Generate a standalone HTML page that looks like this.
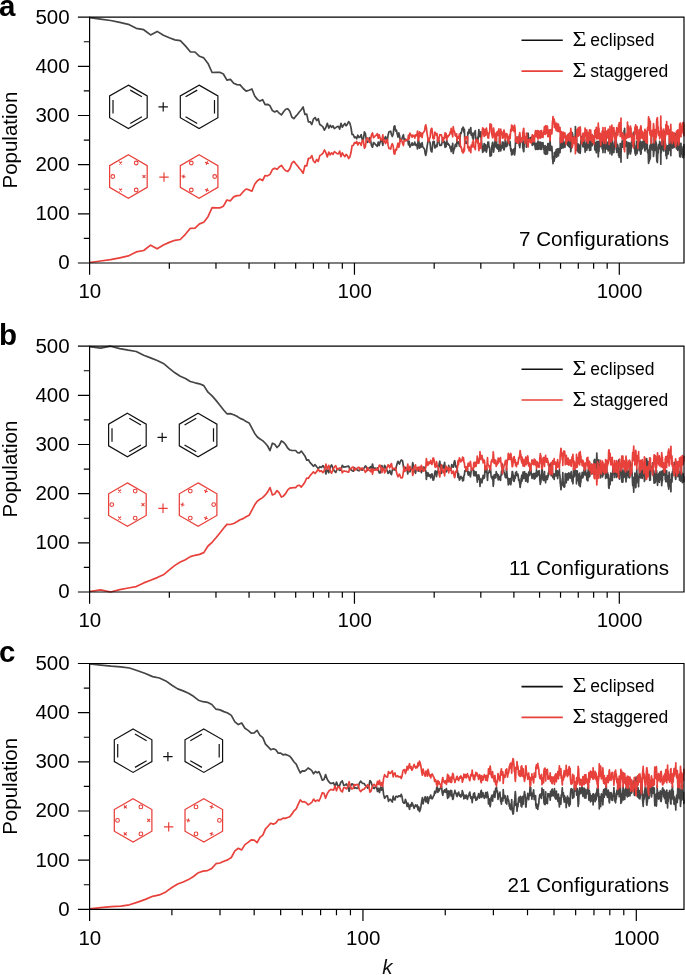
<!DOCTYPE html>
<html lang="en"><head><meta charset="utf-8"><title>Population vs k</title>
<style>html,body{margin:0;padding:0;background:#fff}body{width:685px;height:975px;overflow:hidden}</style></head>
<body>
<svg width="685" height="975" viewBox="0 0 685 975" style="display:block">
<rect width="685" height="975" fill="#fff"/>
<defs>
<clipPath id="cp0"><rect x="89.6" y="16.2" width="595.4" height="247.8"/></clipPath>
<clipPath id="cp1"><rect x="89.6" y="345.1" width="595.4" height="247.8"/></clipPath>
<clipPath id="cp2"><rect x="89.6" y="662.5" width="595.4" height="247.8"/></clipPath>
</defs>
<g font-family="'Liberation Sans', Arial, Helvetica, sans-serif" fill="#000">
<path d="M77.90 263.01H89.60M83.80 238.42H89.60M77.90 213.84H89.60M83.80 189.25H89.60M77.90 164.67H89.60M83.80 140.08H89.60M77.90 115.50H89.60M83.80 90.91H89.60M77.90 66.33H89.60M83.80 41.75H89.60M77.90 17.16H89.60M89.60 263.01V274.71M169.33 263.01V268.81M215.97 263.01V268.81M249.06 263.01V268.81M274.72 263.01V268.81M295.69 263.01V268.81M313.42 263.01V268.81M328.78 263.01V268.81M342.33 263.01V268.81M354.45 263.01V274.71M434.18 263.01V268.81M480.82 263.01V268.81M513.91 263.01V268.81M539.57 263.01V268.81M560.54 263.01V268.81M578.27 263.01V268.81M593.63 263.01V268.81M607.18 263.01V268.81M619.30 263.01V274.71" stroke="#000" stroke-width="1.20" fill="none"/>
<g clip-path="url(#cp0)" fill="none" stroke-linejoin="round" stroke-width="1.7">
<path d="M89.6 17.7L100.6 19.2L110.6 20.5L119.8 22.4L128.3 24.3L136.2 28.3L143.7 29.7L150.6 34.9L157.2 31.4L163.4 35.2L169.3 37.8L174.9 39.9L180.3 40.7L185.4 45.9L190.3 51.8L195.0 52.0L199.5 56.3L203.8 57.9L208.0 63.4L212.1 72.5L216.0 72.4L219.7 72.3L223.4 74.0L226.9 80.2L230.4 79.4L233.7 83.3L236.9 84.6L240.1 84.9L243.2 88.5L246.1 91.1L249.1 90.2L251.9 89.0L254.7 96.0L257.4 99.4L260.0 101.1L262.6 99.7L265.1 104.6L267.6 104.3L270.0 105.8L272.4 110.6L274.7 112.0L277.0 110.8L279.2 113.2L281.4 114.9L283.6 111.7L285.7 109.3L287.8 108.7L289.8 111.3L291.8 117.0L293.8 118.7L295.7 116.4L297.6 114.2L299.5 111.7L301.3 109.7L303.1 107.0L304.9 114.5L306.7 114.1L308.4 121.9L310.1 121.8L311.8 124.6L313.4 119.2L315.1 117.5L316.7 120.6L318.3 118.7L319.8 124.6L321.4 125.5L322.9 126.9L324.4 130.2L325.9 127.5L327.3 123.3L328.8 128.1L330.2 125.3L331.6 127.3L333.0 125.8L334.4 128.6L335.8 127.6L337.1 126.6L338.4 126.4L339.7 129.0L341.0 123.4L342.3 127.2L343.6 125.1L344.9 123.5L346.1 125.8L347.3 124.4L348.6 121.7L349.8 123.0L350.9 127.1L352.1 134.5L353.3 134.7L354.5 137.6L355.6 137.0L356.7 138.8L357.8 135.2L359.0 137.5L360.1 137.2L361.2 134.7L362.2 139.6L363.3 140.0L364.4 131.9L365.4 133.6L366.5 141.2L367.5 142.4L368.5 140.7L369.5 137.7L370.5 140.2L371.5 145.5L372.5 147.2L373.5 142.5L374.5 143.4L375.4 144.5L376.4 145.2L377.3 146.4L378.3 142.0L379.2 145.5L380.1 142.1L381.0 140.1L381.9 140.3L382.8 145.4L383.7 138.1L384.6 140.3L385.5 136.5L386.4 138.5L387.3 140.8L388.1 135.0L389.0 131.8L389.8 131.7L390.7 131.1L391.5 134.7L392.3 136.5L393.2 134.2L394.0 126.7L394.8 125.9L395.6 130.9L396.4 130.1L397.2 133.8L398.0 137.1L398.8 132.9L399.5 135.5L400.3 140.8L401.1 140.2L401.9 139.1L402.6 136.7L403.4 134.7L404.1 139.6L404.9 139.1L405.6 139.4L406.3 140.5L407.1 140.1L407.8 140.2L408.5 145.0L409.2 141.3L409.9 147.1L410.6 145.6L411.4 144.8L412.1 142.9L412.7 145.2L413.4 144.2L414.1 144.6L414.8 142.1L415.5 145.3L416.2 145.1L416.8 144.4L417.5 149.0L418.2 139.3L418.8 141.2L419.5 148.2L420.1 143.7L420.8 147.3L421.4 146.6L422.1 142.6L422.7 146.8L423.3 147.6L424.0 148.5L424.6 149.4L425.2 153.7L425.8 155.4L426.4 152.4L427.1 146.3L427.7 143.0L428.3 138.6L428.9 139.2L429.5 141.7L430.1 142.6L430.7 149.2L431.3 151.6L431.9 151.9L432.4 146.9L433.0 141.7L433.6 141.3L434.2 141.5L434.8 148.0L435.3 147.6L435.9 145.9L436.5 144.9L437.0 146.7L437.6 139.8L438.1 138.7L438.7 139.9L439.2 143.0L439.8 145.5L440.3 145.2L440.9 145.5L441.4 145.2L442.0 142.7L442.5 139.5L443.0 138.5L443.6 142.3L444.1 141.3L444.6 144.2L445.1 147.3L445.7 142.5L446.2 146.6L446.7 140.2L447.2 142.7L447.7 144.2L448.2 143.4L448.7 145.1L449.2 144.9L449.8 146.1L450.3 148.6L450.8 148.7L451.2 151.7L451.7 146.4L452.2 148.2L452.7 143.4L453.2 153.5L453.7 150.7L454.2 148.9L454.7 148.3L455.1 145.0L455.6 144.2L456.1 145.4L456.6 146.4L457.1 139.3L457.5 142.5L458.0 142.6L458.5 143.7L458.9 141.9L459.4 146.1L459.8 143.9L460.3 135.3L460.8 132.6L461.2 133.2L461.7 131.0L462.1 128.5L462.6 129.6L463.0 127.1L463.5 127.7L463.9 132.1L464.4 129.3L464.8 140.9L465.2 143.2L465.7 141.3L466.1 143.3L466.5 142.5L467.0 143.3L467.4 143.5L467.8 132.6L468.3 131.8L468.7 133.7L469.1 129.4L469.5 133.0L470.0 131.0L470.4 132.7L470.8 127.5L471.2 135.1L471.6 133.2L472.1 133.1L472.5 137.9L472.9 134.9L473.3 139.8L473.7 134.6L474.1 132.9L474.5 132.2L474.9 132.6L475.3 130.6L475.7 138.8L476.1 139.2L476.5 141.1L476.9 139.0L477.3 139.2L477.7 137.0L478.1 139.8L478.5 134.0L478.9 129.5L479.3 133.8L479.7 135.6L480.0 136.7L480.4 134.9L480.8 131.8L481.2 139.0L481.6 142.1L482.0 145.6L482.3 149.0L482.7 152.3L483.1 148.8L483.5 151.5L483.8 145.8L484.2 143.7L484.6 148.0L485.0 150.5L485.3 150.6L485.7 144.7L486.1 147.4L486.4 152.2L486.8 149.8L487.2 146.7L487.5 147.8L487.9 142.1L488.2 142.4L488.6 142.1L489.0 146.7L489.3 146.9L489.7 148.3L490.0 156.2L490.4 152.3L490.7 155.9L491.1 152.6L491.4 155.4L491.8 146.3L492.1 144.9L492.5 142.7L492.8 142.3L493.2 146.2L493.5 152.1L493.9 150.0L494.2 145.4L494.5 145.2L494.9 142.5L495.2 140.0L495.5 146.8L495.9 145.7L496.2 139.1L496.6 141.5L496.9 148.1L497.2 147.7L497.6 148.9L497.9 144.9L498.2 147.1L498.5 145.2L498.9 151.4L499.2 147.2L499.5 139.9L499.9 136.3L500.2 142.0L500.5 141.5L500.8 151.0L501.1 146.7L501.5 145.8L501.8 148.3L502.1 146.4L502.4 146.0L502.7 142.1L503.1 142.3L503.4 143.2L503.7 148.7L504.0 150.0L504.3 148.8L504.6 147.3L504.9 146.3L505.2 140.1L505.6 144.4L505.9 145.5L506.2 144.6L506.5 146.6L506.8 144.6L507.1 145.9L507.4 140.8L507.7 141.9L508.0 138.9L508.3 140.4L508.6 136.9L508.9 143.7L509.2 143.0L509.5 145.3L509.8 144.7L510.1 141.5L510.4 146.1L510.7 149.9L511.0 151.2L511.3 148.9L511.6 155.0L511.9 152.8L512.2 153.7L512.5 154.4L512.7 153.1L513.0 149.8L513.3 150.5L513.6 150.9L513.9 149.3L514.2 148.6L514.5 155.0L514.8 153.5L515.1 150.9L515.3 146.0L515.6 139.4L515.9 138.3L516.2 140.2L516.5 143.1L516.7 142.6L517.0 139.7L517.3 137.3L517.6 142.0L517.9 142.1L518.1 140.1L518.4 136.9L518.7 138.1L519.0 142.7L519.2 145.4L519.5 145.9L519.8 147.6L520.1 144.4L520.3 141.4L520.6 140.4L520.9 137.9L521.1 140.7L521.4 140.2L521.7 141.5L522.0 141.8L522.2 138.8L522.5 140.5L522.8 147.9L523.0 148.0L523.3 149.6L523.6 151.7L523.8 151.6L524.1 145.4L524.3 140.8L524.6 142.9L524.9 139.4L525.1 136.7L525.4 142.2L525.7 142.5L525.9 142.8L526.2 142.3L526.4 147.2L526.7 146.5L526.9 142.1L527.2 138.2L527.5 133.8L527.7 137.0L528.0 133.2L528.2 133.5L528.5 140.3L528.7 138.1L529.0 140.7L529.2 139.7L529.5 140.9L529.7 138.4L530.0 138.3L530.2 140.2L530.5 137.9L530.7 137.7L531.0 140.4L531.2 137.1L531.5 139.1L531.7 140.3L532.0 142.0L532.2 145.1L532.5 145.3L532.7 138.8L532.9 141.8L533.2 140.7L533.4 143.8L533.7 144.4L533.9 139.3L534.2 138.3L534.4 141.1L534.6 142.2L534.9 144.9L535.1 147.1L535.4 148.8L535.6 149.5L535.8 147.8L536.1 145.1L536.3 143.4L536.5 143.4L536.8 147.5L537.0 147.1L537.2 149.5L537.5 144.4L537.7 143.0L538.0 141.0L538.2 142.8L538.4 149.3L538.6 145.6L538.9 142.9L539.1 148.8L539.3 147.4L539.6 143.3L539.8 148.4L540.0 141.9L540.3 144.9L540.5 149.3L540.7 143.7L540.9 143.3L541.2 146.2L541.4 142.7L541.6 149.5L541.8 142.8L542.1 146.4L542.3 145.5L542.5 146.9L542.7 144.8L543.0 142.7L543.2 146.2L543.4 145.1L543.6 147.6L543.9 149.5L544.1 150.0L544.3 152.7L544.5 153.6L544.7 149.4L545.0 149.4L545.2 145.7L545.4 146.2L545.6 149.8L545.8 154.4L546.1 154.2L546.3 151.6L546.5 150.3L546.7 151.9L546.9 146.7L547.1 151.3L547.4 154.0L547.6 151.7L547.8 143.7L548.0 143.6L548.2 148.0L548.4 146.1L548.6 145.8L548.8 143.6L549.1 146.5L549.3 150.3L549.5 149.9L549.7 149.0L549.9 143.7L550.1 139.5L550.3 144.5L550.5 147.4L550.7 148.7L551.0 150.7L551.2 149.0L551.4 148.2L551.6 148.7L551.8 146.4L552.0 148.4L552.2 152.1L552.4 157.4L552.6 159.2L552.8 160.3L553.0 163.7L553.2 159.2L553.4 156.9L553.6 156.9L553.8 157.4L554.0 160.9L554.2 161.1L554.4 152.7L554.6 159.2L554.8 157.6L555.0 154.1L555.2 152.8L555.4 154.1L555.6 151.6L555.8 156.2L556.0 154.0L556.2 149.7L556.4 154.0L556.6 157.2L556.8 156.7L557.0 153.9L557.2 149.8L557.4 148.8L557.6 151.0L557.8 155.3L558.0 153.5L558.2 152.3L558.4 156.0L558.6 154.3L558.8 152.3L559.0 148.5L559.2 152.9L559.4 149.3L559.6 151.9L559.8 152.7L560.0 152.7L560.2 147.4L560.4 137.4L560.5 140.1L560.7 140.7L560.9 140.0L561.1 145.0L561.3 143.3L561.5 148.5L561.7 142.0L561.9 138.3L562.1 138.6L562.3 143.0L562.4 138.1L562.6 139.4L562.8 140.6L563.0 140.4L563.2 147.9L563.4 146.4L563.6 143.2L563.8 142.0L563.9 142.4L564.1 146.3L564.3 144.0L564.5 143.4L564.7 145.0L564.9 147.3L565.1 145.5L565.2 142.9L565.4 143.3L565.6 141.7L565.8 139.0L566.0 136.1L566.2 137.5L566.3 140.2L566.5 142.9L566.7 143.7L566.9 141.5L567.1 138.6L567.2 141.7L567.4 142.2L567.6 145.5L567.8 140.5L568.0 142.7L568.1 141.1L568.3 144.5L568.5 145.2L568.7 146.4L568.9 140.3L569.0 139.7L569.2 141.0L569.4 144.6L569.6 147.1L569.8 144.5L569.9 138.9L570.1 144.6L570.3 146.9L570.5 146.1L570.6 147.4L570.8 151.8L571.0 148.6L571.2 144.1L571.3 148.6L571.5 146.4L571.7 141.6L571.9 137.9L572.0 140.1L572.2 132.7L572.4 133.0L572.5 137.7L572.7 134.4L572.9 140.2L573.1 137.1L573.2 142.7L573.4 140.2L573.6 142.0L573.7 138.9L573.9 137.8L574.1 138.1L574.3 139.5L574.4 136.8L574.6 143.6L574.8 142.3L574.9 140.6L575.1 139.9L575.3 136.9L575.4 126.5L575.6 130.4L575.8 130.7L576.0 133.1L576.1 130.5L576.3 141.0L576.5 135.7L576.6 139.4L576.8 147.8L577.0 150.7L577.1 149.3L577.3 146.6L577.4 146.8L577.6 144.0L577.8 144.2L577.9 144.9L578.1 152.0L578.3 148.7L578.4 144.0L578.6 145.1L578.8 150.4L578.9 152.6L579.1 145.1L579.3 148.0L579.4 149.2L579.6 150.4L579.7 146.4L579.9 148.1L580.1 149.0L580.2 153.4L580.4 151.0L580.6 145.6L580.7 145.1L580.9 141.0L581.0 140.5L581.2 140.3L581.4 140.4L581.5 140.3L581.7 137.2L581.8 136.4L582.0 140.2L582.2 141.1L582.3 141.8L582.5 140.2L582.6 141.1L582.8 140.9L582.9 146.7L583.1 144.7L583.3 140.0L583.4 144.9L583.6 139.4L583.7 139.2L583.9 140.2L584.0 146.9L584.2 141.1L584.4 144.7L584.5 145.6L584.7 143.9L584.8 147.1L585.0 149.6L585.1 152.2L585.3 150.3L585.4 147.2L585.6 144.9L585.7 144.4L585.9 145.9L586.1 144.5L586.2 146.6L586.4 139.1L586.5 140.1L586.7 148.4L586.8 150.3L587.0 142.9L587.1 147.2L587.3 147.7L587.4 144.6L587.6 148.0L587.7 142.8L587.9 136.9L588.0 141.5L588.2 137.3L588.3 141.4L588.5 144.5L588.6 143.8L588.8 143.3L588.9 145.5L589.1 141.9L589.2 146.5L589.4 148.1L589.5 150.4L589.7 145.6L589.8 142.2L590.0 139.9L590.1 144.6L590.3 143.9L590.4 141.9L590.6 148.2L590.7 150.1L590.9 145.9L591.0 143.2L591.2 142.2L591.3 140.5L591.5 140.2L591.6 139.6L591.7 140.5L591.9 144.2L592.0 144.9L592.2 145.7L592.3 138.0L592.5 137.9L592.6 139.2L592.8 141.9L592.9 143.3L593.1 143.7L593.2 141.8L593.3 141.2L593.5 138.8L593.6 141.8L593.8 139.7L593.9 136.1L594.1 141.6L594.2 140.4L594.4 140.2L594.5 141.9L594.6 144.4L594.8 149.8L594.9 144.6L595.1 147.7L595.2 149.8L595.3 145.2L595.5 150.7L595.6 146.2L595.8 143.8L595.9 142.8L596.1 144.1L596.2 147.9L596.3 152.8L596.5 145.6L596.6 146.3L596.8 147.2L596.9 141.3L597.0 143.9L597.2 143.7L597.3 144.3L597.5 144.2L597.6 147.0L597.7 148.5L597.9 143.4L598.0 141.7L598.1 152.2L598.3 157.0L598.4 153.5L598.6 152.4L598.7 151.6L598.8 146.1L599.0 151.5L599.1 145.8L599.2 144.8L599.4 142.8L599.5 142.1L599.7 139.9L599.8 142.3L599.9 145.1L600.1 142.3L600.2 141.4L600.3 146.7L600.5 142.3L600.6 138.5L600.7 134.7L600.9 137.1L601.0 138.0L601.1 141.2L601.3 145.3L601.4 143.4L601.5 143.2L601.7 145.5L601.8 139.2L602.0 145.7L602.1 147.8L602.2 149.0L602.4 144.0L602.5 145.4L602.6 145.9L602.8 148.4L602.9 149.9L603.0 152.6L603.1 147.6L603.3 144.2L603.4 141.2L603.5 144.7L603.7 136.8L603.8 142.1L603.9 148.4L604.1 148.3L604.2 146.8L604.3 142.8L604.5 146.6L604.6 144.7L604.7 139.2L604.9 143.5L605.0 147.2L605.1 152.7L605.2 150.3L605.4 145.3L605.5 142.3L605.6 140.0L605.8 136.6L605.9 138.4L606.0 137.7L606.2 142.9L606.3 147.5L606.4 146.7L606.5 148.7L606.7 146.5L606.8 141.8L606.9 142.0L607.1 146.5L607.2 149.2L607.3 144.5L607.4 147.6L607.6 147.3L607.7 147.9L607.8 147.8L607.9 143.8L608.1 145.8L608.2 151.0L608.3 145.4L608.5 144.5L608.6 142.3L608.7 143.4L608.8 142.3L609.0 139.3L609.1 135.8L609.2 139.3L609.3 142.2L609.5 142.4L609.6 142.9L609.7 142.0L609.8 145.3L610.0 153.8L610.1 151.5L610.2 147.0L610.3 144.8L610.5 140.2L610.6 139.0L610.7 141.9L610.8 139.2L611.0 140.9L611.1 138.1L611.2 138.9L611.3 139.7L611.4 141.0L611.6 141.6L611.7 147.6L611.8 147.2L611.9 155.0L612.1 152.2L612.2 147.7L612.3 140.8L612.4 140.1L612.5 144.3L612.7 150.1L612.8 143.1L612.9 149.1L613.0 144.9L613.2 152.2L613.3 150.9L613.4 148.3L613.5 146.7L613.6 146.5L613.8 149.5L613.9 152.6L614.0 147.2L614.1 146.3L614.2 146.4L614.4 146.1L614.5 149.5L614.6 145.1L614.7 141.8L614.8 145.6L615.0 145.6L615.1 141.9L615.2 144.5L615.3 138.1L615.4 135.4L615.6 138.1L615.7 136.8L615.8 133.2L615.9 141.0L616.0 140.3L616.2 141.9L616.3 143.9L616.4 141.9L616.5 143.8L616.6 148.1L616.7 152.5L616.9 151.9L617.0 149.9L617.1 149.7L617.2 150.6L617.3 150.0L617.4 146.4L617.6 144.7L617.7 147.9L617.8 149.8L617.9 145.5L618.0 147.8L618.1 149.0L618.3 149.0L618.4 152.0L618.5 148.0L618.6 155.3L618.7 149.0L618.8 150.8L619.0 154.1L619.1 152.6L619.2 157.5L619.3 154.5L619.4 150.4L619.5 151.9L619.6 153.0L619.8 148.9L619.9 151.2L620.0 150.4L620.1 148.9L620.2 143.7L620.3 146.5L620.4 147.7L620.6 144.1L620.7 153.1L620.8 153.6L620.9 158.7L621.0 162.2L621.1 152.6L621.2 150.3L621.4 144.4L621.5 145.9L621.6 143.3L621.7 145.3L621.8 147.5L621.9 146.8L622.0 146.5L622.1 140.9L622.3 142.9L622.4 141.7L622.5 142.6L622.6 142.8L622.7 147.2L622.8 142.8L622.9 144.8L623.0 144.3L623.1 145.1L623.3 142.0L623.4 141.3L623.5 141.9L623.6 141.6L623.7 140.7L623.8 138.7L623.9 137.7L624.0 134.9L624.1 130.6L624.3 131.5L624.4 137.7L624.5 133.2L624.6 128.3L624.7 131.4L624.8 134.6L624.9 143.3L625.0 140.4L625.1 144.3L625.2 137.1L625.3 146.4L625.5 145.3L625.6 142.8L625.7 144.2L625.8 146.1L625.9 144.0L626.0 144.7L626.1 145.2L626.2 144.8L626.3 145.7L626.4 145.8L626.5 141.7L626.7 143.5L626.8 142.4L626.9 145.2L627.0 142.1L627.1 147.1L627.2 143.9L627.3 153.3L627.4 154.7L627.5 158.2L627.6 152.8L627.7 150.9L627.8 154.2L627.9 153.9L628.0 147.9L628.2 147.6L628.3 145.4L628.4 149.8L628.5 154.2L628.6 150.5L628.7 142.7L628.8 145.5L628.9 143.5L629.0 146.9L629.1 142.9L629.2 145.4L629.3 146.7L629.4 151.6L629.5 151.4L629.6 149.4L629.7 144.2L629.8 147.4L629.9 143.9L630.1 143.7L630.2 144.4L630.3 147.2L630.4 151.2L630.5 154.0L630.6 147.2L630.7 150.6L630.8 150.8L630.9 145.2L631.0 152.0L631.1 147.9L631.2 148.1L631.3 145.7L631.4 142.2L631.5 143.3L631.6 144.3L631.7 141.2L631.8 139.6L631.9 142.3L632.0 142.8L632.1 146.2L632.2 140.7L632.3 144.5L632.4 143.3L632.5 136.9L632.6 135.6L632.7 137.9L632.8 141.5L632.9 144.0L633.1 141.6L633.2 140.4L633.3 141.0L633.4 132.4L633.5 136.9L633.6 139.3L633.7 141.2L633.8 140.4L633.9 139.5L634.0 140.9L634.1 138.6L634.2 137.9L634.3 139.9L634.4 148.5L634.5 144.6L634.6 147.7L634.7 149.4L634.8 148.4L634.9 151.4L635.0 153.2L635.1 151.9L635.2 152.0L635.3 150.3L635.4 152.3L635.5 152.4L635.6 155.2L635.7 154.3L635.8 151.3L635.9 150.5L636.0 154.2L636.1 153.0L636.2 151.3L636.3 146.0L636.4 145.8L636.5 146.6L636.6 149.0L636.7 141.3L636.8 144.5L636.9 148.3L637.0 148.1L637.1 153.6L637.2 147.9L637.3 146.7L637.4 144.4L637.5 147.2L637.6 148.4L637.7 144.9L637.8 141.7L637.8 133.3L637.9 131.8L638.0 139.6L638.1 140.5L638.2 142.2L638.3 139.4L638.4 140.9L638.5 140.0L638.6 142.7L638.7 142.0L638.8 138.3L638.9 140.8L639.0 147.6L639.1 150.6L639.2 144.3L639.3 143.6L639.4 145.0L639.5 148.0L639.6 143.6L639.7 142.5L639.8 143.5L639.9 145.8L640.0 145.8L640.1 147.1L640.2 145.3L640.3 141.1L640.4 148.2L640.5 152.6L640.6 151.6L640.7 150.5L640.7 153.8L640.8 154.2L640.9 153.6L641.0 153.2L641.1 153.4L641.2 151.9L641.3 147.4L641.4 144.7L641.5 143.1L641.6 142.6L641.7 144.6L641.8 146.0L641.9 143.8L642.0 144.2L642.1 141.9L642.2 142.3L642.3 142.2L642.4 141.8L642.5 147.7L642.5 147.5L642.6 148.8L642.7 145.5L642.8 147.9L642.9 146.5L643.0 147.5L643.1 145.7L643.2 143.1L643.3 143.6L643.4 143.5L643.5 142.5L643.6 140.2L643.7 141.9L643.8 141.9L643.9 143.4L643.9 145.7L644.0 144.7L644.1 143.2L644.2 145.7L644.3 140.2L644.4 143.7L644.5 142.1L644.6 141.5L644.7 147.0L644.8 146.4L644.9 150.9L645.0 150.9L645.1 148.8L645.2 142.9L645.2 141.3L645.3 146.7L645.4 147.2L645.5 142.9L645.6 142.4L645.7 137.8L645.8 141.5L645.9 143.9L646.0 149.1L646.1 148.9L646.2 144.8L646.2 147.3L646.3 144.8L646.4 144.4L646.5 142.9L646.6 144.9L646.7 146.1L646.8 141.3L646.9 146.0L647.0 144.6L647.1 140.8L647.2 140.3L647.2 137.0L647.3 147.8L647.4 148.4L647.5 151.8L647.6 152.4L647.7 152.5L647.8 150.9L647.9 152.8L648.0 149.7L648.1 153.9L648.1 149.8L648.2 150.1L648.3 154.8L648.4 158.9L648.5 161.9L648.6 163.4L648.7 160.9L648.8 154.9L648.9 150.8L648.9 155.0L649.0 161.0L649.1 159.7L649.2 161.6L649.3 160.1L649.4 161.2L649.5 151.5L649.6 155.9L649.7 153.6L649.7 147.1L649.8 148.3L649.9 150.9L650.0 145.3L650.1 151.7L650.2 156.2L650.3 158.9L650.4 156.3L650.4 152.5L650.5 152.5L650.6 144.9L650.7 145.9L650.8 146.3L650.9 147.1L651.0 143.6L651.1 143.3L651.1 144.4L651.2 140.0L651.3 137.4L651.4 136.7L651.5 141.8L651.6 145.5L651.7 146.3L651.8 147.7L651.8 148.2L651.9 148.0L652.0 146.0L652.1 149.2L652.2 148.2L652.3 148.8L652.4 149.6L652.4 149.9L652.5 147.2L652.6 146.8L652.7 149.3L652.8 148.7L652.9 147.7L653.0 146.4L653.0 147.2L653.1 144.4L653.2 144.1L653.3 148.9L653.4 152.9L653.5 156.5L653.6 154.3L653.6 155.0L653.7 154.6L653.8 154.2L653.9 150.1L654.0 143.0L654.1 145.1L654.2 140.0L654.2 139.4L654.3 137.3L654.4 140.0L654.5 144.7L654.6 144.1L654.7 141.4L654.8 147.0L654.8 147.5L654.9 146.8L655.0 144.8L655.1 147.8L655.2 150.4L655.3 147.3L655.3 141.9L655.4 142.2L655.5 140.3L655.6 141.1L655.7 140.7L655.8 143.2L655.8 145.3L655.9 147.1L656.0 146.7L656.1 144.2L656.2 143.8L656.3 142.9L656.3 145.4L656.4 144.3L656.5 154.1L656.6 157.7L656.7 157.5L656.8 161.3L656.8 157.5L656.9 156.0L657.0 156.9L657.1 155.7L657.2 159.6L657.3 160.8L657.3 159.4L657.4 162.6L657.5 158.0L657.6 158.9L657.7 154.4L657.8 153.8L657.8 152.0L657.9 153.7L658.0 152.9L658.1 153.3L658.2 151.5L658.2 146.9L658.3 148.4L658.4 148.2L658.5 146.7L658.6 144.7L658.7 144.9L658.7 145.6L658.8 147.2L658.9 146.1L659.0 144.8L659.1 147.4L659.1 148.1L659.2 146.0L659.3 146.3L659.4 148.3L659.5 145.9L659.6 143.6L659.6 143.1L659.7 141.4L659.8 143.4L659.9 142.8L660.0 142.6L660.0 143.7L660.1 149.3L660.2 148.9L660.3 147.4L660.4 146.0L660.4 147.4L660.5 147.7L660.6 153.2L660.7 157.1L660.8 164.2L660.8 162.3L660.9 155.2L661.0 149.0L661.1 152.1L661.2 149.3L661.2 145.4L661.3 147.0L661.4 152.3L661.5 147.5L661.6 148.6L661.6 149.0L661.7 143.6L661.8 142.4L661.9 139.8L662.0 135.6L662.0 137.0L662.1 140.8L662.2 140.0L662.3 141.8L662.4 140.8L662.4 139.5L662.5 142.6L662.6 143.1L662.7 144.2L662.8 144.6L662.8 144.6L662.9 143.4L663.0 142.8L663.1 146.8L663.1 144.9L663.2 149.9L663.3 143.0L663.4 145.6L663.5 145.6L663.5 141.4L663.6 143.1L663.7 147.5L663.8 151.1L663.8 150.2L663.9 148.5L664.0 145.8L664.1 145.0L664.2 146.9L664.2 145.3L664.3 141.9L664.4 144.6L664.5 134.9L664.5 137.9L664.6 135.6L664.7 131.5L664.8 131.5L664.9 132.9L664.9 133.4L665.0 131.3L665.1 140.7L665.2 140.6L665.2 142.8L665.3 145.9L665.4 145.8L665.5 145.2L665.6 144.4L665.6 146.5L665.7 144.2L665.8 150.0L665.9 152.9L665.9 155.6L666.0 154.5L666.1 154.6L666.2 152.4L666.2 154.2L666.3 150.4L666.4 147.7L666.5 150.0L666.5 154.0L666.6 156.1L666.7 158.6L666.8 154.0L666.9 151.4L666.9 154.4L667.0 147.9L667.1 149.1L667.2 154.8L667.2 151.2L667.3 146.9L667.4 147.0L667.5 149.5L667.5 145.9L667.6 147.3L667.7 148.1L667.8 146.4L667.8 145.9L667.9 147.6L668.0 150.8L668.1 148.1L668.1 154.1L668.2 152.4L668.3 151.4L668.4 148.8L668.4 149.7L668.5 148.6L668.6 146.4L668.7 148.9L668.7 148.0L668.8 146.3L668.9 149.0L669.0 150.5L669.0 146.2L669.1 143.5L669.2 146.4L669.3 144.1L669.3 143.1L669.4 140.1L669.5 137.1L669.6 144.9L669.6 145.1L669.7 141.6L669.8 137.2L669.9 139.4L669.9 143.6L670.0 142.9L670.1 144.8L670.2 144.9L670.2 147.9L670.3 146.1L670.4 144.1L670.4 142.9L670.5 146.6L670.6 150.7L670.7 154.2L670.7 152.1L670.8 155.7L670.9 152.3L671.0 146.8L671.0 147.7L671.1 148.0L671.2 145.0L671.3 142.5L671.3 144.3L671.4 144.6L671.5 144.6L671.5 145.6L671.6 143.7L671.7 142.5L671.8 139.1L671.8 144.1L671.9 140.5L672.0 139.1L672.1 140.2L672.1 138.7L672.2 136.8L672.3 136.6L672.4 138.6L672.4 137.3L672.5 140.2L672.6 143.8L672.6 145.8L672.7 148.1L672.8 146.9L672.9 143.8L672.9 143.2L673.0 138.9L673.1 139.7L673.1 141.3L673.2 142.5L673.3 145.2L673.4 145.4L673.4 141.5L673.5 145.9L673.6 143.9L673.6 143.6L673.7 141.0L673.8 142.2L673.9 141.1L673.9 142.8L674.0 141.9L674.1 147.3L674.1 145.1L674.2 142.7L674.3 147.2L674.4 144.2L674.4 146.8L674.5 143.3L674.6 143.4L674.6 141.6L674.7 140.2L674.8 143.7L674.9 139.2L674.9 136.3L675.0 139.6L675.1 138.1L675.1 137.5L675.2 140.0L675.3 143.1L675.4 139.5L675.4 140.6L675.5 138.9L675.6 133.6L675.6 133.7L675.7 137.2L675.8 135.6L675.9 140.3L675.9 143.1L676.0 135.0L676.1 138.0L676.1 137.3L676.2 140.9L676.3 140.7L676.3 140.9L676.4 148.1L676.5 148.9L676.6 146.5L676.6 143.6L676.7 142.9L676.8 145.2L676.8 144.0L676.9 144.8L677.0 146.5L677.0 145.8L677.1 139.2L677.2 142.4L677.2 139.3L677.3 138.7L677.4 143.3L677.5 146.0L677.5 146.3L677.6 146.7L677.7 146.1L677.7 148.2L677.8 150.4L677.9 146.5L677.9 146.7L678.0 148.4L678.1 148.1L678.1 142.5L678.2 143.5L678.3 147.5L678.4 143.7L678.4 138.3L678.5 135.2L678.6 138.7L678.6 144.2L678.7 140.2L678.8 141.7L678.8 140.8L678.9 141.3L679.0 137.3L679.0 138.2L679.1 139.4L679.2 140.1L679.2 144.1L679.3 143.4L679.4 142.9L679.5 148.8L679.5 151.1L679.6 153.2L679.7 156.4L679.7 154.2L679.8 149.7L679.9 148.6L679.9 152.2L680.0 155.3L680.1 152.5L680.1 151.6L680.2 150.4L680.3 153.2L680.3 156.9L680.4 149.4L680.5 150.6L680.5 150.5L680.6 153.0L680.7 147.3L680.7 148.3L680.8 148.8L680.9 148.4L680.9 148.3L681.0 143.4L681.1 148.6L681.1 146.8L681.2 148.5L681.3 149.6L681.3 151.6L681.4 149.8L681.5 153.1L681.5 153.9L681.6 151.2L681.7 151.8L681.7 152.1L681.8 150.8L681.9 150.1L681.9 150.8L682.0 150.3L682.1 152.3L682.1 149.7L682.2 151.9L682.3 155.8L682.3 153.1L682.4 155.6L682.5 157.1L682.5 156.2L682.6 153.4L682.7 154.0L682.7 153.9L682.8 154.3L682.9 150.8L682.9 152.0L683.0 151.1L683.1 146.6L683.1 147.3L683.2 148.4L683.3 151.1L683.3 152.7L683.4 155.6L683.5 157.2L683.5 157.8L683.6 155.7L683.7 153.2L683.7 153.6L683.8 152.2L683.9 155.5L683.9 149.8L684.0 143.9" stroke="#454545"/>
<path d="M89.6 262.5L100.6 261.0L110.6 259.7L119.8 257.8L128.3 255.9L136.2 251.9L143.7 250.5L150.6 245.2L157.2 248.8L163.4 245.0L169.3 242.4L174.9 240.3L180.3 239.5L185.4 234.3L190.3 228.3L195.0 228.1L199.5 223.9L203.8 222.3L208.0 216.7L212.1 207.7L216.0 207.8L219.7 207.9L223.4 206.2L226.9 200.0L230.4 200.8L233.7 196.9L236.9 195.6L240.1 195.3L243.2 191.7L246.1 189.0L249.1 189.9L251.9 191.2L254.7 184.2L257.4 180.7L260.0 179.0L262.6 180.5L265.1 175.5L267.6 175.9L270.0 174.4L272.4 169.6L274.7 168.2L277.0 169.3L279.2 167.0L281.4 165.3L283.6 168.5L285.7 170.8L287.8 171.4L289.8 168.9L291.8 163.2L293.8 161.4L295.7 163.7L297.6 166.0L299.5 168.5L301.3 170.5L303.1 173.2L304.9 165.7L306.7 166.0L308.4 158.3L310.1 158.4L311.8 155.6L313.4 161.0L315.1 162.7L316.7 159.5L318.3 161.4L319.8 155.6L321.4 154.6L322.9 153.3L324.4 150.0L325.9 152.7L327.3 156.9L328.8 152.1L330.2 154.9L331.6 152.8L333.0 154.3L334.4 151.6L335.8 152.6L337.1 153.6L338.4 153.8L339.7 151.1L341.0 156.7L342.3 152.9L343.6 155.0L344.9 156.7L346.1 154.4L347.3 155.7L348.6 158.5L349.8 157.1L350.9 153.1L352.1 145.7L353.3 145.5L354.5 142.6L355.6 143.2L356.7 141.4L357.8 145.0L359.0 142.6L360.1 143.0L361.2 145.4L362.2 140.6L363.3 140.2L364.4 148.2L365.4 146.5L366.5 139.0L367.5 137.8L368.5 139.5L369.5 142.5L370.5 140.0L371.5 134.7L372.5 133.0L373.5 137.7L374.5 136.8L375.4 135.7L376.4 135.0L377.3 133.7L378.3 138.2L379.2 134.7L380.1 138.1L381.0 140.0L381.9 139.8L382.8 134.8L383.7 142.1L384.6 139.9L385.5 143.6L386.4 141.7L387.3 139.3L388.1 145.2L389.0 148.4L389.8 148.5L390.7 149.1L391.5 145.4L392.3 143.7L393.2 146.0L394.0 153.5L394.8 154.2L395.6 149.3L396.4 150.1L397.2 146.4L398.0 143.1L398.8 147.3L399.5 144.7L400.3 139.4L401.1 140.0L401.9 141.1L402.6 143.4L403.4 145.5L404.1 140.6L404.9 141.0L405.6 140.8L406.3 139.7L407.1 140.1L407.8 140.0L408.5 135.2L409.2 138.9L409.9 133.1L410.6 134.5L411.4 135.4L412.1 137.3L412.7 135.0L413.4 136.0L414.1 135.6L414.8 138.1L415.5 134.9L416.2 135.1L416.8 135.8L417.5 131.2L418.2 140.8L418.8 139.0L419.5 131.9L420.1 136.5L420.8 132.9L421.4 133.6L422.1 137.6L422.7 133.4L423.3 132.5L424.0 131.7L424.6 130.8L425.2 126.4L425.8 124.8L426.4 127.8L427.1 133.8L427.7 137.2L428.3 141.6L428.9 141.0L429.5 138.5L430.1 137.6L430.7 131.0L431.3 128.6L431.9 128.3L432.4 133.3L433.0 138.4L433.6 138.9L434.2 138.6L434.8 132.2L435.3 132.6L435.9 134.2L436.5 135.2L437.0 133.5L437.6 140.4L438.1 141.5L438.7 140.3L439.2 137.2L439.8 134.7L440.3 134.9L440.9 134.7L441.4 134.9L442.0 137.5L442.5 140.7L443.0 141.7L443.6 137.9L444.1 138.9L444.6 136.0L445.1 132.9L445.7 137.7L446.2 133.6L446.7 140.0L447.2 137.4L447.7 136.0L448.2 136.7L448.7 135.1L449.2 135.3L449.8 134.1L450.3 131.6L450.8 131.5L451.2 128.4L451.7 133.8L452.2 131.9L452.7 136.8L453.2 126.7L453.7 129.5L454.2 131.2L454.7 131.9L455.1 135.2L455.6 136.0L456.1 134.8L456.6 133.8L457.1 140.9L457.5 137.7L458.0 137.6L458.5 136.5L458.9 138.3L459.4 134.1L459.8 136.3L460.3 144.8L460.8 147.5L461.2 147.0L461.7 149.1L462.1 151.7L462.6 150.6L463.0 153.0L463.5 152.5L463.9 148.0L464.4 150.9L464.8 139.3L465.2 137.0L465.7 138.9L466.1 136.9L466.5 137.7L467.0 136.9L467.4 136.6L467.8 147.6L468.3 148.4L468.7 146.5L469.1 150.8L469.5 147.2L470.0 149.2L470.4 147.5L470.8 152.6L471.2 145.0L471.6 147.0L472.1 147.1L472.5 142.2L472.9 145.3L473.3 140.3L473.7 145.6L474.1 147.3L474.5 147.9L474.9 147.6L475.3 149.6L475.7 141.3L476.1 141.0L476.5 139.1L476.9 141.2L477.3 141.0L477.7 143.1L478.1 140.3L478.5 146.1L478.9 150.6L479.3 146.3L479.7 144.6L480.0 143.4L480.4 145.3L480.8 148.4L481.2 141.2L481.6 138.1L482.0 134.6L482.3 131.2L482.7 127.9L483.1 131.4L483.5 128.7L483.8 134.3L484.2 136.5L484.6 132.2L485.0 129.7L485.3 129.5L485.7 135.5L486.1 132.7L486.4 128.0L486.8 130.3L487.2 133.4L487.5 132.4L487.9 138.0L488.2 137.8L488.6 138.0L489.0 133.4L489.3 133.2L489.7 131.8L490.0 123.9L490.4 127.8L490.7 124.3L491.1 127.6L491.4 124.7L491.8 133.8L492.1 135.3L492.5 137.4L492.8 137.9L493.2 134.0L493.5 128.0L493.9 130.1L494.2 134.8L494.5 135.0L494.9 137.7L495.2 140.2L495.5 133.4L495.9 134.5L496.2 141.1L496.6 138.6L496.9 132.1L497.2 132.4L497.6 131.3L497.9 135.3L498.2 133.0L498.5 134.9L498.9 128.8L499.2 133.0L499.5 140.3L499.9 143.9L500.2 138.2L500.5 138.6L500.8 129.2L501.1 133.4L501.5 134.4L501.8 131.9L502.1 133.8L502.4 134.2L502.7 138.1L503.1 137.9L503.4 136.9L503.7 131.5L504.0 130.1L504.3 131.4L504.6 132.8L504.9 133.9L505.2 140.0L505.6 135.8L505.9 134.6L506.2 135.6L506.5 133.6L506.8 135.6L507.1 134.2L507.4 139.4L507.7 138.3L508.0 141.3L508.3 139.8L508.6 143.2L508.9 136.5L509.2 137.2L509.5 134.8L509.8 135.5L510.1 138.6L510.4 134.1L510.7 130.3L511.0 129.0L511.3 131.2L511.6 125.2L511.9 127.4L512.2 126.5L512.5 125.8L512.7 127.1L513.0 130.3L513.3 129.7L513.6 129.3L513.9 130.8L514.2 131.6L514.5 125.2L514.8 126.7L515.1 129.3L515.3 134.2L515.6 140.7L515.9 141.9L516.2 139.9L516.5 137.1L516.7 137.6L517.0 140.4L517.3 142.8L517.6 138.2L517.9 138.1L518.1 140.0L518.4 143.3L518.7 142.1L519.0 137.5L519.2 134.8L519.5 134.3L519.8 132.6L520.1 135.7L520.3 138.7L520.6 139.8L520.9 142.3L521.1 139.5L521.4 140.0L521.7 138.7L522.0 138.4L522.2 141.3L522.5 139.6L522.8 132.3L523.0 132.2L523.3 130.6L523.6 128.4L523.8 128.5L524.1 134.8L524.3 139.4L524.6 137.3L524.9 140.7L525.1 143.5L525.4 137.9L525.7 137.6L525.9 137.4L526.2 137.9L526.4 133.0L526.7 133.6L526.9 138.1L527.2 142.0L527.5 146.3L527.7 143.2L528.0 147.0L528.2 146.7L528.5 139.9L528.7 142.1L529.0 139.5L529.2 140.5L529.5 139.2L529.7 141.8L530.0 141.8L530.2 140.0L530.5 142.2L530.7 142.5L531.0 139.8L531.2 143.1L531.5 141.1L531.7 139.9L532.0 138.2L532.2 135.0L532.5 134.8L532.7 141.4L532.9 138.4L533.2 139.5L533.4 136.4L533.7 135.8L533.9 140.9L534.2 141.8L534.4 139.1L534.6 138.0L534.9 135.3L535.1 133.0L535.4 131.4L535.6 130.6L535.8 132.4L536.1 135.1L536.3 136.7L536.5 136.8L536.8 132.7L537.0 133.0L537.2 130.7L537.5 135.8L537.7 137.1L538.0 139.1L538.2 137.4L538.4 130.9L538.6 134.5L538.9 137.2L539.1 131.4L539.3 132.8L539.6 136.9L539.8 131.7L540.0 138.3L540.3 135.3L540.5 130.9L540.7 136.4L540.9 136.8L541.2 134.0L541.4 137.4L541.6 130.7L541.8 137.3L542.1 133.8L542.3 134.6L542.5 133.2L542.7 135.4L543.0 137.4L543.2 133.9L543.4 135.0L543.6 132.5L543.9 130.7L544.1 130.2L544.3 127.5L544.5 126.6L544.7 130.8L545.0 130.7L545.2 134.4L545.4 133.9L545.6 130.4L545.8 125.7L546.1 126.0L546.3 128.6L546.5 129.9L546.7 128.3L546.9 133.5L547.1 128.9L547.4 126.2L547.6 128.5L547.8 136.4L548.0 136.6L548.2 132.2L548.4 134.0L548.6 134.3L548.8 136.6L549.1 133.7L549.3 129.9L549.5 130.3L549.7 131.1L549.9 136.4L550.1 140.7L550.3 135.7L550.5 132.8L550.7 131.4L551.0 129.5L551.2 131.1L551.4 131.9L551.6 131.5L551.8 133.8L552.0 131.8L552.2 128.1L552.4 122.8L552.6 120.9L552.8 119.8L553.0 116.5L553.2 121.0L553.4 123.3L553.6 123.2L553.8 122.8L554.0 119.3L554.2 119.1L554.4 127.5L554.6 121.0L554.8 122.5L555.0 126.0L555.2 127.4L555.4 126.0L555.6 128.6L555.8 124.0L556.0 126.2L556.2 130.5L556.4 126.2L556.6 123.0L556.8 123.5L557.0 126.3L557.2 130.3L557.4 131.4L557.6 129.2L557.8 124.9L558.0 126.6L558.2 127.9L558.4 124.2L558.6 125.9L558.8 127.8L559.0 131.7L559.2 127.3L559.4 130.9L559.6 128.3L559.8 127.4L560.0 127.5L560.2 132.7L560.4 142.8L560.5 140.1L560.7 139.5L560.9 140.2L561.1 135.1L561.3 136.8L561.5 131.7L561.7 138.2L561.9 141.9L562.1 141.5L562.3 137.2L562.4 142.1L562.6 140.8L562.8 139.6L563.0 139.8L563.2 132.2L563.4 133.8L563.6 137.0L563.8 138.1L563.9 137.8L564.1 133.8L564.3 136.2L564.5 136.8L564.7 135.2L564.9 132.9L565.1 134.7L565.2 137.3L565.4 136.9L565.6 138.5L565.8 141.2L566.0 144.1L566.2 142.7L566.3 139.9L566.5 137.3L566.7 136.4L566.9 138.7L567.1 141.5L567.2 138.5L567.4 138.0L567.6 134.7L567.8 139.6L568.0 137.5L568.1 139.1L568.3 135.7L568.5 134.9L568.7 133.8L568.9 139.9L569.0 140.4L569.2 139.1L569.4 135.6L569.6 133.1L569.8 135.6L569.9 141.2L570.1 135.5L570.3 133.3L570.5 134.1L570.6 132.7L570.8 128.4L571.0 131.6L571.2 136.0L571.3 131.6L571.5 133.8L571.7 138.6L571.9 142.3L572.0 140.1L572.2 147.4L572.4 147.1L572.5 142.5L572.7 145.8L572.9 140.0L573.1 143.0L573.2 137.5L573.4 140.0L573.6 138.2L573.7 141.3L573.9 142.4L574.1 142.0L574.3 140.7L574.4 143.4L574.6 136.6L574.8 137.9L574.9 139.6L575.1 140.2L575.3 143.3L575.4 153.7L575.6 149.8L575.8 149.5L576.0 147.0L576.1 149.7L576.3 139.1L576.5 144.5L576.6 140.8L576.8 132.4L577.0 129.5L577.1 130.8L577.3 133.5L577.4 133.4L577.6 136.1L577.8 136.0L577.9 135.3L578.1 128.2L578.3 131.5L578.4 136.2L578.6 135.1L578.8 129.8L578.9 127.6L579.1 135.1L579.3 132.2L579.4 131.0L579.6 129.8L579.7 133.8L579.9 132.1L580.1 131.2L580.2 126.8L580.4 129.1L580.6 134.5L580.7 135.1L580.9 139.2L581.0 139.6L581.2 139.9L581.4 139.8L581.5 139.8L581.7 143.0L581.8 143.8L582.0 140.0L582.2 139.1L582.3 138.4L582.5 139.9L582.6 139.1L582.8 139.3L582.9 133.4L583.1 135.5L583.3 140.1L583.4 135.3L583.6 140.8L583.7 141.0L583.9 140.0L584.0 133.2L584.2 139.1L584.4 135.5L584.5 134.5L584.7 136.2L584.8 133.0L585.0 130.5L585.1 128.0L585.3 129.9L585.4 133.0L585.6 135.2L585.7 135.8L585.9 134.3L586.1 135.7L586.2 133.5L586.4 141.1L586.5 140.0L586.7 131.8L586.8 129.9L587.0 137.2L587.1 133.0L587.3 132.5L587.4 135.6L587.6 132.2L587.7 137.3L587.9 143.3L588.0 138.7L588.2 142.9L588.3 138.8L588.5 135.7L588.6 136.4L588.8 136.8L588.9 134.7L589.1 138.3L589.2 133.7L589.4 132.0L589.5 129.8L589.7 134.6L589.8 138.0L590.0 140.2L590.1 135.5L590.3 136.2L590.4 138.3L590.6 132.0L590.7 130.1L590.9 134.3L591.0 137.0L591.2 138.0L591.3 139.7L591.5 140.0L591.6 140.5L591.7 139.7L591.9 136.0L592.0 135.3L592.2 134.5L592.3 142.2L592.5 142.3L592.6 140.9L592.8 138.3L592.9 136.9L593.1 136.4L593.2 138.4L593.3 139.0L593.5 141.4L593.6 138.4L593.8 140.4L593.9 144.1L594.1 138.6L594.2 139.7L594.4 139.9L594.5 138.3L594.6 135.8L594.8 130.3L594.9 135.5L595.1 132.5L595.2 130.4L595.3 134.9L595.5 129.5L595.6 133.9L595.8 136.4L595.9 137.4L596.1 136.1L596.2 132.3L596.3 127.3L596.5 134.6L596.6 133.9L596.8 133.0L596.9 138.9L597.0 136.3L597.2 136.5L597.3 135.9L597.5 136.0L597.6 133.1L597.7 131.7L597.9 136.7L598.0 138.4L598.1 128.0L598.3 123.2L598.4 126.7L598.6 127.7L598.7 128.5L598.8 134.1L599.0 128.6L599.1 134.4L599.2 135.4L599.4 137.4L599.5 138.1L599.7 140.3L599.8 137.9L599.9 135.1L600.1 137.9L600.2 138.7L600.3 133.4L600.5 137.9L600.6 141.7L600.7 145.4L600.9 143.1L601.0 142.2L601.1 138.9L601.3 134.9L601.4 136.8L601.5 136.9L601.7 134.7L601.8 140.9L602.0 134.5L602.1 132.3L602.2 131.2L602.4 136.2L602.5 134.7L602.6 134.3L602.8 131.8L602.9 130.3L603.0 127.6L603.1 132.6L603.3 136.0L603.4 138.9L603.5 135.5L603.7 143.3L603.8 138.0L603.9 131.8L604.1 131.8L604.2 133.4L604.3 137.3L604.5 133.6L604.6 135.5L604.7 140.9L604.9 136.6L605.0 133.0L605.1 127.5L605.2 129.9L605.4 134.8L605.5 137.9L605.6 140.2L605.8 143.6L605.9 141.8L606.0 142.4L606.2 137.3L606.3 132.7L606.4 133.5L606.5 131.4L606.7 133.6L606.8 138.4L606.9 138.2L607.1 133.6L607.2 131.0L607.3 135.7L607.4 132.5L607.6 132.9L607.7 132.3L607.8 132.4L607.9 136.4L608.1 134.4L608.2 129.2L608.3 134.8L608.5 135.7L608.6 137.9L608.7 136.8L608.8 137.9L609.0 140.9L609.1 144.4L609.2 140.9L609.3 137.9L609.5 137.8L609.6 137.3L609.7 138.2L609.8 134.8L610.0 126.4L610.1 128.7L610.2 133.2L610.3 135.4L610.5 140.0L610.6 141.2L610.7 138.3L610.8 141.0L611.0 139.3L611.1 142.1L611.2 141.3L611.3 140.4L611.4 139.1L611.6 138.6L611.7 132.6L611.8 132.9L611.9 125.2L612.1 128.0L612.2 132.4L612.3 139.3L612.4 140.1L612.5 135.9L612.7 130.1L612.8 137.0L612.9 131.0L613.0 135.3L613.2 128.0L613.3 129.3L613.4 131.9L613.5 133.5L613.6 133.7L613.8 130.7L613.9 127.6L614.0 133.0L614.1 133.9L614.2 133.8L614.4 134.1L614.5 130.7L614.6 135.1L614.7 138.4L614.8 134.5L615.0 134.5L615.1 138.3L615.2 135.7L615.3 142.1L615.4 144.7L615.6 142.1L615.7 143.4L615.8 147.0L615.9 139.2L616.0 139.9L616.2 138.2L616.3 136.3L616.4 138.3L616.5 136.4L616.6 132.1L616.7 127.7L616.9 128.3L617.0 130.2L617.1 130.5L617.2 129.6L617.3 130.2L617.4 133.8L617.6 135.5L617.7 132.3L617.8 130.4L617.9 134.6L618.0 132.3L618.1 131.1L618.3 131.2L618.4 128.1L618.5 132.2L618.6 124.9L618.7 131.2L618.8 129.3L619.0 126.1L619.1 127.6L619.2 122.7L619.3 125.7L619.4 129.8L619.5 128.3L619.6 127.2L619.8 131.2L619.9 128.9L620.0 129.8L620.1 131.3L620.2 136.4L620.3 133.7L620.4 132.5L620.6 136.1L620.7 127.0L620.8 126.5L620.9 121.4L621.0 118.0L621.1 127.6L621.2 129.9L621.4 135.8L621.5 134.2L621.6 136.8L621.7 134.9L621.8 132.7L621.9 133.4L622.0 133.7L622.1 139.2L622.3 137.3L622.4 138.5L622.5 137.6L622.6 137.4L622.7 133.0L622.8 137.4L622.9 135.3L623.0 135.8L623.1 135.1L623.3 138.2L623.4 138.9L623.5 138.3L623.6 138.6L623.7 139.5L623.8 141.5L623.9 142.4L624.0 145.3L624.1 149.6L624.3 148.7L624.4 142.5L624.5 147.0L624.6 151.8L624.7 148.8L624.8 145.5L624.9 136.9L625.0 139.7L625.1 135.9L625.2 143.0L625.3 133.8L625.5 134.9L625.6 137.4L625.7 135.9L625.8 134.0L625.9 136.2L626.0 135.5L626.1 135.0L626.2 135.3L626.3 134.5L626.4 134.4L626.5 138.5L626.7 136.7L626.8 137.8L626.9 135.0L627.0 138.0L627.1 133.1L627.2 136.3L627.3 126.9L627.4 125.5L627.5 122.0L627.6 127.3L627.7 129.3L627.8 126.0L627.9 126.2L628.0 132.2L628.2 132.6L628.3 134.8L628.4 130.3L628.5 126.0L628.6 129.7L628.7 137.5L628.8 134.6L628.9 136.7L629.0 133.2L629.1 137.3L629.2 134.8L629.3 133.4L629.4 128.6L629.5 128.7L629.6 130.8L629.7 136.0L629.8 132.7L629.9 136.2L630.1 136.4L630.2 135.7L630.3 133.0L630.4 129.0L630.5 126.2L630.6 133.0L630.7 129.6L630.8 129.3L630.9 134.9L631.0 128.2L631.1 132.3L631.2 132.1L631.3 134.5L631.4 138.0L631.5 136.9L631.6 135.8L631.7 139.0L631.8 140.6L631.9 137.9L632.0 137.4L632.1 133.9L632.2 139.4L632.3 135.7L632.4 136.9L632.5 143.2L632.6 144.5L632.7 142.2L632.8 138.7L632.9 136.1L633.1 138.6L633.2 139.7L633.3 139.2L633.4 147.8L633.5 143.2L633.6 140.9L633.7 139.0L633.8 139.8L633.9 140.7L634.0 139.3L634.1 141.5L634.2 142.3L634.3 140.3L634.4 131.7L634.5 135.5L634.6 132.5L634.7 130.7L634.8 131.8L634.9 128.8L635.0 127.0L635.1 128.3L635.2 128.2L635.3 129.8L635.4 127.9L635.5 127.8L635.6 124.9L635.7 125.9L635.8 128.9L635.9 129.7L636.0 125.9L636.1 127.1L636.2 128.8L636.3 134.2L636.4 134.4L636.5 133.5L636.6 131.2L636.7 138.9L636.8 135.6L636.9 131.9L637.0 132.1L637.1 126.5L637.2 132.3L637.3 133.5L637.4 135.8L637.5 133.0L637.6 131.7L637.7 135.3L637.8 138.5L637.8 146.8L637.9 148.4L638.0 140.6L638.1 139.7L638.2 137.9L638.3 140.8L638.4 139.3L638.5 140.2L638.6 137.4L638.7 138.2L638.8 141.9L638.9 139.4L639.0 132.6L639.1 129.5L639.2 135.9L639.3 136.6L639.4 135.2L639.5 132.1L639.6 136.6L639.7 137.7L639.8 136.7L639.9 134.4L640.0 134.3L640.1 133.0L640.2 134.9L640.3 139.1L640.4 131.9L640.5 127.6L640.6 128.6L640.7 129.7L640.7 126.4L640.8 125.9L640.9 126.5L641.0 127.0L641.1 126.7L641.2 128.3L641.3 132.8L641.4 135.5L641.5 137.1L641.6 137.5L641.7 135.6L641.8 134.2L641.9 136.4L642.0 136.0L642.1 138.3L642.2 137.9L642.3 137.9L642.4 138.4L642.5 132.5L642.5 132.7L642.6 131.4L642.7 134.7L642.8 132.2L642.9 133.6L643.0 132.6L643.1 134.5L643.2 137.1L643.3 136.6L643.4 136.7L643.5 137.7L643.6 140.0L643.7 138.3L643.8 138.3L643.9 136.8L643.9 134.5L644.0 135.5L644.1 136.9L644.2 134.5L644.3 139.9L644.4 136.5L644.5 138.1L644.6 138.7L644.7 133.2L644.8 133.8L644.9 129.3L645.0 129.3L645.1 131.3L645.2 137.2L645.2 138.8L645.3 133.5L645.4 132.9L645.5 137.2L645.6 137.8L645.7 142.3L645.8 138.7L645.9 136.3L646.0 131.0L646.1 131.3L646.2 135.4L646.2 132.9L646.3 135.3L646.4 135.8L646.5 137.3L646.6 135.3L646.7 134.0L646.8 138.9L646.9 134.2L647.0 135.6L647.1 139.4L647.2 139.9L647.2 143.2L647.3 132.4L647.4 131.7L647.5 128.4L647.6 127.8L647.7 127.7L647.8 129.3L647.9 127.4L648.0 130.5L648.1 126.3L648.1 130.3L648.2 130.0L648.3 125.4L648.4 121.3L648.5 118.3L648.6 116.8L648.7 119.2L648.8 125.3L648.9 129.4L648.9 125.2L649.0 119.2L649.1 120.4L649.2 118.6L649.3 120.0L649.4 119.0L649.5 128.7L649.6 124.3L649.7 126.6L649.7 133.1L649.8 131.9L649.9 129.3L650.0 134.8L650.1 128.5L650.2 124.0L650.3 121.3L650.4 123.9L650.4 127.7L650.5 127.7L650.6 135.3L650.7 134.3L650.8 133.8L650.9 133.0L651.0 136.6L651.1 136.9L651.1 135.8L651.2 140.2L651.3 142.8L651.4 143.5L651.5 138.4L651.6 134.6L651.7 133.8L651.8 132.4L651.8 132.0L651.9 132.1L652.0 134.2L652.1 130.9L652.2 131.9L652.3 131.4L652.4 130.6L652.4 130.3L652.5 132.9L652.6 133.4L652.7 130.8L652.8 131.5L652.9 132.5L653.0 133.8L653.0 133.0L653.1 135.8L653.2 136.0L653.3 131.3L653.4 127.3L653.5 123.7L653.6 125.9L653.6 125.1L653.7 125.6L653.8 126.0L653.9 130.1L654.0 137.2L654.1 135.1L654.2 140.2L654.2 140.7L654.3 142.9L654.4 140.1L654.5 135.5L654.6 136.1L654.7 138.8L654.8 133.2L654.8 132.7L654.9 133.4L655.0 135.4L655.1 132.3L655.2 129.7L655.3 132.9L655.3 138.3L655.4 138.0L655.5 139.9L655.6 139.1L655.7 139.5L655.8 137.0L655.8 134.9L655.9 133.0L656.0 133.4L656.1 136.0L656.2 136.3L656.3 137.2L656.3 134.7L656.4 135.9L656.5 126.1L656.6 122.5L656.7 122.7L656.8 118.9L656.8 122.7L656.9 124.2L657.0 123.3L657.1 124.5L657.2 120.5L657.3 119.4L657.3 120.8L657.4 117.6L657.5 122.1L657.6 121.3L657.7 125.8L657.8 126.4L657.8 128.2L657.9 126.5L658.0 127.3L658.1 126.9L658.2 128.6L658.2 133.2L658.3 131.7L658.4 132.0L658.5 133.4L658.6 135.5L658.7 135.3L658.7 134.6L658.8 133.0L658.9 134.0L659.0 135.3L659.1 132.8L659.1 132.1L659.2 134.2L659.3 133.9L659.4 131.9L659.5 134.3L659.6 136.5L659.6 137.1L659.7 138.8L659.8 136.8L659.9 137.3L660.0 137.6L660.0 136.4L660.1 130.9L660.2 131.3L660.3 132.7L660.4 134.2L660.4 132.8L660.5 132.5L660.6 127.0L660.7 123.1L660.8 116.0L660.8 117.9L660.9 124.9L661.0 131.2L661.1 128.1L661.2 130.9L661.2 134.7L661.3 133.2L661.4 127.9L661.5 132.6L661.6 131.6L661.6 131.2L661.7 136.6L661.8 137.8L661.9 140.4L662.0 144.6L662.0 143.2L662.1 139.3L662.2 140.2L662.3 138.4L662.4 139.4L662.4 140.7L662.5 137.6L662.6 137.1L662.7 136.0L662.8 135.6L662.8 135.6L662.9 136.8L663.0 137.4L663.1 133.4L663.1 135.3L663.2 130.3L663.3 137.1L663.4 134.6L663.5 134.5L663.5 138.7L663.6 137.1L663.7 132.6L663.8 129.1L663.8 130.0L663.9 131.7L664.0 134.3L664.1 135.2L664.2 133.3L664.2 134.9L664.3 138.2L664.4 135.6L664.5 145.3L664.5 142.2L664.6 144.5L664.7 148.7L664.8 148.7L664.9 147.2L664.9 146.7L665.0 148.8L665.1 139.5L665.2 139.5L665.2 137.3L665.3 134.3L665.4 134.3L665.5 135.0L665.6 135.8L665.6 133.7L665.7 135.9L665.8 130.2L665.9 127.3L665.9 124.6L666.0 125.7L666.1 125.5L666.2 127.8L666.2 126.0L666.3 129.8L666.4 132.5L666.5 130.2L666.5 126.2L666.6 124.1L666.7 121.6L666.8 126.2L666.9 128.8L666.9 125.8L667.0 132.3L667.1 131.0L667.2 125.4L667.2 128.9L667.3 133.3L667.4 133.2L667.5 130.6L667.5 134.3L667.6 132.9L667.7 132.1L667.8 133.8L667.8 134.2L667.9 132.6L668.0 129.3L668.1 132.0L668.1 126.1L668.2 127.7L668.3 128.7L668.4 131.4L668.4 130.4L668.5 131.6L668.6 133.8L668.7 131.2L668.7 132.2L668.8 133.9L668.9 131.1L669.0 129.7L669.0 134.0L669.1 136.7L669.2 133.8L669.3 136.1L669.3 137.1L669.4 140.1L669.5 143.0L669.6 135.3L669.6 135.0L669.7 138.6L669.8 143.0L669.9 140.8L669.9 136.6L670.0 137.3L670.1 135.4L670.2 135.2L670.2 132.3L670.3 134.1L670.4 136.1L670.4 137.3L670.5 133.6L670.6 129.4L670.7 126.0L670.7 128.0L670.8 124.4L670.9 127.9L671.0 133.4L671.0 132.4L671.1 132.2L671.2 135.2L671.3 137.7L671.3 135.9L671.4 135.6L671.5 135.5L671.5 134.6L671.6 136.5L671.7 137.7L671.8 141.1L671.8 136.1L671.9 139.7L672.0 141.1L672.1 140.0L672.1 141.4L672.2 143.4L672.3 143.6L672.4 141.5L672.4 142.9L672.5 140.0L672.6 136.3L672.6 134.3L672.7 132.1L672.8 133.2L672.9 136.4L672.9 136.9L673.0 141.3L673.1 140.5L673.1 138.8L673.2 137.7L673.3 135.0L673.4 134.7L673.4 138.7L673.5 134.3L673.6 136.2L673.6 136.5L673.7 139.2L673.8 137.9L673.9 139.1L673.9 137.3L674.0 138.2L674.1 132.9L674.1 135.1L674.2 137.5L674.3 133.0L674.4 136.0L674.4 133.4L674.5 136.8L674.6 136.7L674.6 138.6L674.7 140.0L674.8 136.5L674.9 140.9L674.9 143.8L675.0 140.6L675.1 142.0L675.1 142.7L675.2 140.2L675.3 137.1L675.4 140.7L675.4 139.6L675.5 141.3L675.6 146.6L675.6 146.4L675.7 143.0L675.8 144.6L675.9 139.8L675.9 137.1L676.0 145.2L676.1 142.2L676.1 142.9L676.2 139.3L676.3 139.4L676.3 139.2L676.4 132.1L676.5 131.2L676.6 133.7L676.6 136.6L676.7 137.3L676.8 134.9L676.8 136.2L676.9 135.3L677.0 133.7L677.0 134.4L677.1 141.0L677.2 137.8L677.2 140.8L677.3 141.4L677.4 136.9L677.5 134.2L677.5 133.9L677.6 133.5L677.7 134.1L677.7 131.9L677.8 129.8L677.9 133.7L677.9 133.5L678.0 131.8L678.1 132.0L678.1 137.7L678.2 136.6L678.3 132.7L678.4 136.5L678.4 141.9L678.5 144.9L678.6 141.4L678.6 136.0L678.7 139.9L678.8 138.4L678.8 139.4L678.9 138.9L679.0 142.9L679.0 142.0L679.1 140.7L679.2 140.1L679.2 136.1L679.3 136.8L679.4 137.3L679.5 131.4L679.5 129.1L679.6 126.9L679.7 123.8L679.7 126.0L679.8 130.4L679.9 131.6L679.9 127.9L680.0 124.9L680.1 127.6L680.1 128.5L680.2 129.8L680.3 127.0L680.3 123.2L680.4 130.8L680.5 129.6L680.5 129.7L680.6 127.2L680.7 132.8L680.7 131.8L680.8 131.4L680.9 131.8L680.9 131.9L681.0 136.8L681.1 131.6L681.1 133.4L681.2 131.6L681.3 130.6L681.3 128.6L681.4 130.3L681.5 127.0L681.5 126.2L681.6 129.0L681.7 128.4L681.7 128.1L681.8 129.4L681.9 130.1L681.9 129.4L682.0 129.9L682.1 127.9L682.1 130.5L682.2 128.3L682.3 124.4L682.3 127.1L682.4 124.5L682.5 123.1L682.5 123.9L682.6 126.8L682.7 126.2L682.7 126.2L682.8 125.9L682.9 129.4L682.9 128.2L683.0 129.0L683.1 133.6L683.1 132.9L683.2 131.7L683.3 129.1L683.3 127.5L683.4 124.6L683.5 123.0L683.5 122.4L683.6 124.5L683.7 126.9L683.7 126.6L683.8 127.9L683.9 124.7L683.9 130.3L684.0 136.3" stroke="#e8403a"/>
</g>
<path d="M89.60 17.16H684.00V263.01H89.60Z" stroke="#000" stroke-width="1.20" fill="none"/>
<text x="69.6" y="269.4" font-size="20.5" text-anchor="end">0</text>
<text x="69.6" y="220.2" font-size="20.5" text-anchor="end">100</text>
<text x="69.6" y="171.1" font-size="20.5" text-anchor="end">200</text>
<text x="69.6" y="121.9" font-size="20.5" text-anchor="end">300</text>
<text x="69.6" y="72.7" font-size="20.5" text-anchor="end">400</text>
<text x="69.6" y="23.6" font-size="20.5" text-anchor="end">500</text>
<text x="89.8" y="298.0" font-size="20.5" text-anchor="middle">10</text>
<text x="354.7" y="298.0" font-size="20.5" text-anchor="middle">100</text>
<text x="619.5" y="298.0" font-size="20.5" text-anchor="middle">1000</text>
<text transform="translate(17.2 140.1) rotate(-90)" font-size="20.5" text-anchor="middle">Population</text>
<text x="-1.0" y="15.8" font-size="29.5" font-weight="bold" fill="#000">a</text>
<text x="669" y="245.7" font-size="20.6" text-anchor="end">7 Configurations</text>
<path d="M521.5 40.3H562.8" stroke="#111" stroke-width="1.6"/>
<path d="M521.5 71.1H562.8" stroke="#e8403a" stroke-width="1.6"/>
<text transform="translate(572.6 46.1) scale(1.18 1.03)" font-size="20.5" font-family="'Liberation Serif', 'DejaVu Serif', serif">Σ</text><text x="590.3" y="46.1" font-size="17.5">eclipsed</text>
<text transform="translate(572.6 77.1) scale(1.18 1.03)" font-size="20.5" font-family="'Liberation Serif', 'DejaVu Serif', serif">Σ</text><text x="590.3" y="77.1" font-size="17.5">staggered</text>
<polygon points="128.40,85.11 147.19,95.96 147.19,117.66 128.40,128.51 109.61,117.66 109.61,95.96" fill="none" stroke="#111" stroke-width="1.20" stroke-linejoin="miter"/><line x1="130.27" y1="90.12" x2="141.92" y2="96.84" stroke="#111" stroke-width="1.20"/><line x1="141.92" y1="116.78" x2="130.27" y2="123.50" stroke="#111" stroke-width="1.20"/><line x1="113.01" y1="113.54" x2="113.01" y2="100.08" stroke="#111" stroke-width="1.20"/>
<path d="M158.50 106.91H167.90M163.20 102.21V111.61" stroke="#111" stroke-width="1.20" fill="none"/>
<polygon points="199.10,85.11 217.89,95.96 217.89,117.66 199.10,128.51 180.31,117.66 180.31,95.96" fill="none" stroke="#111" stroke-width="1.20" stroke-linejoin="miter"/><line x1="214.49" y1="100.08" x2="214.49" y2="113.54" stroke="#111" stroke-width="1.20"/><line x1="197.23" y1="123.50" x2="185.58" y2="116.78" stroke="#111" stroke-width="1.20"/><line x1="185.58" y1="96.84" x2="197.23" y2="90.12" stroke="#111" stroke-width="1.20"/>
<polygon points="128.40,154.81 147.19,165.66 147.19,187.36 128.40,198.21 109.61,187.36 109.61,165.66" fill="none" stroke="#e8403a" stroke-width="1.25" stroke-linejoin="miter"/><circle cx="136.20" cy="163.00" r="1.85" fill="none" stroke="#e8403a" stroke-width="1.1"/><path d="M142.55 175.06L145.45 177.96M142.55 177.96L145.45 175.06" stroke="#e8403a" stroke-width="1.1" fill="none"/><circle cx="136.20" cy="190.02" r="1.85" fill="none" stroke="#e8403a" stroke-width="1.1"/><path d="M119.15 188.57L122.05 191.47M119.15 191.47L122.05 188.57" stroke="#e8403a" stroke-width="1.1" fill="none"/><circle cx="112.80" cy="176.51" r="1.85" fill="none" stroke="#e8403a" stroke-width="1.1"/><path d="M119.15 161.55L122.05 164.45M119.15 164.45L122.05 161.55" stroke="#e8403a" stroke-width="1.1" fill="none"/>
<path d="M159.30 177.11H168.70M164.00 172.41V181.81" stroke="#e8403a" stroke-width="1.20" fill="none"/>
<polygon points="199.10,154.81 217.89,165.66 217.89,187.36 199.10,198.21 180.31,187.36 180.31,165.66" fill="none" stroke="#e8403a" stroke-width="1.25" stroke-linejoin="miter"/><path d="M206.28 164.90L207.52 161.10M205.00 162.38L208.80 163.62" stroke="#e8403a" stroke-width="1.1" fill="none"/><circle cx="214.70" cy="176.51" r="1.85" fill="none" stroke="#e8403a" stroke-width="1.1"/><path d="M206.28 191.92L207.52 188.12M205.00 189.40L208.80 190.64" stroke="#e8403a" stroke-width="1.1" fill="none"/><circle cx="191.30" cy="190.02" r="1.85" fill="none" stroke="#e8403a" stroke-width="1.1"/><path d="M182.88 178.41L184.12 174.61M181.60 175.89L185.40 177.13" stroke="#e8403a" stroke-width="1.1" fill="none"/><circle cx="191.30" cy="163.00" r="1.85" fill="none" stroke="#e8403a" stroke-width="1.1"/>
</g>
<g font-family="'Liberation Sans', Arial, Helvetica, sans-serif" fill="#000">
<path d="M77.90 592.00H89.60M83.80 567.41H89.60M77.90 542.83H89.60M83.80 518.25H89.60M77.90 493.66H89.60M83.80 469.07H89.60M77.90 444.49H89.60M83.80 419.90H89.60M77.90 395.32H89.60M83.80 370.74H89.60M77.90 346.15H89.60M89.60 592.00V603.70M169.33 592.00V597.80M215.97 592.00V597.80M249.06 592.00V597.80M274.72 592.00V597.80M295.69 592.00V597.80M313.42 592.00V597.80M328.78 592.00V597.80M342.33 592.00V597.80M354.45 592.00V603.70M434.18 592.00V597.80M480.82 592.00V597.80M513.91 592.00V597.80M539.57 592.00V597.80M560.54 592.00V597.80M578.27 592.00V597.80M593.63 592.00V597.80M607.18 592.00V597.80M619.30 592.00V603.70" stroke="#000" stroke-width="1.20" fill="none"/>
<g clip-path="url(#cp1)" fill="none" stroke-linejoin="round" stroke-width="1.7">
<path d="M89.6 346.6L100.6 348.2L110.6 346.2L119.8 348.6L128.3 350.2L136.2 351.5L143.7 355.2L150.6 357.9L157.2 360.5L163.4 363.4L169.3 368.4L174.9 372.8L180.3 376.2L185.4 378.5L190.3 381.5L195.0 382.8L199.5 383.8L203.8 385.6L208.0 392.2L212.1 395.9L216.0 400.4L219.7 405.0L223.4 409.7L226.9 413.8L230.4 413.6L233.7 414.7L236.9 416.3L240.1 418.4L243.2 419.6L246.1 421.5L249.1 422.9L251.9 428.1L254.7 433.4L257.4 437.0L260.0 439.0L262.6 440.6L265.1 443.0L267.6 446.0L270.0 450.5L272.4 443.2L274.7 444.2L277.0 447.5L279.2 445.3L281.4 441.0L283.6 442.2L285.7 444.8L287.8 448.2L289.8 450.0L291.8 450.3L293.8 450.5L295.7 450.5L297.6 452.7L299.5 452.8L301.3 451.1L303.1 453.5L304.9 455.9L306.7 460.2L308.4 459.8L310.1 462.6L311.8 464.4L313.4 466.3L315.1 464.7L316.7 466.8L318.3 468.7L319.8 466.7L321.4 467.5L322.9 465.6L324.4 467.7L325.9 474.0L327.3 468.9L328.8 472.8L330.2 467.2L331.6 464.9L333.0 468.6L334.4 471.2L335.8 472.5L337.1 468.5L338.4 469.3L339.7 470.3L341.0 470.0L342.3 465.3L343.6 467.1L344.9 466.9L346.1 466.8L347.3 466.3L348.6 466.0L349.8 469.3L350.9 469.6L352.1 470.7L353.3 471.1L354.5 467.7L355.6 469.5L356.7 469.4L357.8 470.5L359.0 470.8L360.1 468.3L361.2 469.6L362.2 470.2L363.3 468.6L364.4 467.9L365.4 465.9L366.5 467.2L367.5 470.5L368.5 468.3L369.5 467.9L370.5 466.7L371.5 469.2L372.5 464.0L373.5 468.9L374.5 468.0L375.4 468.1L376.4 469.6L377.3 467.8L378.3 469.4L379.2 472.8L380.1 472.9L381.0 470.7L381.9 465.5L382.8 470.1L383.7 469.2L384.6 465.4L385.5 466.7L386.4 469.1L387.3 471.0L388.1 473.4L389.0 472.2L389.8 470.4L390.7 473.6L391.5 474.5L392.3 469.8L393.2 469.1L394.0 469.9L394.8 469.7L395.6 470.2L396.4 466.3L397.2 463.4L398.0 461.3L398.8 463.2L399.5 464.1L400.3 461.6L401.1 460.2L401.9 460.2L402.6 461.1L403.4 466.3L404.1 471.5L404.9 467.0L405.6 468.1L406.3 468.1L407.1 470.0L407.8 474.0L408.5 467.6L409.2 467.5L409.9 471.9L410.6 470.0L411.4 469.3L412.1 468.7L412.7 462.7L413.4 465.6L414.1 471.4L414.8 471.5L415.5 473.3L416.2 469.1L416.8 468.1L417.5 467.9L418.2 471.1L418.8 469.2L419.5 470.8L420.1 466.9L420.8 469.7L421.4 472.7L422.1 468.8L422.7 470.6L423.3 467.0L424.0 467.2L424.6 467.7L425.2 469.2L425.8 470.7L426.4 479.5L427.1 472.6L427.7 476.0L428.3 473.2L428.9 476.2L429.5 475.8L430.1 474.7L430.7 477.8L431.3 475.6L431.9 473.8L432.4 475.5L433.0 480.1L433.6 480.0L434.2 477.3L434.8 472.3L435.3 470.9L435.9 471.3L436.5 476.7L437.0 473.6L437.6 471.1L438.1 471.4L438.7 466.9L439.2 463.6L439.8 461.2L440.3 466.3L440.9 468.2L441.4 473.4L442.0 469.2L442.5 469.0L443.0 465.4L443.6 466.1L444.1 468.0L444.6 462.3L445.1 467.5L445.7 471.0L446.2 471.9L446.7 468.6L447.2 469.0L447.7 469.8L448.2 470.9L448.7 465.3L449.2 467.9L449.8 470.0L450.3 468.7L450.8 470.1L451.2 468.3L451.7 464.7L452.2 466.3L452.7 465.3L453.2 467.2L453.7 465.0L454.2 461.9L454.7 460.6L455.1 462.2L455.6 466.9L456.1 466.5L456.6 466.1L457.1 468.9L457.5 470.8L458.0 477.4L458.5 473.5L458.9 477.1L459.4 480.2L459.8 479.5L460.3 477.8L460.8 476.3L461.2 477.9L461.7 477.3L462.1 477.5L462.6 481.0L463.0 479.8L463.5 480.3L463.9 475.9L464.4 475.0L464.8 471.0L465.2 470.3L465.7 471.2L466.1 468.7L466.5 467.2L467.0 471.3L467.4 468.3L467.8 473.1L468.3 475.1L468.7 471.8L469.1 473.5L469.5 472.3L470.0 475.2L470.4 476.8L470.8 473.8L471.2 470.5L471.6 468.0L472.1 469.6L472.5 468.6L472.9 468.8L473.3 468.8L473.7 474.8L474.1 475.6L474.5 471.4L474.9 475.7L475.3 473.6L475.7 474.8L476.1 471.9L476.5 476.5L476.9 477.2L477.3 482.1L477.7 479.2L478.1 474.8L478.5 479.1L478.9 475.0L479.3 477.9L479.7 478.5L480.0 486.4L480.4 478.9L480.8 481.3L481.2 480.7L481.6 482.5L482.0 482.8L482.3 478.1L482.7 479.7L483.1 475.3L483.5 477.2L483.8 476.2L484.2 478.1L484.6 476.5L485.0 468.3L485.3 469.2L485.7 469.3L486.1 472.2L486.4 471.3L486.8 468.8L487.2 476.5L487.5 480.5L487.9 473.5L488.2 473.3L488.6 473.0L489.0 472.1L489.3 470.8L489.7 470.0L490.0 472.2L490.4 468.3L490.7 471.2L491.1 475.9L491.4 477.4L491.8 477.7L492.1 478.7L492.5 478.3L492.8 476.3L493.2 486.3L493.5 484.1L493.9 478.1L494.2 474.8L494.5 476.8L494.9 478.2L495.2 474.5L495.5 477.0L495.9 477.6L496.2 471.6L496.6 474.7L496.9 473.4L497.2 474.0L497.6 474.4L497.9 476.9L498.2 480.0L498.5 475.1L498.9 479.0L499.2 476.5L499.5 479.4L499.9 478.5L500.2 476.7L500.5 480.5L500.8 476.2L501.1 475.5L501.5 471.1L501.8 474.9L502.1 471.7L502.4 464.4L502.7 466.0L503.1 470.1L503.4 469.3L503.7 470.6L504.0 471.9L504.3 472.8L504.6 474.6L504.9 474.3L505.2 476.9L505.6 477.7L505.9 474.9L506.2 475.9L506.5 468.0L506.8 471.5L507.1 475.1L507.4 478.6L507.7 477.6L508.0 480.2L508.3 484.9L508.6 479.8L508.9 483.5L509.2 478.9L509.5 479.9L509.8 483.7L510.1 478.7L510.4 481.4L510.7 484.7L511.0 483.8L511.3 479.5L511.6 477.1L511.9 475.2L512.2 471.6L512.5 471.5L512.7 472.1L513.0 475.2L513.3 480.6L513.6 480.9L513.9 475.7L514.2 481.5L514.5 477.0L514.8 475.6L515.1 478.4L515.3 477.8L515.6 472.5L515.9 475.5L516.2 473.5L516.5 471.6L516.7 475.3L517.0 474.9L517.3 473.9L517.6 476.0L517.9 474.0L518.1 475.2L518.4 477.7L518.7 480.5L519.0 479.3L519.2 480.5L519.5 482.1L519.8 483.9L520.1 487.5L520.3 486.7L520.6 482.0L520.9 483.6L521.1 478.5L521.4 477.4L521.7 475.7L522.0 481.1L522.2 474.7L522.5 479.7L522.8 477.4L523.0 472.1L523.3 474.5L523.6 477.4L523.8 478.1L524.1 474.7L524.3 471.8L524.6 471.9L524.9 476.3L525.1 478.7L525.4 477.1L525.7 481.1L525.9 481.2L526.2 473.6L526.4 478.0L526.7 474.7L526.9 478.1L527.2 478.7L527.5 478.5L527.7 482.3L528.0 480.8L528.2 475.1L528.5 473.3L528.7 472.2L529.0 475.7L529.2 475.1L529.5 473.5L529.7 471.6L530.0 468.7L530.2 472.9L530.5 467.3L530.7 468.7L531.0 470.2L531.2 475.1L531.5 475.4L531.7 475.9L532.0 478.4L532.2 478.2L532.5 476.3L532.7 477.6L532.9 473.9L533.2 476.6L533.4 473.6L533.7 474.4L533.9 473.5L534.2 479.2L534.4 477.7L534.6 477.5L534.9 474.2L535.1 478.4L535.4 473.2L535.6 477.2L535.8 473.2L536.1 472.6L536.3 476.1L536.5 469.7L536.8 475.1L537.0 476.6L537.2 476.2L537.5 474.9L537.7 474.3L538.0 471.7L538.2 471.3L538.4 471.5L538.6 474.2L538.9 474.9L539.1 470.7L539.3 475.6L539.6 474.6L539.8 480.6L540.0 481.1L540.3 484.5L540.5 478.6L540.7 482.9L540.9 481.9L541.2 477.9L541.4 475.8L541.6 472.1L541.8 469.3L542.1 469.8L542.3 469.6L542.5 472.8L542.7 474.5L543.0 480.0L543.2 479.0L543.4 474.9L543.6 477.2L543.9 480.7L544.1 479.3L544.3 475.3L544.5 471.6L544.7 477.3L545.0 476.1L545.2 478.5L545.4 476.6L545.6 482.8L545.8 477.8L546.1 477.4L546.3 476.3L546.5 475.9L546.7 479.7L546.9 476.7L547.1 478.0L547.4 479.4L547.6 476.6L547.8 475.5L548.0 477.3L548.2 473.1L548.4 475.4L548.6 475.0L548.8 472.7L549.1 470.7L549.3 468.2L549.5 464.5L549.7 466.0L549.9 470.3L550.1 466.9L550.3 463.9L550.5 467.5L550.7 466.6L551.0 470.1L551.2 475.8L551.4 471.9L551.6 471.3L551.8 470.9L552.0 466.9L552.2 463.6L552.4 468.7L552.6 472.4L552.8 477.6L553.0 475.8L553.2 476.9L553.4 474.4L553.6 474.2L553.8 476.1L554.0 476.5L554.2 479.4L554.4 474.0L554.6 476.2L554.8 474.2L555.0 475.9L555.2 475.5L555.4 473.4L555.6 473.5L555.8 476.0L556.0 468.5L556.2 471.2L556.4 471.1L556.6 473.0L556.8 475.9L557.0 470.9L557.2 471.1L557.4 471.0L557.6 478.6L557.8 477.5L558.0 474.6L558.2 474.5L558.4 475.2L558.6 472.2L558.8 472.9L559.0 473.2L559.2 471.2L559.4 469.6L559.6 475.2L559.8 474.7L560.0 476.6L560.2 483.4L560.4 481.1L560.5 486.1L560.7 484.9L560.9 489.7L561.1 489.2L561.3 486.6L561.5 483.2L561.7 483.4L561.9 484.5L562.1 485.2L562.3 478.5L562.4 480.1L562.6 480.3L562.8 472.6L563.0 477.9L563.2 483.6L563.4 484.5L563.6 484.8L563.8 487.0L563.9 485.4L564.1 484.0L564.3 487.1L564.5 483.5L564.7 486.8L564.9 482.5L565.1 481.4L565.2 474.1L565.4 473.6L565.6 475.0L565.8 474.7L566.0 475.2L566.2 478.5L566.3 482.8L566.5 478.3L566.7 474.2L566.9 477.1L567.1 478.0L567.2 479.9L567.4 477.3L567.6 473.8L567.8 476.8L568.0 477.9L568.1 480.0L568.3 479.1L568.5 476.2L568.7 472.9L568.9 474.7L569.0 478.2L569.2 475.9L569.4 474.0L569.6 476.2L569.8 477.0L569.9 476.0L570.1 473.5L570.3 473.5L570.5 473.1L570.6 473.8L570.8 478.3L571.0 476.5L571.2 476.0L571.3 471.7L571.5 476.3L571.7 478.1L571.9 475.8L572.0 481.3L572.2 480.0L572.4 479.4L572.5 480.2L572.7 479.0L572.9 483.8L573.1 480.4L573.2 477.7L573.4 473.5L573.6 468.5L573.7 469.7L573.9 468.5L574.1 477.0L574.3 474.5L574.4 470.9L574.6 468.9L574.8 469.2L574.9 472.1L575.1 473.0L575.3 473.1L575.4 472.2L575.6 470.8L575.8 472.0L576.0 476.2L576.1 470.5L576.3 474.6L576.5 483.8L576.6 478.1L576.8 474.8L577.0 475.0L577.1 471.5L577.3 471.0L577.4 474.9L577.6 474.3L577.8 477.6L577.9 478.6L578.1 480.8L578.3 479.2L578.4 474.4L578.6 477.4L578.8 476.0L578.9 483.3L579.1 485.3L579.3 482.1L579.4 478.3L579.6 475.0L579.7 473.2L579.9 478.1L580.1 479.1L580.2 486.6L580.4 484.0L580.6 481.0L580.7 480.5L580.9 482.1L581.0 479.1L581.2 476.7L581.4 476.0L581.5 477.5L581.7 476.7L581.8 475.7L582.0 474.6L582.2 472.4L582.3 472.6L582.5 477.6L582.6 478.0L582.8 475.4L582.9 476.5L583.1 475.0L583.3 476.9L583.4 472.6L583.6 472.4L583.7 472.6L583.9 471.2L584.0 470.2L584.2 471.5L584.4 468.5L584.5 467.6L584.7 468.2L584.8 469.6L585.0 475.0L585.1 474.0L585.3 472.3L585.4 474.9L585.6 469.5L585.7 471.0L585.9 474.7L586.1 475.4L586.2 474.4L586.4 474.1L586.5 475.9L586.7 475.7L586.8 480.0L587.0 479.9L587.1 476.8L587.3 477.9L587.4 475.4L587.6 472.4L587.7 473.7L587.9 480.9L588.0 475.4L588.2 469.8L588.3 474.7L588.5 473.0L588.6 472.1L588.8 477.4L588.9 477.3L589.1 471.2L589.2 470.5L589.4 469.9L589.5 467.5L589.7 470.6L589.8 476.2L590.0 470.6L590.1 473.4L590.3 473.4L590.4 469.7L590.6 469.5L590.7 469.1L590.9 471.9L591.0 470.6L591.2 464.0L591.3 466.9L591.5 471.8L591.6 471.5L591.7 473.9L591.9 472.8L592.0 472.6L592.2 470.5L592.3 470.1L592.5 469.4L592.6 465.2L592.8 468.9L592.9 468.4L593.1 467.3L593.2 471.7L593.3 474.0L593.5 473.8L593.6 474.5L593.8 469.6L593.9 469.5L594.1 460.0L594.2 463.5L594.4 466.0L594.5 459.9L594.6 464.7L594.8 459.3L594.9 472.5L595.1 474.0L595.2 468.8L595.3 464.1L595.5 463.8L595.6 466.5L595.8 468.3L595.9 466.3L596.1 466.3L596.2 464.0L596.3 467.0L596.5 465.1L596.6 461.4L596.8 453.1L596.9 455.6L597.0 457.6L597.2 463.5L597.3 469.3L597.5 476.3L597.6 472.8L597.7 465.0L597.9 465.8L598.0 474.9L598.1 472.6L598.3 472.3L598.4 472.7L598.6 466.2L598.7 463.4L598.8 459.8L599.0 464.5L599.1 465.0L599.2 469.6L599.4 466.4L599.5 470.8L599.7 466.0L599.8 465.9L599.9 465.4L600.1 470.4L600.2 468.8L600.3 473.8L600.5 476.5L600.6 477.8L600.7 470.9L600.9 470.4L601.0 473.5L601.1 470.9L601.3 464.0L601.4 466.1L601.5 470.8L601.7 474.7L601.8 474.3L602.0 467.7L602.1 469.4L602.2 470.9L602.4 473.5L602.5 477.0L602.6 472.9L602.8 472.0L602.9 471.3L603.0 475.6L603.1 472.8L603.3 471.7L603.4 467.3L603.5 466.0L603.7 469.2L603.8 469.7L603.9 469.8L604.1 470.5L604.2 473.5L604.3 471.7L604.5 465.4L604.6 467.5L604.7 464.4L604.9 467.4L605.0 470.9L605.1 472.3L605.2 474.3L605.4 471.4L605.5 468.4L605.6 478.4L605.8 475.1L605.9 473.6L606.0 468.6L606.2 473.0L606.3 473.8L606.4 470.7L606.5 469.4L606.7 465.4L606.8 470.3L606.9 473.6L607.1 473.3L607.2 477.8L607.3 476.5L607.4 472.8L607.6 472.6L607.7 476.9L607.8 477.7L607.9 477.5L608.1 475.6L608.2 474.4L608.3 475.6L608.5 480.7L608.6 485.7L608.7 487.1L608.8 488.1L609.0 487.1L609.1 488.3L609.2 486.0L609.3 485.6L609.5 483.1L609.6 481.4L609.7 478.5L609.8 481.1L610.0 482.8L610.1 484.7L610.2 483.3L610.3 479.2L610.5 476.0L610.6 475.6L610.7 475.9L610.8 473.1L611.0 473.6L611.1 476.4L611.2 473.5L611.3 475.5L611.4 478.7L611.6 477.9L611.7 480.4L611.8 479.5L611.9 480.1L612.1 480.1L612.2 480.7L612.3 480.5L612.4 477.5L612.5 475.4L612.7 474.2L612.8 469.7L612.9 474.3L613.0 473.1L613.2 469.9L613.3 468.7L613.4 465.7L613.5 470.0L613.6 467.1L613.8 470.9L613.9 467.7L614.0 467.8L614.1 466.9L614.2 470.1L614.4 471.3L614.5 477.4L614.6 474.7L614.7 471.9L614.8 469.8L615.0 467.1L615.1 466.3L615.2 467.1L615.3 467.5L615.4 469.6L615.6 467.5L615.7 467.9L615.8 467.6L615.9 468.9L616.0 471.4L616.2 474.9L616.3 475.1L616.4 472.3L616.5 477.4L616.6 476.0L616.7 465.7L616.9 466.7L617.0 468.9L617.1 469.7L617.2 471.4L617.3 471.3L617.4 472.2L617.6 476.2L617.7 472.2L617.8 473.3L617.9 470.2L618.0 470.6L618.1 469.3L618.3 470.2L618.4 462.6L618.5 462.5L618.6 460.2L618.7 463.9L618.8 471.5L619.0 473.1L619.1 471.6L619.2 472.1L619.3 474.3L619.4 476.0L619.5 479.1L619.6 479.0L619.8 476.9L619.9 474.6L620.0 472.4L620.1 473.9L620.2 473.8L620.3 474.3L620.4 472.2L620.6 471.8L620.7 470.6L620.8 471.5L620.9 472.8L621.0 469.7L621.1 467.3L621.2 474.4L621.4 473.3L621.5 472.3L621.6 470.2L621.7 477.4L621.8 482.0L621.9 481.5L622.0 479.8L622.1 482.1L622.3 477.6L622.4 474.2L622.5 472.0L622.6 470.1L622.7 474.7L622.8 474.5L622.9 482.1L623.0 477.3L623.1 474.1L623.3 472.5L623.4 475.3L623.5 475.3L623.6 472.1L623.7 475.6L623.8 475.2L623.9 473.8L624.0 475.6L624.1 477.5L624.3 473.7L624.4 471.2L624.5 468.3L624.6 468.9L624.7 472.4L624.8 473.5L624.9 475.5L625.0 476.0L625.1 474.4L625.2 470.3L625.3 470.7L625.5 466.2L625.6 471.3L625.7 472.8L625.8 472.4L625.9 478.9L626.0 481.9L626.1 480.5L626.2 478.9L626.3 476.1L626.4 475.0L626.5 475.3L626.7 478.3L626.8 476.9L626.9 471.9L627.0 471.0L627.1 473.3L627.2 472.2L627.3 471.4L627.4 467.7L627.5 469.5L627.6 469.1L627.7 468.6L627.8 469.9L627.9 470.5L628.0 473.0L628.2 472.1L628.3 471.2L628.4 475.8L628.5 476.1L628.6 471.2L628.7 471.8L628.8 477.2L628.9 472.5L629.0 473.4L629.1 473.2L629.2 472.0L629.3 473.4L629.4 476.7L629.5 478.0L629.6 476.4L629.7 476.9L629.8 477.1L629.9 470.2L630.1 469.1L630.2 466.9L630.3 462.2L630.4 464.6L630.5 467.6L630.6 469.3L630.7 469.3L630.8 465.4L630.9 464.5L631.0 466.6L631.1 470.3L631.2 469.5L631.3 465.2L631.4 468.5L631.5 465.1L631.6 465.9L631.7 468.5L631.8 470.6L631.9 473.6L632.0 475.1L632.1 472.1L632.2 476.9L632.3 478.0L632.4 478.8L632.5 482.8L632.6 482.9L632.7 485.7L632.8 482.1L632.9 479.1L633.1 482.7L633.2 477.3L633.3 480.2L633.4 485.0L633.5 488.8L633.6 486.3L633.7 492.1L633.8 489.9L633.9 486.7L634.0 482.5L634.1 482.6L634.2 478.7L634.3 480.6L634.4 477.8L634.5 480.7L634.6 479.6L634.7 480.6L634.8 479.7L634.9 473.2L635.0 473.9L635.1 474.5L635.2 474.7L635.3 474.4L635.4 481.4L635.5 479.3L635.6 482.6L635.7 487.7L635.8 485.3L635.9 487.3L636.0 484.9L636.1 480.9L636.2 481.1L636.3 482.7L636.4 482.1L636.5 475.8L636.6 476.2L636.7 471.8L636.8 469.1L636.9 474.6L637.0 472.7L637.1 477.4L637.2 476.0L637.3 474.9L637.4 476.3L637.5 481.1L637.6 481.9L637.7 481.7L637.8 479.1L637.8 478.9L637.9 477.6L638.0 478.9L638.1 483.2L638.2 481.7L638.3 477.2L638.4 479.6L638.5 481.6L638.6 486.7L638.7 479.3L638.8 481.2L638.9 477.4L639.0 477.1L639.1 477.9L639.2 477.2L639.3 472.0L639.4 467.4L639.5 466.9L639.6 469.3L639.7 466.1L639.8 465.6L639.9 466.7L640.0 465.8L640.1 469.8L640.2 468.0L640.3 469.9L640.4 471.0L640.5 475.3L640.6 474.3L640.7 473.4L640.7 477.8L640.8 476.9L640.9 475.4L641.0 471.9L641.1 469.3L641.2 471.3L641.3 468.3L641.4 468.6L641.5 471.5L641.6 474.5L641.7 472.9L641.8 470.9L641.9 473.3L642.0 472.8L642.1 473.9L642.2 475.9L642.3 478.4L642.4 476.5L642.5 474.8L642.5 473.7L642.6 473.0L642.7 473.0L642.8 470.1L642.9 475.3L643.0 472.9L643.1 475.8L643.2 475.9L643.3 474.8L643.4 474.0L643.5 472.7L643.6 474.7L643.7 469.3L643.8 466.2L643.9 465.7L643.9 464.5L644.0 466.7L644.1 471.8L644.2 476.6L644.3 474.6L644.4 481.4L644.5 475.3L644.6 473.1L644.7 475.1L644.8 476.5L644.9 480.2L645.0 478.5L645.1 477.1L645.2 472.6L645.2 476.3L645.3 472.8L645.4 471.9L645.5 471.5L645.6 471.2L645.7 469.5L645.8 464.2L645.9 461.0L646.0 459.6L646.1 462.7L646.2 464.3L646.2 463.5L646.3 463.1L646.4 467.4L646.5 463.6L646.6 458.7L646.7 459.8L646.8 462.1L646.9 463.1L647.0 466.8L647.1 470.4L647.2 470.3L647.2 471.7L647.3 469.0L647.4 461.1L647.5 461.5L647.6 463.5L647.7 464.3L647.8 464.2L647.9 461.3L648.0 462.7L648.1 461.8L648.1 465.9L648.2 468.9L648.3 470.8L648.4 468.5L648.5 471.3L648.6 467.4L648.7 471.1L648.8 471.3L648.9 472.1L648.9 468.3L649.0 472.1L649.1 475.3L649.2 475.9L649.3 473.2L649.4 471.7L649.5 475.8L649.6 477.0L649.7 480.4L649.7 475.0L649.8 473.7L649.9 472.0L650.0 478.0L650.1 477.4L650.2 477.7L650.3 474.9L650.4 479.9L650.4 474.5L650.5 472.6L650.6 470.9L650.7 474.6L650.8 469.3L650.9 469.4L651.0 468.2L651.1 468.7L651.1 470.0L651.2 469.7L651.3 469.7L651.4 467.2L651.5 467.0L651.6 469.3L651.7 469.2L651.8 466.9L651.8 469.1L651.9 469.9L652.0 467.6L652.1 467.1L652.2 469.3L652.3 467.8L652.4 466.4L652.4 466.3L652.5 466.9L652.6 462.9L652.7 468.4L652.8 468.8L652.9 468.2L653.0 470.8L653.0 473.3L653.1 475.6L653.2 474.9L653.3 474.8L653.4 473.9L653.5 470.6L653.6 472.6L653.6 473.3L653.7 473.3L653.8 479.1L653.9 478.9L654.0 482.2L654.1 482.8L654.2 483.2L654.2 479.2L654.3 480.0L654.4 481.5L654.5 478.6L654.6 477.8L654.7 481.1L654.8 477.3L654.8 473.9L654.9 475.2L655.0 479.5L655.1 480.4L655.2 482.7L655.3 476.6L655.3 477.8L655.4 475.0L655.5 471.4L655.6 471.0L655.7 470.6L655.8 467.7L655.8 465.8L655.9 470.7L656.0 467.9L656.1 475.2L656.2 476.3L656.3 473.5L656.3 479.3L656.4 476.5L656.5 470.3L656.6 471.7L656.7 477.5L656.8 472.1L656.8 475.1L656.9 478.2L657.0 481.2L657.1 481.6L657.2 482.0L657.3 476.2L657.3 478.0L657.4 482.2L657.5 485.3L657.6 484.7L657.7 479.1L657.8 481.7L657.8 482.2L657.9 479.0L658.0 479.5L658.1 479.8L658.2 480.8L658.2 479.3L658.3 479.9L658.4 474.5L658.5 479.3L658.6 476.9L658.7 474.2L658.7 474.8L658.8 476.6L658.9 473.3L659.0 476.8L659.1 477.6L659.1 479.4L659.2 477.9L659.3 480.8L659.4 482.3L659.5 479.6L659.6 478.5L659.6 477.1L659.7 472.1L659.8 477.5L659.9 477.8L660.0 477.1L660.0 472.6L660.1 475.8L660.2 476.4L660.3 474.9L660.4 477.6L660.4 478.8L660.5 478.3L660.6 479.7L660.7 477.6L660.8 474.3L660.8 475.6L660.9 474.4L661.0 472.8L661.1 473.1L661.2 475.2L661.2 471.3L661.3 474.3L661.4 474.2L661.5 472.5L661.6 479.3L661.6 480.9L661.7 485.7L661.8 484.5L661.9 482.1L662.0 482.9L662.0 481.0L662.1 478.1L662.2 479.3L662.3 479.5L662.4 481.0L662.4 478.6L662.5 479.2L662.6 474.1L662.7 470.5L662.8 474.0L662.8 474.2L662.9 473.9L663.0 473.1L663.1 472.7L663.1 474.0L663.2 472.0L663.3 470.4L663.4 470.0L663.5 472.1L663.5 470.6L663.6 475.2L663.7 472.4L663.8 471.4L663.8 474.1L663.9 473.0L664.0 467.3L664.1 468.7L664.2 471.6L664.2 471.1L664.3 469.8L664.4 465.7L664.5 468.0L664.5 466.8L664.6 467.6L664.7 465.8L664.8 466.7L664.9 471.2L664.9 470.3L665.0 468.2L665.1 469.9L665.2 476.9L665.2 479.2L665.3 479.6L665.4 477.4L665.5 478.7L665.6 475.9L665.6 477.9L665.7 481.6L665.8 480.0L665.9 481.4L665.9 477.6L666.0 475.0L666.1 477.2L666.2 479.0L666.2 477.9L666.3 474.4L666.4 474.3L666.5 474.8L666.5 472.1L666.6 470.6L666.7 473.0L666.8 475.5L666.9 481.2L666.9 480.7L667.0 481.7L667.1 479.8L667.2 481.0L667.2 481.3L667.3 481.4L667.4 482.1L667.5 482.3L667.5 482.6L667.6 478.4L667.7 478.3L667.8 477.3L667.8 475.8L667.9 478.3L668.0 483.7L668.1 486.0L668.1 485.9L668.2 484.8L668.3 487.0L668.4 483.1L668.4 482.6L668.5 480.0L668.6 482.0L668.7 489.1L668.7 486.2L668.8 484.0L668.9 477.3L669.0 477.3L669.0 476.6L669.1 472.2L669.2 479.4L669.3 482.8L669.3 486.5L669.4 483.3L669.5 483.3L669.6 480.7L669.6 484.3L669.7 484.7L669.8 484.4L669.9 484.2L669.9 484.0L670.0 481.1L670.1 482.3L670.2 482.1L670.2 482.8L670.3 479.9L670.4 482.6L670.4 484.3L670.5 485.4L670.6 488.3L670.7 487.1L670.7 487.5L670.8 491.3L670.9 491.7L671.0 490.0L671.0 484.2L671.1 483.5L671.2 478.8L671.3 478.3L671.3 474.0L671.4 477.2L671.5 480.4L671.5 480.8L671.6 481.5L671.7 480.6L671.8 479.5L671.8 482.3L671.9 481.1L672.0 482.0L672.1 476.4L672.1 476.5L672.2 478.2L672.3 472.7L672.4 476.7L672.4 471.8L672.5 471.7L672.6 473.2L672.6 474.1L672.7 474.0L672.8 473.2L672.9 475.5L672.9 474.8L673.0 473.2L673.1 473.0L673.1 469.0L673.2 472.3L673.3 473.0L673.4 471.1L673.4 470.8L673.5 467.9L673.6 465.2L673.6 468.7L673.7 465.6L673.8 468.2L673.9 466.0L673.9 466.8L674.0 464.6L674.1 472.4L674.1 470.0L674.2 471.5L674.3 467.9L674.4 464.3L674.4 462.4L674.5 465.0L674.6 466.5L674.6 470.0L674.7 470.8L674.8 470.1L674.9 468.9L674.9 465.5L675.0 468.5L675.1 468.8L675.1 467.5L675.2 468.2L675.3 473.2L675.4 474.0L675.4 474.9L675.5 478.5L675.6 477.7L675.6 478.3L675.7 479.4L675.8 478.5L675.9 477.8L675.9 476.2L676.0 475.3L676.1 474.9L676.1 473.4L676.2 471.9L676.3 473.4L676.3 471.0L676.4 467.9L676.5 469.5L676.6 466.9L676.6 466.2L676.7 466.0L676.8 462.0L676.8 467.2L676.9 465.5L677.0 467.4L677.0 467.0L677.1 473.3L677.2 470.8L677.2 467.2L677.3 470.9L677.4 467.2L677.5 469.7L677.5 470.3L677.6 473.5L677.7 472.3L677.7 473.4L677.8 473.7L677.9 473.5L677.9 476.6L678.0 474.7L678.1 474.8L678.1 471.4L678.2 472.1L678.3 470.7L678.4 470.3L678.4 467.4L678.5 464.9L678.6 466.2L678.6 469.9L678.7 470.8L678.8 472.7L678.8 472.4L678.9 473.1L679.0 471.9L679.0 471.7L679.1 472.1L679.2 474.5L679.2 471.8L679.3 472.8L679.4 477.2L679.5 478.8L679.5 479.2L679.6 480.2L679.7 478.8L679.7 480.1L679.8 479.2L679.9 476.9L679.9 479.2L680.0 480.0L680.1 475.7L680.1 474.8L680.2 472.4L680.3 472.6L680.3 473.1L680.4 474.0L680.5 476.8L680.5 473.7L680.6 476.7L680.7 479.0L680.7 481.1L680.8 475.1L680.9 477.0L680.9 473.0L681.0 476.6L681.1 471.8L681.1 465.7L681.2 467.1L681.3 464.2L681.3 468.8L681.4 471.6L681.5 469.2L681.5 470.1L681.6 471.9L681.7 472.0L681.7 473.3L681.8 475.1L681.9 472.7L681.9 477.8L682.0 479.3L682.1 478.9L682.1 476.2L682.2 476.0L682.3 477.4L682.3 482.6L682.4 474.6L682.5 476.1L682.5 474.5L682.6 478.1L682.7 475.9L682.7 478.7L682.8 479.7L682.9 479.4L682.9 481.8L683.0 479.5L683.1 479.2L683.1 476.1L683.2 473.8L683.3 475.5L683.3 478.0L683.4 478.8L683.5 476.1L683.5 480.0L683.6 476.6L683.7 479.6L683.7 478.2L683.8 476.7L683.9 478.9L683.9 481.8L684.0 480.6" stroke="#454545"/>
<path d="M89.6 591.5L100.6 589.9L110.6 592.0L119.8 589.6L128.3 588.0L136.2 586.6L143.7 582.9L150.6 580.2L157.2 577.6L163.4 574.8L169.3 569.8L174.9 565.4L180.3 562.0L185.4 559.7L190.3 556.6L195.0 555.3L199.5 554.4L203.8 552.6L208.0 546.0L212.1 542.3L216.0 537.8L219.7 533.2L223.4 528.5L226.9 524.4L230.4 524.5L233.7 523.5L236.9 521.8L240.1 519.8L243.2 518.6L246.1 516.7L249.1 515.3L251.9 510.1L254.7 504.8L257.4 501.1L260.0 499.2L262.6 497.6L265.1 495.2L267.6 492.1L270.0 487.6L272.4 495.0L274.7 494.0L277.0 490.6L279.2 492.9L281.4 497.1L283.6 495.9L285.7 493.4L287.8 489.9L289.8 488.1L291.8 487.8L293.8 487.7L295.7 487.6L297.6 485.5L299.5 485.3L301.3 487.1L303.1 484.7L304.9 482.2L306.7 478.0L308.4 478.3L310.1 475.6L311.8 473.7L313.4 471.9L315.1 473.5L316.7 471.4L318.3 469.4L319.8 471.5L321.4 470.7L322.9 472.6L324.4 470.4L325.9 464.1L327.3 469.3L328.8 465.4L330.2 471.0L331.6 473.2L333.0 469.5L334.4 466.9L335.8 465.7L337.1 469.7L338.4 468.9L339.7 467.8L341.0 468.2L342.3 472.8L343.6 471.0L344.9 471.2L346.1 471.3L347.3 471.8L348.6 472.1L349.8 468.8L350.9 468.6L352.1 467.4L353.3 467.1L354.5 470.5L355.6 468.7L356.7 468.8L357.8 467.6L359.0 467.4L360.1 469.9L361.2 468.6L362.2 468.0L363.3 469.5L364.4 470.2L365.4 472.3L366.5 471.0L367.5 467.6L368.5 469.9L369.5 470.3L370.5 471.5L371.5 468.9L372.5 474.1L373.5 469.2L374.5 470.1L375.4 470.1L376.4 468.6L377.3 470.4L378.3 468.7L379.2 465.4L380.1 465.2L381.0 467.5L381.9 472.6L382.8 468.0L383.7 468.9L384.6 472.8L385.5 471.4L386.4 469.1L387.3 467.2L388.1 464.8L389.0 465.9L389.8 467.8L390.7 464.6L391.5 463.6L392.3 468.3L393.2 469.0L394.0 468.2L394.8 468.4L395.6 467.9L396.4 471.8L397.2 474.7L398.0 476.8L398.8 475.0L399.5 474.1L400.3 476.6L401.1 478.0L401.9 478.0L402.6 477.0L403.4 471.9L404.1 466.7L404.9 471.2L405.6 470.0L406.3 470.1L407.1 468.2L407.8 464.1L408.5 470.6L409.2 470.6L409.9 466.3L410.6 468.2L411.4 468.9L412.1 469.4L412.7 475.5L413.4 472.6L414.1 466.8L414.8 466.7L415.5 464.8L416.2 469.0L416.8 470.0L417.5 470.3L418.2 467.0L418.8 469.0L419.5 467.3L420.1 471.3L420.8 468.5L421.4 465.4L422.1 469.4L422.7 467.5L423.3 471.1L424.0 470.9L424.6 470.5L425.2 469.0L425.8 467.4L426.4 458.6L427.1 465.5L427.7 462.2L428.3 464.9L428.9 462.0L429.5 462.3L430.1 463.5L430.7 460.4L431.3 462.6L431.9 464.4L432.4 462.6L433.0 458.1L433.6 458.2L434.2 460.8L434.8 465.9L435.3 467.3L435.9 466.8L436.5 461.5L437.0 464.5L437.6 467.0L438.1 466.7L438.7 471.3L439.2 474.6L439.8 477.0L440.3 471.8L440.9 469.9L441.4 464.7L442.0 469.0L442.5 469.2L443.0 472.7L443.6 472.1L444.1 470.1L444.6 475.8L445.1 470.6L445.7 467.1L446.2 466.3L446.7 469.5L447.2 469.2L447.7 468.3L448.2 467.3L448.7 472.9L449.2 470.2L449.8 468.2L450.3 469.5L450.8 468.0L451.2 469.8L451.7 473.5L452.2 471.9L452.7 472.9L453.2 471.0L453.7 473.1L454.2 476.3L454.7 477.6L455.1 475.9L455.6 471.3L456.1 471.7L456.6 472.1L457.1 469.2L457.5 467.4L458.0 460.7L458.5 464.6L458.9 461.1L459.4 457.9L459.8 458.7L460.3 460.4L460.8 461.9L461.2 460.2L461.7 460.8L462.1 460.6L462.6 457.1L463.0 458.3L463.5 457.9L463.9 462.2L464.4 463.1L464.8 467.2L465.2 467.8L465.7 466.9L466.1 469.4L466.5 471.0L467.0 466.8L467.4 469.9L467.8 465.1L468.3 463.0L468.7 466.3L469.1 464.6L469.5 465.9L470.0 463.0L470.4 461.4L470.8 464.4L471.2 467.6L471.6 470.1L472.1 468.6L472.5 469.6L472.9 469.3L473.3 469.3L473.7 463.3L474.1 462.5L474.5 466.8L474.9 462.4L475.3 464.6L475.7 463.3L476.1 466.3L476.5 461.6L476.9 460.9L477.3 456.0L477.7 458.9L478.1 463.3L478.5 459.0L478.9 463.2L479.3 460.2L479.7 459.6L480.0 451.7L480.4 459.3L480.8 456.9L481.2 457.5L481.6 455.6L482.0 455.4L482.3 460.1L482.7 458.4L483.1 462.8L483.5 460.9L483.8 462.0L484.2 460.1L484.6 461.6L485.0 469.8L485.3 468.9L485.7 468.9L486.1 466.0L486.4 466.8L486.8 469.4L487.2 461.7L487.5 457.6L487.9 464.7L488.2 464.9L488.6 465.1L489.0 466.0L489.3 467.4L489.7 468.1L490.0 466.0L490.4 469.9L490.7 467.0L491.1 462.3L491.4 460.8L491.8 460.4L492.1 459.5L492.5 459.8L492.8 461.8L493.2 451.9L493.5 454.0L493.9 460.0L494.2 463.3L494.5 461.3L494.9 459.9L495.2 463.6L495.5 461.2L495.9 460.5L496.2 466.5L496.6 463.4L496.9 464.8L497.2 464.2L497.6 463.8L497.9 461.2L498.2 458.2L498.5 463.0L498.9 459.1L499.2 461.7L499.5 458.7L499.9 459.7L500.2 461.5L500.5 457.7L500.8 461.9L501.1 462.7L501.5 467.0L501.8 463.2L502.1 466.4L502.4 473.7L502.7 472.2L503.1 468.1L503.4 468.9L503.7 467.6L504.0 466.3L504.3 465.4L504.6 463.5L504.9 463.8L505.2 461.3L505.6 460.4L505.9 463.2L506.2 462.2L506.5 470.2L506.8 466.7L507.1 463.0L507.4 459.5L507.7 460.5L508.0 458.0L508.3 453.3L508.6 458.4L508.9 454.7L509.2 459.2L509.5 458.2L509.8 454.5L510.1 459.5L510.4 456.8L510.7 453.4L511.0 454.3L511.3 458.7L511.6 461.1L511.9 463.0L512.2 466.6L512.5 466.7L512.7 466.0L513.0 462.9L513.3 457.6L513.6 457.2L513.9 462.4L514.2 456.6L514.5 461.2L514.8 462.5L515.1 459.7L515.3 460.3L515.6 465.7L515.9 462.7L516.2 464.6L516.5 466.6L516.7 462.8L517.0 463.2L517.3 464.3L517.6 462.1L517.9 464.1L518.1 462.9L518.4 460.5L518.7 457.6L519.0 458.8L519.2 457.7L519.5 456.1L519.8 454.3L520.1 450.6L520.3 451.4L520.6 456.1L520.9 454.6L521.1 459.7L521.4 460.8L521.7 462.4L522.0 457.1L522.2 463.4L522.5 458.4L522.8 460.8L523.0 466.0L523.3 463.7L523.6 460.8L523.8 460.0L524.1 463.5L524.3 466.4L524.6 466.2L524.9 461.9L525.1 459.4L525.4 461.0L525.7 457.0L525.9 457.0L526.2 464.6L526.4 460.1L526.7 463.5L526.9 460.1L527.2 459.4L527.5 459.6L527.7 455.9L528.0 457.4L528.2 463.0L528.5 464.8L528.7 466.0L529.0 462.5L529.2 463.1L529.5 464.6L529.7 466.6L530.0 469.4L530.2 465.2L530.5 470.9L530.7 469.4L531.0 468.0L531.2 463.1L531.5 462.8L531.7 462.2L532.0 459.8L532.2 460.0L532.5 461.9L532.7 460.5L532.9 464.3L533.2 461.5L533.4 464.6L533.7 463.7L533.9 464.6L534.2 459.0L534.4 460.4L534.6 460.6L534.9 464.0L535.1 459.8L535.4 464.9L535.6 460.9L535.8 464.9L536.1 465.5L536.3 462.0L536.5 468.5L536.8 463.0L537.0 461.6L537.2 461.9L537.5 463.3L537.7 463.9L538.0 466.5L538.2 466.9L538.4 466.6L538.6 463.9L538.9 463.3L539.1 467.4L539.3 462.5L539.6 463.6L539.8 457.6L540.0 457.1L540.3 453.6L540.5 459.6L540.7 455.2L540.9 456.3L541.2 460.3L541.4 462.3L541.6 466.1L541.8 468.8L542.1 468.4L542.3 468.6L542.5 465.4L542.7 463.7L543.0 458.1L543.2 459.2L543.4 463.2L543.6 461.0L543.9 457.4L544.1 458.9L544.3 462.9L544.5 466.5L544.7 460.8L545.0 462.0L545.2 459.7L545.4 461.6L545.6 455.3L545.8 460.3L546.1 460.8L546.3 461.8L546.5 462.2L546.7 458.5L546.9 461.4L547.1 460.1L547.4 458.7L547.6 461.5L547.8 462.6L548.0 460.8L548.2 465.0L548.4 462.7L548.6 463.1L548.8 465.4L549.1 467.5L549.3 470.0L549.5 473.6L549.7 472.1L549.9 467.8L550.1 471.3L550.3 474.3L550.5 470.6L550.7 471.5L551.0 468.0L551.2 462.4L551.4 466.3L551.6 466.9L551.8 467.2L552.0 471.3L552.2 474.6L552.4 469.5L552.6 465.8L552.8 460.6L553.0 462.3L553.2 461.3L553.4 463.8L553.6 464.0L553.8 462.0L554.0 461.6L554.2 458.7L554.4 464.1L554.6 462.0L554.8 463.9L555.0 462.3L555.2 462.7L555.4 464.7L555.6 464.7L555.8 462.1L556.0 469.6L556.2 466.9L556.4 467.1L556.6 465.2L556.8 462.3L557.0 467.3L557.2 467.1L557.4 467.2L557.6 459.6L557.8 460.7L558.0 463.6L558.2 463.7L558.4 462.9L558.6 465.9L558.8 465.2L559.0 465.0L559.2 467.0L559.4 468.5L559.6 463.0L559.8 463.5L560.0 461.5L560.2 454.8L560.4 457.0L560.5 452.1L560.7 453.2L560.9 448.4L561.1 448.9L561.3 451.5L561.5 454.9L561.7 454.8L561.9 453.6L562.1 453.0L562.3 459.7L562.4 458.0L562.6 457.9L562.8 465.5L563.0 460.3L563.2 454.6L563.4 453.6L563.6 453.4L563.8 451.1L563.9 452.7L564.1 454.1L564.3 451.1L564.5 454.6L564.7 451.4L564.9 455.7L565.1 456.8L565.2 464.1L565.4 464.6L565.6 463.1L565.8 463.5L566.0 462.9L566.2 459.6L566.3 455.3L566.5 459.8L566.7 463.9L566.9 461.0L567.1 460.2L567.2 458.3L567.4 460.8L567.6 464.3L567.8 461.4L568.0 460.2L568.1 458.1L568.3 459.0L568.5 462.0L568.7 465.2L568.9 463.4L569.0 459.9L569.2 462.2L569.4 464.1L569.6 462.0L569.8 461.2L569.9 462.1L570.1 464.7L570.3 464.7L570.5 465.0L570.6 464.4L570.8 459.9L571.0 461.7L571.2 462.2L571.3 466.4L571.5 461.8L571.7 460.1L571.9 462.3L572.0 456.9L572.2 458.2L572.4 458.8L572.5 458.0L572.7 459.1L572.9 454.3L573.1 457.8L573.2 460.4L573.4 464.6L573.6 469.7L573.7 468.5L573.9 469.7L574.1 461.1L574.3 463.6L574.4 467.3L574.6 469.2L574.8 468.9L574.9 466.1L575.1 465.2L575.3 465.1L575.4 466.0L575.6 467.4L575.8 466.1L576.0 462.0L576.1 467.7L576.3 463.6L576.5 454.3L576.6 460.1L576.8 463.3L577.0 463.1L577.1 466.7L577.3 467.1L577.4 463.3L577.6 463.9L577.8 460.5L577.9 459.6L578.1 457.4L578.3 459.0L578.4 463.7L578.6 460.8L578.8 462.2L578.9 454.8L579.1 452.9L579.3 456.0L579.4 459.9L579.6 463.1L579.7 465.0L579.9 460.0L580.1 459.0L580.2 451.5L580.4 454.2L580.6 457.2L580.7 457.6L580.9 456.1L581.0 459.1L581.2 461.5L581.4 462.1L581.5 460.7L581.7 461.5L581.8 462.5L582.0 463.5L582.2 465.8L582.3 465.6L582.5 460.5L582.6 460.1L582.8 462.8L582.9 461.6L583.1 463.1L583.3 461.2L583.4 465.5L583.6 465.7L583.7 465.5L583.9 466.9L584.0 467.9L584.2 466.7L584.4 469.6L584.5 470.5L584.7 470.0L584.8 468.6L585.0 463.1L585.1 464.2L585.3 465.8L585.4 463.3L585.6 468.6L585.7 467.2L585.9 463.5L586.1 462.8L586.2 463.8L586.4 464.0L586.5 462.3L586.7 462.5L586.8 458.2L587.0 458.2L587.1 461.3L587.3 460.3L587.4 462.7L587.6 465.7L587.7 464.5L587.9 457.3L588.0 462.7L588.2 468.3L588.3 463.5L588.5 465.1L588.6 466.0L588.8 460.8L588.9 460.9L589.1 466.9L589.2 467.7L589.4 468.2L589.5 470.6L589.7 467.6L589.8 462.0L590.0 467.6L590.1 464.8L590.3 464.8L590.4 468.4L590.6 468.7L590.7 469.0L590.9 466.2L591.0 467.6L591.2 474.1L591.3 471.3L591.5 466.4L591.6 466.7L591.7 464.3L591.9 465.3L592.0 465.6L592.2 467.6L592.3 468.1L592.5 468.8L592.6 473.0L592.8 469.3L592.9 469.7L593.1 470.8L593.2 466.5L593.3 464.2L593.5 464.4L593.6 463.6L593.8 468.6L593.9 468.7L594.1 478.1L594.2 474.6L594.4 472.2L594.5 478.3L594.6 473.5L594.8 478.8L594.9 465.6L595.1 464.2L595.2 469.3L595.3 474.0L595.5 474.3L595.6 471.6L595.8 469.8L595.9 471.9L596.1 471.9L596.2 474.2L596.3 471.1L596.5 473.1L596.6 476.8L596.8 485.0L596.9 482.6L597.0 480.6L597.2 474.6L597.3 468.9L597.5 461.8L597.6 465.4L597.7 473.1L597.9 472.4L598.0 463.3L598.1 465.6L598.3 465.8L598.4 465.4L598.6 472.0L598.7 474.8L598.8 478.3L599.0 473.6L599.1 473.1L599.2 468.6L599.4 471.7L599.5 467.3L599.7 472.1L599.8 472.3L599.9 472.7L600.1 467.7L600.2 469.4L600.3 464.4L600.5 461.7L600.6 460.4L600.7 467.2L600.9 467.7L601.0 464.6L601.1 467.3L601.3 474.2L601.4 472.0L601.5 467.4L601.7 463.4L601.8 463.9L602.0 470.4L602.1 468.7L602.2 467.3L602.4 464.7L602.5 461.2L602.6 465.3L602.8 466.1L602.9 466.8L603.0 462.6L603.1 465.4L603.3 466.4L603.4 470.8L603.5 472.1L603.7 468.9L603.8 468.4L603.9 468.4L604.1 467.6L604.2 464.7L604.3 466.4L604.5 472.7L604.6 470.7L604.7 473.7L604.9 470.7L605.0 467.3L605.1 465.9L605.2 463.8L605.4 466.8L605.5 469.8L605.6 459.7L605.8 463.0L605.9 464.5L606.0 469.6L606.2 465.1L606.3 464.3L606.4 467.5L606.5 468.8L606.7 472.7L606.8 467.9L606.9 464.5L607.1 464.8L607.2 460.3L607.3 461.7L607.4 465.4L607.6 465.6L607.7 461.3L607.8 460.5L607.9 460.7L608.1 462.6L608.2 463.8L608.3 462.6L608.5 457.4L608.6 452.5L608.7 451.1L608.8 450.1L609.0 451.0L609.1 449.8L609.2 452.1L609.3 452.6L609.5 455.0L609.6 456.7L609.7 459.6L609.8 457.0L610.0 455.4L610.1 453.4L610.2 454.9L610.3 459.0L610.5 462.1L610.6 462.6L610.7 462.2L610.8 465.0L611.0 464.6L611.1 461.8L611.2 464.7L611.3 462.7L611.4 459.5L611.6 460.3L611.7 457.7L611.8 458.7L611.9 458.0L612.1 458.0L612.2 457.4L612.3 457.6L612.4 460.7L612.5 462.8L612.7 464.0L612.8 468.5L612.9 463.8L613.0 465.1L613.2 468.3L613.3 469.4L613.4 472.4L613.5 468.1L613.6 471.1L613.8 467.2L613.9 470.4L614.0 470.4L614.1 471.2L614.2 468.0L614.4 466.9L614.5 460.7L614.6 463.4L614.7 466.3L614.8 468.3L615.0 471.1L615.1 471.9L615.2 471.1L615.3 470.7L615.4 468.5L615.6 470.7L615.7 470.3L615.8 470.5L615.9 469.2L616.0 466.7L616.2 463.2L616.3 463.1L616.4 465.8L616.5 460.7L616.6 462.1L616.7 472.5L616.9 471.5L617.0 469.2L617.1 468.4L617.2 466.7L617.3 466.8L617.4 466.0L617.6 462.0L617.7 466.0L617.8 464.9L617.9 467.9L618.0 467.6L618.1 468.9L618.3 467.9L618.4 475.6L618.5 475.6L618.6 477.9L618.7 474.2L618.8 466.7L619.0 465.0L619.1 466.6L619.2 466.0L619.3 463.8L619.4 462.1L619.5 459.0L619.6 459.1L619.8 461.3L619.9 463.5L620.0 465.8L620.1 464.3L620.2 464.4L620.3 463.9L620.4 465.9L620.6 466.3L620.7 467.5L620.8 466.7L620.9 465.3L621.0 468.4L621.1 470.8L621.2 463.7L621.4 464.9L621.5 465.8L621.6 468.0L621.7 460.8L621.8 456.1L621.9 456.6L622.0 458.4L622.1 456.0L622.3 460.6L622.4 463.9L622.5 466.1L622.6 468.0L622.7 463.4L622.8 463.7L622.9 456.1L623.0 460.8L623.1 464.1L623.3 465.6L623.4 462.8L623.5 462.8L623.6 466.0L623.7 462.5L623.8 462.9L623.9 464.4L624.0 462.5L624.1 460.7L624.3 464.5L624.4 466.9L624.5 469.8L624.6 469.3L624.7 465.7L624.8 464.7L624.9 462.7L625.0 462.2L625.1 463.8L625.2 467.8L625.3 467.5L625.5 472.0L625.6 466.9L625.7 465.4L625.8 465.7L625.9 459.2L626.0 456.2L626.1 457.6L626.2 459.2L626.3 462.0L626.4 463.1L626.5 462.9L626.7 459.9L626.8 461.3L626.9 466.3L627.0 467.2L627.1 464.9L627.2 465.9L627.3 466.7L627.4 470.5L627.5 468.7L627.6 469.0L627.7 469.5L627.8 468.3L627.9 467.6L628.0 465.1L628.2 466.0L628.3 466.9L628.4 462.4L628.5 462.1L628.6 466.9L628.7 466.3L628.8 460.9L628.9 465.7L629.0 464.8L629.1 465.0L629.2 466.2L629.3 464.8L629.4 461.4L629.5 460.2L629.6 461.7L629.7 461.3L629.8 461.1L629.9 468.0L630.1 469.0L630.2 471.2L630.3 475.9L630.4 473.6L630.5 470.5L630.6 468.9L630.7 468.8L630.8 472.8L630.9 473.7L631.0 471.5L631.1 467.9L631.2 468.6L631.3 473.0L631.4 469.6L631.5 473.1L631.6 472.3L631.7 469.7L631.8 467.6L631.9 464.6L632.0 463.0L632.1 466.0L632.2 461.3L632.3 460.1L632.4 459.3L632.5 455.4L632.6 455.2L632.7 452.4L632.8 456.1L632.9 459.1L633.1 455.5L633.2 460.8L633.3 457.9L633.4 453.1L633.5 449.3L633.6 451.9L633.7 446.1L633.8 448.3L633.9 451.5L634.0 455.6L634.1 455.6L634.2 459.4L634.3 457.6L634.4 460.3L634.5 457.4L634.6 458.5L634.7 457.6L634.8 458.5L634.9 465.0L635.0 464.2L635.1 463.7L635.2 463.4L635.3 463.8L635.4 456.7L635.5 458.9L635.6 455.6L635.7 450.4L635.8 452.8L635.9 450.8L636.0 453.2L636.1 457.3L636.2 457.1L636.3 455.4L636.4 456.0L636.5 462.4L636.6 462.0L636.7 466.4L636.8 469.0L636.9 463.5L637.0 465.5L637.1 460.8L637.2 462.1L637.3 463.3L637.4 461.8L637.5 457.1L637.6 456.2L637.7 456.4L637.8 459.0L637.8 459.3L637.9 460.6L638.0 459.2L638.1 454.9L638.2 456.4L638.3 460.9L638.4 458.5L638.5 456.5L638.6 451.5L638.7 458.8L638.8 456.9L638.9 460.8L639.0 461.1L639.1 460.3L639.2 460.9L639.3 466.2L639.4 470.7L639.5 471.2L639.6 468.8L639.7 472.1L639.8 472.5L639.9 471.5L640.0 472.3L640.1 468.4L640.2 470.2L640.3 468.2L640.4 467.2L640.5 462.8L640.6 463.9L640.7 464.8L640.7 460.4L640.8 461.3L640.9 462.8L641.0 466.2L641.1 468.9L641.2 466.9L641.3 469.9L641.4 469.5L641.5 466.6L641.6 463.6L641.7 465.2L641.8 467.2L641.9 464.9L642.0 465.4L642.1 464.3L642.2 462.2L642.3 459.7L642.4 461.7L642.5 463.4L642.5 464.5L642.6 465.2L642.7 465.2L642.8 468.0L642.9 462.8L643.0 465.2L643.1 462.4L643.2 462.2L643.3 463.4L643.4 464.2L643.5 465.5L643.6 463.4L643.7 468.8L643.8 472.0L643.9 472.5L643.9 473.6L644.0 471.5L644.1 466.4L644.2 461.6L644.3 463.5L644.4 456.8L644.5 462.9L644.6 465.0L644.7 463.1L644.8 461.6L644.9 457.9L645.0 459.7L645.1 461.0L645.2 465.6L645.2 461.8L645.3 465.4L645.4 466.3L645.5 466.7L645.6 466.9L645.7 468.7L645.8 473.9L645.9 477.1L646.0 478.5L646.1 475.5L646.2 473.9L646.2 474.6L646.3 475.1L646.4 470.8L646.5 474.6L646.6 479.5L646.7 478.4L646.8 476.0L646.9 475.1L647.0 471.4L647.1 467.7L647.2 467.9L647.2 466.5L647.3 469.1L647.4 477.0L647.5 476.6L647.6 474.7L647.7 473.9L647.8 474.0L647.9 476.9L648.0 475.4L648.1 476.3L648.1 472.3L648.2 469.2L648.3 467.4L648.4 469.7L648.5 466.8L648.6 470.8L648.7 467.1L648.8 466.9L648.9 466.0L648.9 469.9L649.0 466.0L649.1 462.9L649.2 462.3L649.3 464.9L649.4 466.5L649.5 462.3L649.6 461.1L649.7 457.8L649.7 463.2L649.8 464.5L649.9 466.2L650.0 460.1L650.1 460.8L650.2 460.5L650.3 463.3L650.4 458.2L650.4 463.6L650.5 465.5L650.6 467.2L650.7 463.5L650.8 468.9L650.9 468.8L651.0 469.9L651.1 469.4L651.1 468.1L651.2 468.4L651.3 468.4L651.4 471.0L651.5 471.1L651.6 468.9L651.7 468.9L651.8 471.3L651.8 469.1L651.9 468.2L652.0 470.6L652.1 471.1L652.2 468.9L652.3 470.4L652.4 471.8L652.4 471.9L652.5 471.2L652.6 475.2L652.7 469.8L652.8 469.3L652.9 470.0L653.0 467.4L653.0 464.8L653.1 462.5L653.2 463.3L653.3 463.3L653.4 464.3L653.5 467.5L653.6 465.5L653.6 464.9L653.7 464.8L653.8 459.0L653.9 459.2L654.0 456.0L654.1 455.4L654.2 454.9L654.2 459.0L654.3 458.2L654.4 456.6L654.5 459.6L654.6 460.3L654.7 457.0L654.8 460.8L654.8 464.2L654.9 463.0L655.0 458.6L655.1 457.7L655.2 455.5L655.3 461.5L655.3 460.4L655.4 463.1L655.5 466.7L655.6 467.2L655.7 467.5L655.8 470.5L655.8 472.4L655.9 467.5L656.0 470.3L656.1 463.0L656.2 461.8L656.3 464.7L656.3 458.9L656.4 461.7L656.5 467.8L656.6 466.5L656.7 460.6L656.8 466.1L656.8 463.0L656.9 460.0L657.0 456.9L657.1 456.6L657.2 456.1L657.3 462.0L657.3 460.1L657.4 455.9L657.5 452.9L657.6 453.5L657.7 459.0L657.8 456.4L657.8 455.9L657.9 459.2L658.0 458.7L658.1 458.3L658.2 457.3L658.2 458.9L658.3 458.3L658.4 463.6L658.5 458.9L658.6 461.3L658.7 464.0L658.7 463.4L658.8 461.5L658.9 464.8L659.0 461.3L659.1 460.6L659.1 458.7L659.2 460.3L659.3 457.3L659.4 455.8L659.5 458.6L659.6 459.7L659.6 461.1L659.7 466.0L659.8 460.7L659.9 460.3L660.0 461.0L660.0 465.5L660.1 462.3L660.2 461.8L660.3 463.2L660.4 460.6L660.4 459.3L660.5 459.9L660.6 458.5L660.7 460.5L660.8 463.9L660.8 462.5L660.9 463.7L661.0 465.3L661.1 465.0L661.2 463.0L661.2 466.9L661.3 463.9L661.4 464.0L661.5 465.6L661.6 458.9L661.6 457.2L661.7 452.5L661.8 453.6L661.9 456.0L662.0 455.2L662.0 457.1L662.1 460.0L662.2 458.9L662.3 458.7L662.4 457.2L662.4 459.6L662.5 458.9L662.6 464.1L662.7 467.6L662.8 464.2L662.8 463.9L662.9 464.2L663.0 465.1L663.1 465.5L663.1 464.1L663.2 466.2L663.3 467.7L663.4 468.2L663.5 466.0L663.5 467.5L663.6 462.9L663.7 465.8L663.8 466.8L663.8 464.0L663.9 465.1L664.0 470.8L664.1 469.4L664.2 466.6L664.2 467.0L664.3 468.3L664.4 472.5L664.5 470.2L664.5 471.3L664.6 470.6L664.7 472.4L664.8 471.4L664.9 466.9L664.9 467.8L665.0 469.9L665.1 468.2L665.2 461.2L665.2 458.9L665.3 458.6L665.4 460.8L665.5 459.5L665.6 462.2L665.6 460.3L665.7 456.5L665.8 458.2L665.9 456.8L665.9 460.6L666.0 463.2L666.1 461.0L666.2 459.1L666.2 460.3L666.3 463.7L666.4 463.9L666.5 463.4L666.5 466.1L666.6 467.6L666.7 465.2L666.8 462.7L666.9 456.9L666.9 457.4L667.0 456.5L667.1 458.3L667.2 457.2L667.2 456.9L667.3 456.7L667.4 456.0L667.5 455.9L667.5 455.6L667.6 459.7L667.7 459.9L667.8 460.9L667.8 462.3L667.9 459.9L668.0 454.5L668.1 452.1L668.1 452.3L668.2 453.4L668.3 451.1L668.4 455.0L668.4 455.5L668.5 458.2L668.6 456.1L668.7 449.1L668.7 452.0L668.8 454.2L668.9 460.8L669.0 460.8L669.0 461.6L669.1 465.9L669.2 458.8L669.3 455.4L669.3 451.6L669.4 454.9L669.5 454.8L669.6 457.4L669.6 453.9L669.7 453.4L669.8 453.8L669.9 454.0L669.9 454.1L670.0 457.1L670.1 455.8L670.2 456.1L670.2 455.4L670.3 458.2L670.4 455.6L670.4 453.8L670.5 452.7L670.6 449.9L670.7 451.0L670.7 450.6L670.8 446.9L670.9 446.4L671.0 448.2L671.0 454.0L671.1 454.6L671.2 459.4L671.3 459.8L671.3 464.1L671.4 461.0L671.5 457.7L671.5 457.3L671.6 456.7L671.7 457.6L671.8 458.7L671.8 455.9L671.9 457.1L672.0 456.2L672.1 461.8L672.1 461.6L672.2 460.0L672.3 465.4L672.4 461.4L672.4 466.4L672.5 466.5L672.6 465.0L672.6 464.0L672.7 464.2L672.8 464.9L672.9 462.7L672.9 463.3L673.0 464.9L673.1 465.1L673.1 469.1L673.2 465.8L673.3 465.2L673.4 467.1L673.4 467.4L673.5 470.2L673.6 473.0L673.6 469.4L673.7 472.5L673.8 469.9L673.9 472.1L673.9 471.3L674.0 473.5L674.1 465.8L674.1 468.2L674.2 466.7L674.3 470.2L674.4 473.8L674.4 475.8L674.5 473.2L674.6 471.6L674.6 468.2L674.7 467.4L674.8 468.0L674.9 469.2L674.9 472.6L675.0 469.6L675.1 469.3L675.1 470.7L675.2 470.0L675.3 465.0L675.4 464.2L675.4 463.2L675.5 459.6L675.6 460.5L675.6 459.9L675.7 458.8L675.8 459.7L675.9 460.4L675.9 461.9L676.0 462.8L676.1 463.2L676.1 464.8L676.2 466.2L676.3 464.7L676.3 467.1L676.4 470.2L676.5 468.7L676.6 471.3L676.6 471.9L676.7 472.2L676.8 476.1L676.8 471.0L676.9 472.7L677.0 470.7L677.0 471.1L677.1 464.8L677.2 467.3L677.2 470.9L677.3 467.2L677.4 470.9L677.5 468.5L677.5 467.9L677.6 464.7L677.7 465.8L677.7 464.8L677.8 464.4L677.9 464.7L677.9 461.5L678.0 463.4L678.1 463.3L678.1 466.8L678.2 466.0L678.3 467.5L678.4 467.9L678.4 470.7L678.5 473.2L678.6 472.0L678.6 468.3L678.7 467.3L678.8 465.5L678.8 465.8L678.9 465.1L679.0 466.2L679.0 466.4L679.1 466.0L679.2 463.6L679.2 466.4L679.3 465.3L679.4 460.9L679.5 459.3L679.5 459.0L679.6 458.0L679.7 459.4L679.7 458.0L679.8 458.9L679.9 461.3L679.9 459.0L680.0 458.1L680.1 462.4L680.1 463.4L680.2 465.8L680.3 465.5L680.3 465.0L680.4 464.1L680.5 461.4L680.5 464.4L680.6 461.5L680.7 459.2L680.7 457.1L680.8 463.0L680.9 461.1L680.9 465.1L681.0 461.6L681.1 466.4L681.1 472.4L681.2 471.1L681.3 473.9L681.3 469.4L681.4 466.6L681.5 468.9L681.5 468.1L681.6 466.2L681.7 466.2L681.7 464.8L681.8 463.1L681.9 465.5L681.9 460.4L682.0 458.9L682.1 459.3L682.1 462.0L682.2 462.2L682.3 460.8L682.3 455.6L682.4 463.5L682.5 462.0L682.5 463.6L682.6 460.0L682.7 462.3L682.7 459.4L682.8 458.4L682.9 458.7L682.9 456.3L683.0 458.6L683.1 459.0L683.1 462.0L683.2 464.4L683.3 462.7L683.3 460.1L683.4 459.4L683.5 462.1L683.5 458.1L683.6 461.5L683.7 458.6L683.7 460.0L683.8 461.5L683.9 459.2L683.9 456.4L684.0 457.5" stroke="#e8403a"/>
</g>
<path d="M89.60 346.15H684.00V592.00H89.60Z" stroke="#000" stroke-width="1.20" fill="none"/>
<text x="69.6" y="598.4" font-size="20.5" text-anchor="end">0</text>
<text x="69.6" y="549.2" font-size="20.5" text-anchor="end">100</text>
<text x="69.6" y="500.1" font-size="20.5" text-anchor="end">200</text>
<text x="69.6" y="450.9" font-size="20.5" text-anchor="end">300</text>
<text x="69.6" y="401.7" font-size="20.5" text-anchor="end">400</text>
<text x="69.6" y="352.5" font-size="20.5" text-anchor="end">500</text>
<text x="89.8" y="627.0" font-size="20.5" text-anchor="middle">10</text>
<text x="354.7" y="627.0" font-size="20.5" text-anchor="middle">100</text>
<text x="619.5" y="627.0" font-size="20.5" text-anchor="middle">1000</text>
<text transform="translate(17.2 469.1) rotate(-90)" font-size="20.5" text-anchor="middle">Population</text>
<text x="-1.0" y="344.8" font-size="29.5" font-weight="bold" fill="#000">b</text>
<text x="669" y="574.7" font-size="20.6" text-anchor="end">11 Configurations</text>
<path d="M521.5 369.2H562.8" stroke="#111" stroke-width="1.6"/>
<path d="M521.5 400.0H562.8" stroke="#e8403a" stroke-width="1.6"/>
<text transform="translate(572.6 375.0) scale(1.18 1.03)" font-size="20.5" font-family="'Liberation Serif', 'DejaVu Serif', serif">Σ</text><text x="590.3" y="375.0" font-size="17.5">eclipsed</text>
<text transform="translate(572.6 406.0) scale(1.18 1.03)" font-size="20.5" font-family="'Liberation Serif', 'DejaVu Serif', serif">Σ</text><text x="590.3" y="406.0" font-size="17.5">staggered</text>
<polygon points="127.40,413.30 146.19,424.15 146.19,445.85 127.40,456.70 108.61,445.85 108.61,424.15" fill="none" stroke="#111" stroke-width="1.20" stroke-linejoin="miter"/><line x1="129.27" y1="418.31" x2="140.92" y2="425.03" stroke="#111" stroke-width="1.20"/><line x1="140.92" y1="444.97" x2="129.27" y2="451.69" stroke="#111" stroke-width="1.20"/><line x1="112.01" y1="441.73" x2="112.01" y2="428.27" stroke="#111" stroke-width="1.20"/>
<path d="M157.50 437.40H166.90M162.20 432.70V442.10" stroke="#111" stroke-width="1.20" fill="none"/>
<polygon points="198.10,413.30 216.89,424.15 216.89,445.85 198.10,456.70 179.31,445.85 179.31,424.15" fill="none" stroke="#111" stroke-width="1.20" stroke-linejoin="miter"/><line x1="213.49" y1="428.27" x2="213.49" y2="441.73" stroke="#111" stroke-width="1.20"/><line x1="196.23" y1="451.69" x2="184.58" y2="444.97" stroke="#111" stroke-width="1.20"/><line x1="184.58" y1="425.03" x2="196.23" y2="418.31" stroke="#111" stroke-width="1.20"/>
<polygon points="127.40,482.90 146.19,493.75 146.19,515.45 127.40,526.30 108.61,515.45 108.61,493.75" fill="none" stroke="#e8403a" stroke-width="1.25" stroke-linejoin="miter"/><circle cx="135.20" cy="491.09" r="1.85" fill="none" stroke="#e8403a" stroke-width="1.1"/><path d="M141.55 503.15L144.45 506.05M141.55 506.05L144.45 503.15" stroke="#e8403a" stroke-width="1.1" fill="none"/><circle cx="135.20" cy="518.11" r="1.85" fill="none" stroke="#e8403a" stroke-width="1.1"/><path d="M118.15 516.66L121.05 519.56M118.15 519.56L121.05 516.66" stroke="#e8403a" stroke-width="1.1" fill="none"/><circle cx="111.80" cy="504.60" r="1.85" fill="none" stroke="#e8403a" stroke-width="1.1"/><path d="M118.15 489.64L121.05 492.54M118.15 492.54L121.05 489.64" stroke="#e8403a" stroke-width="1.1" fill="none"/>
<path d="M158.30 508.30H167.70M163.00 503.60V513.00" stroke="#e8403a" stroke-width="1.20" fill="none"/>
<polygon points="198.10,482.90 216.89,493.75 216.89,515.45 198.10,526.30 179.31,515.45 179.31,493.75" fill="none" stroke="#e8403a" stroke-width="1.25" stroke-linejoin="miter"/><path d="M205.28 492.99L206.52 489.19M204.00 490.47L207.80 491.71" stroke="#e8403a" stroke-width="1.1" fill="none"/><circle cx="213.70" cy="504.60" r="1.85" fill="none" stroke="#e8403a" stroke-width="1.1"/><path d="M205.28 520.01L206.52 516.21M204.00 517.49L207.80 518.73" stroke="#e8403a" stroke-width="1.1" fill="none"/><circle cx="190.30" cy="518.11" r="1.85" fill="none" stroke="#e8403a" stroke-width="1.1"/><path d="M181.88 506.50L183.12 502.70M180.60 503.98L184.40 505.22" stroke="#e8403a" stroke-width="1.1" fill="none"/><circle cx="190.30" cy="491.09" r="1.85" fill="none" stroke="#e8403a" stroke-width="1.1"/>
</g>
<g font-family="'Liberation Sans', Arial, Helvetica, sans-serif" fill="#000">
<path d="M77.90 909.35H89.60M83.80 884.76H89.60M77.90 860.18H89.60M83.80 835.60H89.60M77.90 811.01H89.60M83.80 786.43H89.60M77.90 761.84H89.60M83.80 737.25H89.60M77.90 712.67H89.60M83.80 688.09H89.60M77.90 663.50H89.60M89.60 909.35V921.05M171.89 909.35V915.15M220.02 909.35V915.15M254.17 909.35V915.15M280.66 909.35V915.15M302.31 909.35V915.15M320.61 909.35V915.15M336.46 909.35V915.15M350.44 909.35V915.15M362.95 909.35V921.05M445.24 909.35V915.15M493.37 909.35V915.15M527.52 909.35V915.15M554.01 909.35V915.15M575.66 909.35V915.15M593.96 909.35V915.15M609.81 909.35V915.15M623.79 909.35V915.15M636.30 909.35V921.05" stroke="#000" stroke-width="1.20" fill="none"/>
<g clip-path="url(#cp2)" fill="none" stroke-linejoin="round" stroke-width="1.7">
<path d="M89.6 664.0L100.9 665.1L111.2 666.1L120.7 666.8L129.5 668.0L137.7 670.7L145.4 673.5L152.6 676.6L159.4 678.0L165.8 680.9L171.9 685.3L177.7 688.9L183.2 690.9L188.5 693.2L193.5 696.3L198.4 700.2L203.0 701.7L207.5 702.3L211.8 704.5L216.0 709.2L220.0 709.9L223.9 711.6L227.7 713.0L231.3 715.4L234.9 721.9L238.3 724.6L241.7 723.0L244.9 728.3L248.1 730.4L251.2 733.1L254.2 732.8L257.1 730.3L260.0 735.4L262.8 737.7L265.5 744.1L268.2 746.9L270.8 749.7L273.3 748.8L275.8 749.8L278.3 753.2L280.7 753.1L283.0 754.8L285.3 754.4L287.6 755.3L289.8 756.2L292.0 758.9L294.1 762.0L296.2 764.1L298.3 768.8L300.3 772.9L302.3 770.8L304.3 771.2L306.2 770.0L308.1 768.0L310.0 769.2L311.8 770.6L313.6 773.8L315.4 771.5L317.2 772.8L318.9 771.7L320.6 775.4L322.3 780.2L324.0 779.4L325.6 774.6L327.2 779.2L328.8 781.7L330.4 783.3L331.9 783.3L333.5 782.7L335.0 786.8L336.5 782.1L337.9 785.9L339.4 786.1L340.8 782.3L342.3 780.9L343.7 785.3L345.0 785.1L346.4 784.0L347.8 786.2L349.1 791.3L350.4 786.2L351.8 783.9L353.1 784.4L354.3 788.3L355.6 787.6L356.9 788.5L358.1 788.0L359.3 783.4L360.6 781.1L361.8 782.6L363.0 783.5L364.1 783.5L365.3 785.4L366.5 786.2L367.6 788.2L368.7 787.3L369.9 780.6L371.0 781.8L372.1 785.5L373.2 787.9L374.3 788.5L375.3 787.0L376.4 786.4L377.5 791.5L378.5 788.4L379.5 792.5L380.6 787.2L381.6 790.1L382.6 786.4L383.6 794.4L384.6 798.3L385.6 796.8L386.6 795.8L387.5 795.8L388.5 801.3L389.4 799.6L390.4 799.3L391.3 800.7L392.3 802.0L393.2 796.1L394.1 799.5L395.0 799.9L395.9 796.3L396.8 796.3L397.7 797.1L398.6 795.9L399.5 795.8L400.3 796.6L401.2 794.3L402.0 796.6L402.9 802.0L403.7 803.1L404.6 803.2L405.4 799.3L406.2 801.6L407.1 806.5L407.9 803.0L408.7 806.1L409.5 809.3L410.3 804.6L411.1 806.2L411.9 802.7L412.7 804.0L413.4 806.7L414.2 808.3L415.0 805.7L415.7 804.8L416.5 806.5L417.3 805.1L418.0 810.0L418.7 806.9L419.5 811.6L420.2 810.0L421.0 806.2L421.7 801.0L422.4 797.6L423.1 803.8L423.8 800.6L424.5 798.7L425.2 796.7L425.9 801.9L426.6 801.5L427.3 796.8L428.0 803.5L428.7 800.7L429.4 797.1L430.1 798.0L430.7 795.0L431.4 798.1L432.1 798.8L432.7 798.1L433.4 796.0L434.0 795.6L434.7 791.4L435.3 793.3L436.0 792.1L436.6 788.1L437.3 786.7L437.9 792.4L438.5 789.0L439.1 791.0L439.8 788.9L440.4 788.3L441.0 785.6L441.6 786.7L442.2 792.9L442.8 795.3L443.4 791.2L444.0 792.2L444.6 789.8L445.2 790.0L445.8 792.3L446.4 788.5L447.0 792.7L447.6 798.5L448.2 790.9L448.7 797.2L449.3 794.4L449.9 791.3L450.5 790.4L451.0 795.8L451.6 790.6L452.2 796.1L452.7 799.5L453.3 798.5L453.8 794.1L454.4 793.2L454.9 790.3L455.5 793.3L456.0 793.0L456.6 795.8L457.1 796.6L457.6 793.3L458.2 794.5L458.7 792.1L459.2 794.7L459.7 796.0L460.3 794.7L460.8 797.0L461.3 796.1L461.8 795.6L462.3 790.7L462.9 792.6L463.4 794.2L463.9 798.8L464.4 797.5L464.9 795.4L465.4 798.1L465.9 798.0L466.4 795.0L466.9 796.9L467.4 799.3L467.9 797.3L468.4 795.7L468.8 795.6L469.3 793.3L469.8 792.1L470.3 795.6L470.8 798.3L471.3 796.8L471.7 797.2L472.2 802.6L472.7 797.0L473.1 796.8L473.6 793.5L474.1 797.8L474.5 792.8L475.0 797.0L475.5 796.6L475.9 800.4L476.4 798.3L476.8 799.8L477.3 799.1L477.7 796.7L478.2 796.2L478.6 793.5L479.1 795.6L479.5 798.1L480.0 797.1L480.4 794.7L480.9 791.1L481.3 790.3L481.7 797.4L482.2 795.9L482.6 792.7L483.0 792.8L483.5 796.6L483.9 795.6L484.3 798.3L484.8 796.0L485.2 796.9L485.6 792.6L486.0 793.1L486.4 797.6L486.9 795.4L487.3 792.0L487.7 794.8L488.1 796.3L488.5 803.9L488.9 798.5L489.3 799.0L489.8 804.9L490.2 806.6L490.6 803.4L491.0 797.9L491.4 797.4L491.8 795.4L492.2 798.5L492.6 801.1L493.0 795.8L493.4 794.4L493.8 795.2L494.2 791.3L494.6 797.0L494.9 797.4L495.3 793.5L495.7 788.4L496.1 791.3L496.5 787.0L496.9 792.0L497.3 790.9L497.6 792.5L498.0 799.4L498.4 796.9L498.8 793.9L499.2 795.4L499.5 796.1L499.9 792.0L500.3 797.3L500.7 801.3L501.0 801.5L501.4 804.1L501.8 798.5L502.1 797.8L502.5 800.4L502.9 800.9L503.2 789.5L503.6 794.6L504.0 797.9L504.3 797.0L504.7 795.5L505.0 795.5L505.4 799.4L505.8 802.9L506.1 800.1L506.5 799.6L506.8 804.1L507.2 797.6L507.5 795.8L507.9 798.3L508.2 799.9L508.6 799.9L508.9 801.8L509.3 806.4L509.6 803.9L510.0 808.8L510.3 806.0L510.6 809.6L511.0 806.9L511.3 806.6L511.7 799.6L512.0 805.7L512.3 810.9L512.7 812.0L513.0 814.2L513.4 813.5L513.7 809.6L514.0 807.3L514.4 801.1L514.7 805.5L515.0 795.6L515.3 791.5L515.7 795.7L516.0 805.4L516.3 804.9L516.7 803.9L517.0 811.3L517.3 807.7L517.6 806.3L517.9 806.7L518.3 802.7L518.6 798.2L518.9 800.7L519.2 797.1L519.5 799.8L519.9 802.0L520.2 799.7L520.5 796.3L520.8 798.6L521.1 806.3L521.4 802.6L521.7 807.0L522.1 804.5L522.4 796.9L522.7 796.5L523.0 799.8L523.3 804.1L523.6 797.8L523.9 797.0L524.2 794.0L524.5 791.5L524.8 793.4L525.1 794.7L525.4 797.0L525.7 806.8L526.0 807.0L526.3 802.2L526.6 800.4L526.9 798.1L527.2 797.9L527.5 796.8L527.8 793.4L528.1 798.0L528.4 796.6L528.7 799.7L529.0 795.2L529.3 796.0L529.6 794.2L529.9 789.2L530.2 786.4L530.5 788.4L530.7 787.6L531.0 795.6L531.3 793.7L531.6 793.1L531.9 799.1L532.2 793.3L532.5 795.9L532.7 793.5L533.0 796.1L533.3 792.4L533.6 789.9L533.9 793.5L534.2 799.7L534.4 798.7L534.7 795.5L535.0 796.6L535.3 798.5L535.6 795.7L535.8 805.3L536.1 805.9L536.4 808.1L536.7 804.1L536.9 805.5L537.2 807.4L537.5 807.0L537.8 809.5L538.0 806.6L538.3 806.5L538.6 803.7L538.8 803.9L539.1 798.5L539.4 797.8L539.6 795.6L539.9 794.5L540.2 797.0L540.4 794.0L540.7 795.1L541.0 794.6L541.2 796.7L541.5 798.5L541.8 794.6L542.0 788.1L542.3 792.6L542.6 792.1L542.8 794.7L543.1 792.1L543.3 792.2L543.6 789.9L543.9 801.7L544.1 803.0L544.4 804.1L544.6 802.0L544.9 803.6L545.1 804.6L545.4 798.6L545.7 791.9L545.9 803.2L546.2 802.0L546.4 799.9L546.7 799.2L546.9 799.1L547.2 802.1L547.4 803.6L547.7 798.0L547.9 793.6L548.2 793.8L548.4 797.0L548.7 796.3L548.9 796.5L549.2 794.0L549.4 794.3L549.7 796.6L549.9 795.9L550.2 800.1L550.4 796.2L550.6 791.4L550.9 796.2L551.1 793.6L551.4 796.1L551.6 791.7L551.9 789.6L552.1 792.1L552.3 789.1L552.6 791.4L552.8 793.2L553.1 795.9L553.3 795.2L553.5 795.0L553.8 792.3L554.0 794.0L554.3 790.8L554.5 788.6L554.7 791.9L555.0 797.9L555.2 795.0L555.4 791.6L555.7 794.2L555.9 799.1L556.1 797.0L556.4 791.0L556.6 798.6L556.8 795.4L557.1 795.5L557.3 799.0L557.5 796.4L557.8 801.3L558.0 799.4L558.2 794.0L558.4 794.1L558.7 796.7L558.9 801.0L559.1 803.2L559.4 807.0L559.6 798.2L559.8 798.0L560.0 800.1L560.3 803.3L560.5 804.1L560.7 802.7L560.9 804.1L561.2 794.8L561.4 795.7L561.6 797.5L561.8 796.0L562.0 791.4L562.3 787.9L562.5 792.3L562.7 793.3L562.9 793.8L563.1 793.3L563.4 792.9L563.6 795.8L563.8 800.0L564.0 797.9L564.2 802.2L564.5 795.8L564.7 796.1L564.9 800.3L565.1 801.6L565.3 801.2L565.5 801.4L565.8 798.0L566.0 802.8L566.2 807.6L566.4 803.6L566.6 802.4L566.8 801.0L567.0 798.1L567.3 798.3L567.5 796.1L567.7 798.5L567.9 798.0L568.1 799.8L568.3 803.5L568.5 800.4L568.7 798.1L568.9 804.9L569.2 806.1L569.4 803.8L569.6 798.5L569.8 801.2L570.0 800.7L570.2 804.5L570.4 794.6L570.6 792.4L570.8 790.5L571.0 789.2L571.2 788.7L571.4 788.8L571.6 791.9L571.8 790.5L572.0 791.9L572.2 789.3L572.4 795.6L572.7 798.5L572.9 796.8L573.1 793.2L573.3 793.7L573.5 795.9L573.7 796.2L573.9 797.3L574.1 790.2L574.3 788.2L574.5 785.4L574.7 787.1L574.9 791.2L575.1 788.1L575.3 783.3L575.5 783.7L575.7 785.4L575.9 784.5L576.1 788.0L576.2 786.6L576.4 790.4L576.6 795.2L576.8 794.1L577.0 794.4L577.2 788.7L577.4 790.2L577.6 791.2L577.8 796.6L578.0 802.3L578.2 806.5L578.4 801.9L578.6 804.3L578.8 799.0L579.0 793.8L579.2 794.9L579.4 789.5L579.6 789.6L579.7 787.9L579.9 790.0L580.1 788.1L580.3 792.8L580.5 790.5L580.7 793.1L580.9 793.6L581.1 791.2L581.3 790.9L581.4 791.3L581.6 788.6L581.8 786.6L582.0 792.9L582.2 789.5L582.4 787.7L582.6 791.0L582.8 790.2L582.9 796.3L583.1 791.1L583.3 792.5L583.5 792.7L583.7 788.8L583.9 790.0L584.1 788.1L584.2 792.1L584.4 794.0L584.6 798.0L584.8 797.3L585.0 793.0L585.2 791.4L585.3 789.3L585.5 793.7L585.7 796.2L585.9 798.1L586.1 794.7L586.3 793.4L586.4 793.4L586.6 791.6L586.8 793.6L587.0 793.8L587.2 789.6L587.3 792.2L587.5 791.7L587.7 787.9L587.9 788.6L588.0 787.2L588.2 790.4L588.4 784.4L588.6 794.5L588.8 797.6L588.9 800.1L589.1 791.3L589.3 790.5L589.5 792.4L589.6 796.9L589.8 793.8L590.0 793.4L590.2 796.9L590.3 800.2L590.5 801.8L590.7 799.1L590.9 796.2L591.0 795.6L591.2 796.2L591.4 801.0L591.6 799.2L591.7 800.9L591.9 798.9L592.1 795.5L592.2 797.1L592.4 800.6L592.6 795.3L592.8 794.1L592.9 795.7L593.1 805.0L593.3 801.4L593.4 797.4L593.6 793.8L593.8 796.3L594.0 797.6L594.1 798.4L594.3 794.8L594.5 797.8L594.6 797.2L594.8 798.8L595.0 796.4L595.1 801.6L595.3 798.9L595.5 799.6L595.6 798.9L595.8 796.5L596.0 793.1L596.1 799.9L596.3 795.9L596.5 794.6L596.6 796.4L596.8 790.8L597.0 791.3L597.1 788.6L597.3 792.5L597.5 795.3L597.6 790.9L597.8 784.8L598.0 786.0L598.1 786.5L598.3 790.7L598.5 796.6L598.6 798.2L598.8 793.7L598.9 800.8L599.1 802.8L599.3 809.0L599.4 806.1L599.6 801.1L599.7 804.4L599.9 803.6L600.1 796.9L600.2 796.7L600.4 800.8L600.6 802.8L600.7 806.6L600.9 800.4L601.0 801.7L601.2 796.1L601.4 793.9L601.5 796.6L601.7 799.4L601.8 796.3L602.0 795.3L602.1 794.6L602.3 799.5L602.5 795.4L602.6 798.2L602.8 805.0L602.9 804.2L603.1 800.4L603.3 791.4L603.4 792.5L603.6 796.9L603.7 789.6L603.9 789.9L604.0 791.0L604.2 794.7L604.3 797.3L604.5 790.7L604.7 791.3L604.8 794.5L605.0 795.0L605.1 788.7L605.3 791.2L605.4 789.6L605.6 789.2L605.7 788.8L605.9 793.3L606.0 790.5L606.2 785.6L606.3 786.7L606.5 790.6L606.7 795.2L606.8 793.6L607.0 793.6L607.1 793.3L607.3 792.4L607.4 797.3L607.6 794.0L607.7 793.0L607.9 793.9L608.0 793.4L608.2 790.2L608.3 791.8L608.5 795.9L608.6 791.4L608.8 793.9L608.9 796.5L609.1 801.8L609.2 800.7L609.4 803.0L609.5 802.0L609.7 798.5L609.8 798.3L610.0 794.0L610.1 792.8L610.3 794.3L610.4 796.1L610.5 797.5L610.7 793.6L610.8 794.1L611.0 795.4L611.1 792.7L611.3 793.5L611.4 795.7L611.6 800.0L611.7 796.6L611.9 795.7L612.0 795.5L612.2 797.2L612.3 800.5L612.5 799.9L612.6 797.3L612.7 796.3L612.9 796.5L613.0 796.9L613.2 794.4L613.3 793.6L613.5 796.0L613.6 793.1L613.8 790.6L613.9 787.7L614.0 789.9L614.2 792.0L614.3 795.7L614.5 792.7L614.6 800.8L614.8 800.9L614.9 800.9L615.0 797.0L615.2 796.4L615.3 798.7L615.5 802.4L615.6 802.8L615.7 800.8L615.9 798.6L616.0 797.5L616.2 799.0L616.3 798.8L616.4 793.4L616.6 796.4L616.7 795.9L616.9 790.9L617.0 790.0L617.1 791.9L617.3 790.5L617.4 793.8L617.6 794.1L617.7 788.8L617.8 783.2L618.0 791.8L618.1 790.2L618.3 784.9L618.4 789.2L618.5 790.2L618.7 786.1L618.8 789.6L618.9 788.9L619.1 789.5L619.2 796.7L619.4 794.6L619.5 795.0L619.6 791.7L619.8 785.3L619.9 785.1L620.0 789.0L620.2 788.0L620.3 788.5L620.4 787.0L620.6 794.3L620.7 798.1L620.9 803.5L621.0 798.9L621.1 797.2L621.3 798.6L621.4 799.4L621.5 800.5L621.7 801.9L621.8 800.5L621.9 800.8L622.1 794.8L622.2 793.5L622.3 796.1L622.5 796.6L622.6 792.5L622.7 790.7L622.9 790.9L623.0 789.6L623.1 785.9L623.3 791.7L623.4 794.9L623.5 800.0L623.7 797.1L623.8 796.5L623.9 797.6L624.1 799.1L624.2 795.3L624.3 794.9L624.4 796.2L624.6 792.0L624.7 796.0L624.8 799.3L625.0 789.4L625.1 791.2L625.2 793.4L625.4 795.3L625.5 795.4L625.6 792.3L625.8 789.4L625.9 787.8L626.0 788.9L626.1 794.3L626.3 792.7L626.4 788.2L626.5 785.2L626.7 787.4L626.8 786.6L626.9 789.4L627.0 790.2L627.2 795.7L627.3 796.9L627.4 795.4L627.6 795.5L627.7 792.7L627.8 787.9L627.9 784.5L628.1 787.0L628.2 790.3L628.3 793.5L628.4 796.2L628.6 794.9L628.7 793.3L628.8 792.7L629.0 792.4L629.1 791.8L629.2 792.6L629.3 795.2L629.5 790.1L629.6 788.6L629.7 792.2L629.8 794.7L630.0 795.8L630.1 794.4L630.2 790.4L630.3 787.8L630.5 785.4L630.6 783.8L630.7 781.5L630.8 782.2L631.0 783.4L631.1 786.1L631.2 793.3L631.3 793.3L631.5 788.7L631.6 791.0L631.7 793.0L631.8 789.7L631.9 789.5L632.1 790.5L632.2 785.8L632.3 784.8L632.4 783.6L632.6 786.7L632.7 786.3L632.8 786.6L632.9 785.0L633.1 783.1L633.2 781.0L633.3 782.3L633.4 782.3L633.5 787.5L633.7 786.3L633.8 785.3L633.9 787.2L634.0 790.3L634.1 790.5L634.3 795.2L634.4 793.1L634.5 792.5L634.6 795.5L634.7 793.9L634.9 789.3L635.0 786.6L635.1 785.1L635.2 786.8L635.3 789.0L635.5 790.6L635.6 789.7L635.7 782.6L635.8 779.5L635.9 777.9L636.1 777.1L636.2 785.5L636.3 787.3L636.4 790.6L636.5 787.2L636.7 783.5L636.8 787.9L636.9 788.6L637.0 788.8L637.1 792.0L637.2 794.8L637.4 796.5L637.5 793.6L637.6 796.9L637.7 792.8L637.8 793.2L638.0 791.6L638.1 787.8L638.2 791.2L638.3 793.1L638.4 792.5L638.5 795.8L638.7 797.7L638.8 797.4L638.9 795.6L639.0 798.5L639.1 798.2L639.2 795.6L639.3 791.4L639.5 797.6L639.6 792.9L639.7 790.6L639.8 794.2L639.9 798.9L640.0 797.0L640.2 797.2L640.3 796.1L640.4 792.8L640.5 794.4L640.6 793.4L640.7 792.4L640.8 789.3L641.0 784.5L641.1 780.9L641.2 781.9L641.3 784.4L641.4 779.2L641.5 779.2L641.6 780.2L641.8 785.2L641.9 783.9L642.0 787.1L642.1 789.5L642.2 794.2L642.3 795.8L642.4 794.5L642.5 799.2L642.7 801.3L642.8 800.5L642.9 802.8L643.0 804.4L643.1 805.0L643.2 806.5L643.3 801.9L643.4 802.5L643.6 797.8L643.7 794.3L643.8 797.3L643.9 796.3L644.0 796.7L644.1 799.1L644.2 798.6L644.3 797.7L644.4 794.4L644.6 790.6L644.7 794.0L644.8 794.7L644.9 792.1L645.0 788.0L645.1 795.2L645.2 790.2L645.3 790.8L645.4 786.1L645.5 788.1L645.7 791.7L645.8 791.9L645.9 787.7L646.0 788.2L646.1 796.9L646.2 794.0L646.3 798.3L646.4 800.4L646.5 801.2L646.6 804.2L646.7 804.9L646.9 805.1L647.0 803.9L647.1 801.1L647.2 799.8L647.3 802.5L647.4 800.6L647.5 795.8L647.6 791.8L647.7 791.6L647.8 789.6L647.9 787.2L648.0 783.8L648.2 780.1L648.3 783.7L648.4 785.6L648.5 782.0L648.6 779.8L648.7 777.5L648.8 787.4L648.9 789.0L649.0 798.6L649.1 794.8L649.2 793.1L649.3 792.4L649.4 793.0L649.5 788.8L649.6 791.1L649.8 787.5L649.9 786.5L650.0 786.2L650.1 785.7L650.2 786.8L650.3 790.9L650.4 789.3L650.5 788.0L650.6 789.0L650.7 788.0L650.8 785.6L650.9 790.9L651.0 791.2L651.1 793.0L651.2 796.0L651.3 794.3L651.4 796.4L651.5 797.0L651.6 795.6L651.8 794.3L651.9 793.0L652.0 786.8L652.1 789.5L652.2 789.0L652.3 793.7L652.4 792.6L652.5 789.8L652.6 787.4L652.7 791.1L652.8 792.8L652.9 789.5L653.0 790.8L653.1 789.6L653.2 793.2L653.3 789.3L653.4 787.4L653.5 787.9L653.6 792.0L653.7 792.3L653.8 791.6L653.9 791.1L654.0 792.4L654.1 792.8L654.2 792.4L654.3 788.0L654.4 794.9L654.5 798.4L654.6 802.0L654.7 802.0L654.8 805.7L654.9 801.5L655.0 799.9L655.1 799.8L655.2 800.4L655.3 798.6L655.4 798.1L655.5 796.5L655.6 798.2L655.7 795.6L655.8 798.6L655.9 794.4L656.0 803.1L656.1 803.8L656.3 806.2L656.4 802.2L656.5 805.2L656.6 798.4L656.7 802.0L656.8 794.7L656.9 793.0L657.0 793.3L657.1 792.1L657.2 786.7L657.2 785.5L657.3 793.2L657.4 790.3L657.5 791.8L657.6 797.4L657.7 793.9L657.8 797.6L657.9 797.0L658.0 796.0L658.1 797.2L658.2 794.9L658.3 797.8L658.4 797.3L658.5 798.7L658.6 799.1L658.7 793.0L658.8 792.6L658.9 795.7L659.0 796.1L659.1 798.5L659.2 798.5L659.3 797.4L659.4 796.7L659.5 795.9L659.6 797.2L659.7 796.1L659.8 793.9L659.9 795.6L660.0 796.2L660.1 795.2L660.2 792.7L660.3 790.8L660.4 794.3L660.5 794.5L660.6 798.8L660.7 801.3L660.8 800.3L660.9 798.4L661.0 795.8L661.1 797.4L661.2 801.5L661.3 800.0L661.4 800.0L661.5 797.0L661.5 797.1L661.6 795.2L661.7 793.4L661.8 791.6L661.9 793.2L662.0 791.4L662.1 793.4L662.2 794.0L662.3 788.9L662.4 789.2L662.5 793.5L662.6 790.1L662.7 789.2L662.8 787.9L662.9 788.7L663.0 789.3L663.1 791.0L663.2 794.5L663.3 790.5L663.4 792.2L663.5 795.2L663.5 796.7L663.6 790.9L663.7 789.7L663.8 791.6L663.9 792.5L664.0 791.4L664.1 790.0L664.2 795.8L664.3 793.6L664.4 794.9L664.5 797.3L664.6 798.7L664.7 795.8L664.8 791.4L664.9 792.5L665.0 792.2L665.0 795.2L665.1 795.2L665.2 793.2L665.3 797.8L665.4 798.7L665.5 796.5L665.6 801.8L665.7 802.0L665.8 799.6L665.9 803.3L666.0 803.3L666.1 802.2L666.2 799.5L666.3 802.7L666.3 798.8L666.4 797.2L666.5 793.9L666.6 790.7L666.7 790.2L666.8 790.1L666.9 796.4L667.0 800.3L667.1 802.6L667.2 802.9L667.3 799.1L667.4 803.3L667.4 802.6L667.5 805.0L667.6 807.9L667.7 801.7L667.8 800.9L667.9 795.6L668.0 792.8L668.1 795.4L668.2 801.7L668.3 794.9L668.4 796.0L668.4 799.1L668.5 796.7L668.6 796.1L668.7 797.4L668.8 797.3L668.9 796.5L669.0 795.4L669.1 793.4L669.2 794.4L669.3 795.2L669.3 793.9L669.4 793.1L669.5 790.7L669.6 791.7L669.7 792.8L669.8 797.0L669.9 793.3L670.0 797.5L670.1 796.6L670.2 798.8L670.2 797.7L670.3 795.1L670.4 799.9L670.5 799.9L670.6 803.6L670.7 798.6L670.8 800.1L670.9 803.5L671.0 804.1L671.0 799.5L671.1 794.4L671.2 791.5L671.3 794.1L671.4 794.7L671.5 789.4L671.6 793.0L671.7 794.2L671.8 796.8L671.8 799.2L671.9 795.4L672.0 793.9L672.1 792.3L672.2 791.4L672.3 789.1L672.4 786.0L672.5 787.2L672.5 789.9L672.6 793.7L672.7 791.1L672.8 793.1L672.9 797.0L673.0 797.2L673.1 796.5L673.2 794.0L673.2 790.9L673.3 793.6L673.4 795.9L673.5 797.2L673.6 800.5L673.7 799.6L673.8 797.7L673.8 797.9L673.9 801.9L674.0 804.2L674.1 799.9L674.2 801.9L674.3 799.1L674.4 797.0L674.4 797.3L674.5 800.0L674.6 798.4L674.7 800.4L674.8 800.3L674.9 798.8L675.0 800.0L675.1 800.0L675.1 800.1L675.2 802.6L675.3 802.5L675.4 802.9L675.5 806.6L675.6 806.3L675.6 805.8L675.7 805.6L675.8 810.1L675.9 805.0L676.0 802.2L676.1 799.5L676.2 799.1L676.2 802.1L676.3 801.2L676.4 802.8L676.5 796.1L676.6 797.7L676.7 795.0L676.8 798.9L676.8 801.9L676.9 802.2L677.0 800.6L677.1 798.9L677.2 797.3L677.3 802.4L677.3 798.5L677.4 801.2L677.5 796.0L677.6 791.2L677.7 789.9L677.8 788.1L677.8 792.0L677.9 785.6L678.0 787.3L678.1 785.9L678.2 789.6L678.3 791.3L678.3 795.8L678.4 796.8L678.5 797.0L678.6 796.4L678.7 793.2L678.8 792.6L678.8 792.6L678.9 793.3L679.0 788.6L679.1 791.7L679.2 790.1L679.3 796.5L679.3 798.7L679.4 796.4L679.5 797.7L679.6 790.1L679.7 784.9L679.8 790.7L679.8 794.9L679.9 795.8L680.0 791.2L680.1 789.5L680.2 790.0L680.2 794.2L680.3 796.6L680.4 804.3L680.5 806.4L680.6 804.2L680.7 800.9L680.7 803.9L680.8 802.8L680.9 798.0L681.0 797.2L681.1 798.3L681.1 797.1L681.2 796.1L681.3 796.2L681.4 798.7L681.5 799.5L681.6 799.3L681.6 800.4L681.7 796.1L681.8 793.9L681.9 791.5L682.0 787.3L682.0 785.0L682.1 784.0L682.2 785.3L682.3 788.0L682.4 784.6L682.4 788.4L682.5 791.0L682.6 794.3L682.7 793.9L682.8 793.5L682.8 792.0L682.9 793.5L683.0 798.8L683.1 798.4L683.2 795.6L683.2 795.9L683.3 796.8L683.4 795.6L683.5 792.4L683.6 793.2L683.6 797.0L683.7 798.8L683.8 799.5L683.9 803.4L684.0 799.7" stroke="#454545"/>
<path d="M89.6 908.9L100.9 907.7L111.2 906.7L120.7 906.1L129.5 904.8L137.7 902.1L145.4 899.4L152.6 896.3L159.4 894.9L165.8 891.9L171.9 887.5L177.7 884.0L183.2 882.0L188.5 879.6L193.5 876.5L198.4 872.7L203.0 871.1L207.5 870.6L211.8 868.4L216.0 863.7L220.0 863.0L223.9 861.2L227.7 859.9L231.3 857.5L234.9 850.9L238.3 848.3L241.7 849.9L244.9 844.6L248.1 842.4L251.2 839.8L254.2 840.1L257.1 842.6L260.0 837.4L262.8 835.2L265.5 828.8L268.2 826.0L270.8 823.2L273.3 824.1L275.8 823.0L278.3 819.7L280.7 819.7L283.0 818.1L285.3 818.4L287.6 817.5L289.8 816.7L292.0 813.9L294.1 810.8L296.2 808.8L298.3 804.1L300.3 799.9L302.3 802.0L304.3 801.6L306.2 802.8L308.1 804.9L310.0 803.7L311.8 802.3L313.6 799.1L315.4 801.4L317.2 800.1L318.9 801.1L320.6 797.5L322.3 792.7L324.0 793.4L325.6 798.3L327.2 793.7L328.8 791.1L330.4 789.6L331.9 789.5L333.5 790.2L335.0 786.0L336.5 790.8L337.9 786.9L339.4 786.8L340.8 790.6L342.3 791.9L343.7 787.5L345.0 787.7L346.4 788.9L347.8 786.7L349.1 781.6L350.4 786.6L351.8 789.0L353.1 788.4L354.3 784.6L355.6 785.2L356.9 784.4L358.1 784.9L359.3 789.4L360.6 791.7L361.8 790.2L363.0 789.3L364.1 789.4L365.3 787.5L366.5 786.6L367.6 784.7L368.7 785.6L369.9 792.2L371.0 791.1L372.1 787.4L373.2 784.9L374.3 784.3L375.3 785.9L376.4 786.4L377.5 781.3L378.5 784.5L379.5 780.3L380.6 785.6L381.6 782.7L382.6 786.4L383.6 778.4L384.6 774.6L385.6 776.1L386.6 777.0L387.5 777.1L388.5 771.5L389.4 773.2L390.4 773.5L391.3 772.1L392.3 770.9L393.2 776.8L394.1 773.4L395.0 772.9L395.9 776.6L396.8 776.5L397.7 775.7L398.6 776.9L399.5 777.0L400.3 776.3L401.2 778.5L402.0 776.3L402.9 770.9L403.7 769.8L404.6 769.7L405.4 773.6L406.2 771.2L407.1 766.4L407.9 769.9L408.7 766.7L409.5 763.6L410.3 768.3L411.1 766.6L411.9 770.2L412.7 768.9L413.4 766.1L414.2 764.5L415.0 767.1L415.7 768.1L416.5 766.4L417.3 767.7L418.0 762.8L418.7 765.9L419.5 761.2L420.2 762.9L421.0 766.7L421.7 771.9L422.4 775.2L423.1 769.0L423.8 772.2L424.5 774.2L425.2 776.2L425.9 771.0L426.6 771.4L427.3 776.1L428.0 769.3L428.7 772.2L429.4 775.8L430.1 774.8L430.7 777.9L431.4 774.8L432.1 774.0L432.7 774.7L433.4 776.9L434.0 777.3L434.7 781.5L435.3 779.5L436.0 780.8L436.6 784.8L437.3 786.1L437.9 780.5L438.5 783.8L439.1 781.8L439.8 784.0L440.4 784.5L441.0 787.3L441.6 786.1L442.2 780.0L442.8 777.5L443.4 781.7L444.0 780.7L444.6 783.0L445.2 782.9L445.8 780.6L446.4 784.3L447.0 780.2L447.6 774.3L448.2 781.9L448.7 775.6L449.3 778.5L449.9 781.5L450.5 782.4L451.0 777.0L451.6 782.3L452.2 776.7L452.7 773.3L453.3 774.4L453.8 778.8L454.4 779.6L454.9 782.5L455.5 779.6L456.0 779.8L456.6 777.0L457.1 776.3L457.6 779.5L458.2 778.3L458.7 780.7L459.2 778.1L459.7 776.9L460.3 778.2L460.8 775.8L461.3 776.8L461.8 777.3L462.3 782.2L462.9 780.2L463.4 778.6L463.9 774.1L464.4 775.4L464.9 777.4L465.4 774.7L465.9 774.8L466.4 777.8L466.9 775.9L467.4 773.6L467.9 775.6L468.4 777.1L468.8 777.2L469.3 779.6L469.8 780.7L470.3 777.2L470.8 774.5L471.3 776.0L471.7 775.6L472.2 770.2L472.7 775.9L473.1 776.0L473.6 779.3L474.1 775.0L474.5 780.0L475.0 775.9L475.5 776.2L475.9 772.4L476.4 774.6L476.8 773.1L477.3 773.8L477.7 776.1L478.2 776.7L478.6 779.4L479.1 777.3L479.5 774.7L480.0 775.7L480.4 778.2L480.9 781.7L481.3 782.6L481.7 775.5L482.2 776.9L482.6 780.1L483.0 780.1L483.5 776.3L483.9 777.3L484.3 774.6L484.8 776.9L485.2 775.9L485.6 780.2L486.0 779.8L486.4 775.3L486.9 777.5L487.3 780.8L487.7 778.0L488.1 776.5L488.5 768.9L488.9 774.4L489.3 773.8L489.8 768.0L490.2 766.2L490.6 769.4L491.0 774.9L491.4 775.4L491.8 777.5L492.2 774.4L492.6 771.7L493.0 777.0L493.4 778.4L493.8 777.6L494.2 781.6L494.6 775.8L494.9 775.4L495.3 779.4L495.7 784.4L496.1 781.5L496.5 785.8L496.9 780.9L497.3 782.0L497.6 780.4L498.0 773.5L498.4 775.9L498.8 778.9L499.2 777.4L499.5 776.7L499.9 780.9L500.3 775.6L500.7 771.6L501.0 771.4L501.4 768.8L501.8 774.4L502.1 775.1L502.5 772.5L502.9 771.9L503.2 783.4L503.6 778.2L504.0 775.0L504.3 775.9L504.7 777.4L505.0 777.4L505.4 773.5L505.8 769.9L506.1 772.7L506.5 773.2L506.8 768.8L507.2 775.3L507.5 777.1L507.9 774.5L508.2 773.0L508.6 772.9L508.9 771.1L509.3 766.4L509.6 769.0L510.0 764.0L510.3 766.9L510.6 763.2L511.0 765.9L511.3 766.3L511.7 773.2L512.0 767.1L512.3 762.0L512.7 760.9L513.0 758.6L513.4 759.3L513.7 763.2L514.0 765.5L514.4 771.7L514.7 767.3L515.0 777.2L515.3 781.3L515.7 777.2L516.0 767.4L516.3 768.0L516.7 769.0L517.0 761.6L517.3 765.1L517.6 766.6L517.9 766.2L518.3 770.1L518.6 774.7L518.9 772.2L519.2 775.8L519.5 773.1L519.9 770.9L520.2 773.1L520.5 776.5L520.8 774.2L521.1 766.6L521.4 770.2L521.7 765.8L522.1 768.4L522.4 775.9L522.7 776.3L523.0 773.1L523.3 768.8L523.6 775.0L523.9 775.9L524.2 778.8L524.5 781.3L524.8 779.4L525.1 778.1L525.4 775.8L525.7 766.0L526.0 765.9L526.3 770.6L526.6 772.5L526.9 774.7L527.2 774.9L527.5 776.0L527.8 779.4L528.1 774.9L528.4 776.2L528.7 773.1L529.0 777.7L529.3 776.9L529.6 778.6L529.9 783.7L530.2 786.5L530.5 784.4L530.7 785.3L531.0 777.3L531.3 779.1L531.6 779.8L531.9 773.8L532.2 779.6L532.5 777.0L532.7 779.4L533.0 776.8L533.3 780.5L533.6 783.0L533.9 779.4L534.2 773.2L534.4 774.2L534.7 777.4L535.0 776.3L535.3 774.4L535.6 777.1L535.8 767.5L536.1 766.9L536.4 764.8L536.7 768.7L536.9 767.3L537.2 765.4L537.5 765.8L537.8 763.4L538.0 766.2L538.3 766.3L538.6 769.2L538.8 768.9L539.1 774.3L539.4 775.0L539.6 777.3L539.9 778.4L540.2 775.8L540.4 778.9L540.7 777.8L541.0 778.3L541.2 776.2L541.5 774.4L541.8 778.3L542.0 784.7L542.3 780.2L542.6 780.7L542.8 778.1L543.1 780.8L543.3 780.7L543.6 783.0L543.9 771.1L544.1 769.9L544.4 768.7L544.6 770.8L544.9 769.3L545.1 768.2L545.4 774.2L545.7 780.9L545.9 769.7L546.2 770.8L546.4 773.0L546.7 773.6L546.9 773.8L547.2 770.7L547.4 769.3L547.7 774.8L547.9 779.2L548.2 779.0L548.4 775.9L548.7 776.5L548.9 776.4L549.2 778.8L549.4 778.5L549.7 776.3L549.9 777.0L550.2 772.8L550.4 776.7L550.6 781.5L550.9 776.6L551.1 779.3L551.4 776.8L551.6 781.1L551.9 783.3L552.1 780.8L552.3 783.7L552.6 781.4L552.8 779.7L553.1 776.9L553.3 777.7L553.5 777.8L553.8 780.6L554.0 778.8L554.3 782.1L554.5 784.3L554.7 780.9L555.0 775.0L555.2 777.8L555.4 781.2L555.7 778.7L555.9 773.8L556.1 775.8L556.4 781.8L556.6 774.3L556.8 777.5L557.1 777.3L557.3 773.8L557.5 776.4L557.8 771.6L558.0 773.4L558.2 778.8L558.4 778.8L558.7 776.2L558.9 771.9L559.1 769.7L559.4 765.8L559.6 774.6L559.8 774.9L560.0 772.7L560.3 769.5L560.5 768.7L560.7 770.1L560.9 768.8L561.2 778.1L561.4 777.1L561.6 775.3L561.8 776.9L562.0 781.4L562.3 784.9L562.5 780.6L562.7 779.6L562.9 779.1L563.1 779.6L563.4 779.9L563.6 777.1L563.8 772.9L564.0 774.9L564.2 770.7L564.5 777.1L564.7 776.7L564.9 772.6L565.1 771.3L565.3 771.7L565.5 771.4L565.8 774.9L566.0 770.0L566.2 765.3L566.4 769.3L566.6 770.4L566.8 771.8L567.0 774.7L567.3 774.5L567.5 776.7L567.7 774.4L567.9 774.9L568.1 773.0L568.3 769.3L568.5 772.4L568.7 774.8L568.9 768.0L569.2 766.7L569.4 769.1L569.6 774.3L569.8 771.7L570.0 772.2L570.2 768.4L570.4 778.3L570.6 780.4L570.8 782.3L571.0 783.6L571.2 784.2L571.4 784.1L571.6 781.0L571.8 782.4L572.0 780.9L572.2 783.6L572.4 777.2L572.7 774.4L572.9 776.0L573.1 779.6L573.3 779.2L573.5 777.0L573.7 776.7L573.9 775.5L574.1 782.6L574.3 784.7L574.5 787.4L574.7 785.8L574.9 781.7L575.1 784.7L575.3 789.6L575.5 789.2L575.7 787.5L575.9 788.3L576.1 784.9L576.2 786.2L576.4 782.4L576.6 777.7L576.8 778.8L577.0 778.4L577.2 784.1L577.4 782.7L577.6 781.7L577.8 776.2L578.0 770.6L578.2 766.3L578.4 771.0L578.6 768.5L578.8 773.9L579.0 779.1L579.2 777.9L579.4 783.4L579.6 783.3L579.7 785.0L579.9 782.9L580.1 784.8L580.3 780.0L580.5 782.3L580.7 779.8L580.9 779.2L581.1 781.6L581.3 781.9L581.4 781.5L581.6 784.3L581.8 786.3L582.0 779.9L582.2 783.4L582.4 785.1L582.6 781.9L582.8 782.6L582.9 776.5L583.1 781.7L583.3 780.4L583.5 780.2L583.7 784.0L583.9 782.9L584.1 784.7L584.2 780.7L584.4 778.9L584.6 774.8L584.8 775.6L585.0 779.8L585.2 781.5L585.3 783.5L585.5 779.2L585.7 776.6L585.9 774.7L586.1 778.2L586.3 779.4L586.4 779.4L586.6 781.3L586.8 779.3L587.0 779.1L587.2 783.3L587.3 780.7L587.5 781.1L587.7 785.0L587.9 784.2L588.0 785.6L588.2 782.4L588.4 788.5L588.6 778.4L588.8 775.2L588.9 772.7L589.1 781.5L589.3 782.4L589.5 780.5L589.6 775.9L589.8 779.0L590.0 779.5L590.2 776.0L590.3 772.7L590.5 771.0L590.7 773.7L590.9 776.7L591.0 777.2L591.2 776.6L591.4 771.9L591.6 773.6L591.7 771.9L591.9 774.0L592.1 777.3L592.2 775.7L592.4 772.2L592.6 777.5L592.8 778.8L592.9 777.2L593.1 767.8L593.3 771.4L593.4 775.5L593.6 779.1L593.8 776.5L594.0 775.2L594.1 774.5L594.3 778.0L594.5 775.1L594.6 775.6L594.8 774.0L595.0 776.4L595.1 771.3L595.3 773.9L595.5 773.2L595.6 774.0L595.8 776.4L596.0 779.8L596.1 773.0L596.3 777.0L596.5 778.2L596.6 776.4L596.8 782.0L597.0 781.5L597.1 784.2L597.3 780.4L597.5 777.5L597.6 782.0L597.8 788.1L598.0 786.8L598.1 786.4L598.3 782.1L598.5 776.3L598.6 774.7L598.8 779.2L598.9 772.0L599.1 770.0L599.3 763.9L599.4 766.7L599.6 771.7L599.7 768.5L599.9 769.2L600.1 776.0L600.2 776.2L600.4 772.0L600.6 770.0L600.7 766.2L600.9 772.4L601.0 771.2L601.2 776.7L601.4 778.9L601.5 776.2L601.7 773.5L601.8 776.5L602.0 777.5L602.1 778.2L602.3 773.3L602.5 777.4L602.6 774.7L602.8 767.8L602.9 768.6L603.1 772.4L603.3 781.4L603.4 780.3L603.6 775.9L603.7 783.2L603.9 783.0L604.0 781.9L604.2 778.2L604.3 775.6L604.5 782.1L604.7 781.6L604.8 778.3L605.0 777.9L605.1 784.2L605.3 781.7L605.4 783.3L605.6 783.6L605.7 784.0L605.9 779.6L606.0 782.3L606.2 787.2L606.3 786.1L606.5 782.2L606.7 777.7L606.8 779.3L607.0 779.3L607.1 779.6L607.3 780.4L607.4 775.5L607.6 778.9L607.7 779.8L607.9 778.9L608.0 779.4L608.2 782.6L608.3 781.1L608.5 777.0L608.6 781.5L608.8 779.0L608.9 776.4L609.1 771.0L609.2 772.2L609.4 769.8L609.5 770.9L609.7 774.4L609.8 774.6L610.0 778.9L610.1 780.0L610.3 778.6L610.4 776.8L610.5 775.4L610.7 779.3L610.8 778.7L611.0 777.5L611.1 780.2L611.3 779.3L611.4 777.2L611.6 772.8L611.7 776.2L611.9 777.1L612.0 777.3L612.2 775.6L612.3 772.3L612.5 773.0L612.6 775.6L612.7 776.5L612.9 776.3L613.0 776.0L613.2 778.4L613.3 779.3L613.5 776.8L613.6 779.7L613.8 782.3L613.9 785.1L614.0 783.0L614.2 780.9L614.3 777.1L614.5 780.2L614.6 772.1L614.8 771.9L614.9 771.9L615.0 775.8L615.2 776.4L615.3 774.1L615.5 770.4L615.6 770.1L615.7 772.0L615.9 774.2L616.0 775.3L616.2 773.9L616.3 774.1L616.4 779.5L616.6 776.5L616.7 777.0L616.9 781.9L617.0 782.8L617.1 781.0L617.3 782.4L617.4 779.0L617.6 778.8L617.7 784.1L617.8 789.6L618.0 781.1L618.1 782.7L618.3 787.9L618.4 783.7L618.5 782.7L618.7 786.8L618.8 783.3L618.9 784.0L619.1 783.3L619.2 776.1L619.4 778.3L619.5 777.8L619.6 781.1L619.8 787.6L619.9 787.8L620.0 783.9L620.2 784.9L620.3 784.3L620.4 785.9L620.6 778.5L620.7 774.7L620.9 769.3L621.0 773.9L621.1 775.6L621.3 774.3L621.4 773.5L621.5 772.3L621.7 771.0L621.8 772.3L621.9 772.1L622.1 778.0L622.2 779.3L622.3 776.8L622.5 776.2L622.6 780.3L622.7 782.2L622.9 782.0L623.0 783.3L623.1 786.9L623.3 781.1L623.4 778.0L623.5 772.8L623.7 775.8L623.8 776.4L623.9 775.2L624.1 773.8L624.2 777.5L624.3 777.9L624.4 776.7L624.6 780.9L624.7 776.9L624.8 773.5L625.0 783.4L625.1 781.6L625.2 779.5L625.4 777.6L625.5 777.5L625.6 780.6L625.8 783.5L625.9 785.1L626.0 784.0L626.1 778.6L626.3 780.2L626.4 784.7L626.5 787.6L626.7 785.4L626.8 786.3L626.9 783.5L627.0 782.7L627.2 777.2L627.3 776.0L627.4 777.5L627.6 777.4L627.7 780.1L627.8 785.0L627.9 788.4L628.1 785.9L628.2 782.5L628.3 779.4L628.4 776.6L628.6 777.9L628.7 779.6L628.8 780.1L629.0 780.4L629.1 781.0L629.2 780.2L629.3 777.7L629.5 782.7L629.6 784.3L629.7 780.6L629.8 778.1L630.0 777.0L630.1 778.4L630.2 782.5L630.3 785.0L630.5 787.4L630.6 789.1L630.7 791.3L630.8 790.6L631.0 789.4L631.1 786.8L631.2 779.5L631.3 779.5L631.5 784.1L631.6 781.9L631.7 779.8L631.8 783.1L631.9 783.3L632.1 782.4L632.2 787.0L632.3 788.1L632.4 789.2L632.6 786.1L632.7 786.5L632.8 786.3L632.9 787.9L633.1 789.8L633.2 791.8L633.3 790.5L633.4 790.6L633.5 785.3L633.7 786.6L633.8 787.6L633.9 785.7L634.0 782.6L634.1 782.4L634.3 777.7L634.4 779.8L634.5 780.3L634.6 777.4L634.7 779.0L634.9 783.5L635.0 786.2L635.1 787.8L635.2 786.1L635.3 783.8L635.5 782.2L635.6 783.2L635.7 790.3L635.8 793.3L635.9 794.9L636.1 795.7L636.2 787.3L636.3 785.6L636.4 782.3L636.5 785.6L636.7 789.4L636.8 785.0L636.9 784.3L637.0 784.1L637.1 780.9L637.2 778.1L637.4 776.4L637.5 779.3L637.6 775.9L637.7 780.0L637.8 779.7L638.0 781.3L638.1 785.1L638.2 781.7L638.3 779.7L638.4 780.4L638.5 777.0L638.7 775.1L638.8 775.4L638.9 777.3L639.0 774.4L639.1 774.6L639.2 777.3L639.3 781.4L639.5 775.3L639.6 780.0L639.7 782.2L639.8 778.7L639.9 773.9L640.0 775.9L640.2 775.6L640.3 776.7L640.4 780.1L640.5 778.5L640.6 779.4L640.7 780.5L640.8 783.5L641.0 788.3L641.1 791.9L641.2 791.0L641.3 788.4L641.4 793.7L641.5 793.7L641.6 792.6L641.8 787.7L641.9 788.9L642.0 785.8L642.1 783.4L642.2 778.6L642.3 777.0L642.4 778.4L642.5 773.6L642.7 771.5L642.8 772.3L642.9 770.1L643.0 768.5L643.1 767.9L643.2 766.4L643.3 771.0L643.4 770.4L643.6 775.1L643.7 778.6L643.8 775.5L643.9 776.6L644.0 776.1L644.1 773.8L644.2 774.2L644.3 775.1L644.4 778.4L644.6 782.3L644.7 778.9L644.8 778.1L644.9 780.7L645.0 784.8L645.1 777.7L645.2 782.7L645.3 782.1L645.4 786.8L645.5 784.8L645.7 781.1L645.8 780.9L645.9 785.1L646.0 784.6L646.1 775.9L646.2 778.8L646.3 774.6L646.4 772.4L646.5 771.6L646.6 768.7L646.7 768.0L646.9 767.7L647.0 769.0L647.1 771.8L647.2 773.1L647.3 770.3L647.4 772.2L647.5 777.1L647.6 781.0L647.7 781.2L647.8 783.3L647.9 785.7L648.0 789.0L648.2 792.7L648.3 789.1L648.4 787.3L648.5 790.8L648.6 793.1L648.7 795.3L648.8 785.5L648.9 783.8L649.0 774.3L649.1 778.0L649.2 779.7L649.3 780.4L649.4 779.9L649.5 784.1L649.6 781.7L649.8 785.3L649.9 786.3L650.0 786.7L650.1 787.1L650.2 786.0L650.3 781.9L650.4 783.5L650.5 784.9L650.6 783.8L650.7 784.8L650.8 787.3L650.9 781.9L651.0 781.6L651.1 779.9L651.2 776.8L651.3 778.5L651.4 776.5L651.5 775.8L651.6 777.3L651.8 778.5L651.9 779.8L652.0 786.0L652.1 783.4L652.2 783.9L652.3 779.1L652.4 780.3L652.5 783.1L652.6 785.4L652.7 781.7L652.8 780.1L652.9 783.4L653.0 782.0L653.1 783.3L653.2 779.7L653.3 783.6L653.4 785.5L653.5 784.9L653.6 780.9L653.7 780.6L653.8 781.3L653.9 781.7L654.0 780.5L654.1 780.0L654.2 780.4L654.3 784.9L654.4 777.9L654.5 774.5L654.6 770.9L654.7 770.8L654.8 767.2L654.9 771.4L655.0 773.0L655.1 773.1L655.2 772.5L655.3 774.3L655.4 774.8L655.5 776.3L655.6 774.7L655.7 777.3L655.8 774.2L655.9 778.4L656.0 769.8L656.1 769.0L656.3 766.7L656.4 770.7L656.5 767.6L656.6 774.5L656.7 770.9L656.8 778.2L656.9 779.8L657.0 779.5L657.1 780.7L657.2 786.2L657.2 787.4L657.3 779.6L657.4 782.5L657.5 781.0L657.6 775.4L657.7 778.9L657.8 775.2L657.9 775.9L658.0 776.9L658.1 775.6L658.2 778.0L658.3 775.0L658.4 775.5L658.5 774.2L658.6 773.7L658.7 779.8L658.8 780.3L658.9 777.2L659.0 776.7L659.1 774.3L659.2 774.3L659.3 775.4L659.4 776.2L659.5 776.9L659.6 775.7L659.7 776.7L659.8 778.9L659.9 777.3L660.0 776.7L660.1 777.6L660.2 780.2L660.3 782.1L660.4 778.6L660.5 778.4L660.6 774.1L660.7 771.5L660.8 772.6L660.9 774.4L661.0 777.1L661.1 775.4L661.2 771.4L661.3 772.8L661.4 772.8L661.5 775.8L661.5 775.8L661.6 777.7L661.7 779.4L661.8 781.2L661.9 779.6L662.0 781.4L662.1 779.5L662.2 778.9L662.3 783.9L662.4 783.7L662.5 779.4L662.6 782.8L662.7 783.7L662.8 785.0L662.9 784.2L663.0 783.6L663.1 781.9L663.2 778.4L663.3 782.4L663.4 780.6L663.5 777.6L663.5 776.1L663.6 782.0L663.7 783.1L663.8 781.3L663.9 780.3L664.0 781.4L664.1 782.9L664.2 777.1L664.3 779.3L664.4 778.0L664.5 775.5L664.6 774.1L664.7 777.0L664.8 781.4L664.9 780.4L665.0 780.7L665.0 777.7L665.1 777.7L665.2 779.6L665.3 775.0L665.4 774.2L665.5 776.4L665.6 771.1L665.7 770.8L665.8 773.3L665.9 769.6L666.0 769.6L666.1 770.6L666.2 773.4L666.3 770.1L666.3 774.1L666.4 775.6L666.5 779.0L666.6 782.2L666.7 782.7L666.8 782.7L666.9 776.5L667.0 772.5L667.1 770.3L667.2 769.9L667.3 773.7L667.4 769.5L667.4 770.3L667.5 767.9L667.6 765.0L667.7 771.1L667.8 772.0L667.9 777.2L668.0 780.0L668.1 777.4L668.2 771.2L668.3 777.9L668.4 776.9L668.4 773.7L668.5 776.2L668.6 776.7L668.7 775.5L668.8 775.5L668.9 776.3L669.0 777.5L669.1 779.4L669.2 778.4L669.3 777.7L669.3 778.9L669.4 779.8L669.5 782.2L669.6 781.1L669.7 780.0L669.8 775.8L669.9 779.5L670.0 775.3L670.1 776.2L670.2 774.1L670.2 775.1L670.3 777.7L670.4 773.0L670.5 773.0L670.6 769.3L670.7 774.3L670.8 772.7L670.9 769.4L671.0 768.7L671.0 773.4L671.1 778.4L671.2 781.3L671.3 778.8L671.4 778.2L671.5 783.5L671.6 779.9L671.7 778.7L671.8 776.1L671.8 773.7L671.9 777.4L672.0 778.9L672.1 780.5L672.2 781.5L672.3 783.8L672.4 786.9L672.5 785.6L672.5 782.9L672.6 779.1L672.7 781.7L672.8 779.7L672.9 775.8L673.0 775.7L673.1 776.3L673.2 778.9L673.2 781.9L673.3 779.2L673.4 776.9L673.5 775.7L673.6 772.4L673.7 773.2L673.8 775.2L673.8 774.9L673.9 771.0L674.0 768.7L674.1 772.9L674.2 771.0L674.3 773.7L674.4 775.9L674.4 775.5L674.5 772.8L674.6 774.5L674.7 772.4L674.8 772.6L674.9 774.1L675.0 772.9L675.1 772.9L675.1 772.7L675.2 770.3L675.3 770.3L675.4 769.9L675.5 766.3L675.6 766.6L675.6 767.0L675.7 767.2L675.8 762.8L675.9 767.8L676.0 770.6L676.1 773.4L676.2 773.7L676.2 770.7L676.3 771.6L676.4 770.0L676.5 776.8L676.6 775.1L676.7 777.9L676.8 773.9L676.8 771.0L676.9 770.6L677.0 772.2L677.1 774.0L677.2 775.5L677.3 770.5L677.3 774.3L677.4 771.7L677.5 776.8L677.6 781.6L677.7 782.9L677.8 784.8L677.8 780.8L677.9 787.3L678.0 785.6L678.1 787.0L678.2 783.2L678.3 781.6L678.3 777.0L678.4 776.0L678.5 775.9L678.6 776.4L678.7 779.7L678.8 780.3L678.8 780.3L678.9 779.5L679.0 784.3L679.1 781.2L679.2 782.7L679.3 776.4L679.3 774.2L679.4 776.5L679.5 775.1L679.6 782.8L679.7 788.0L679.8 782.1L679.8 777.9L679.9 777.1L680.0 781.7L680.1 783.3L680.2 782.9L680.2 778.6L680.3 776.3L680.4 768.6L680.5 766.4L680.6 768.7L680.7 771.9L680.7 769.0L680.8 770.1L680.9 774.9L681.0 775.6L681.1 774.5L681.1 775.7L681.2 776.7L681.3 776.7L681.4 774.2L681.5 773.4L681.6 773.5L681.6 772.5L681.7 776.8L681.8 778.9L681.9 781.4L682.0 785.6L682.0 787.8L682.1 788.8L682.2 787.6L682.3 784.9L682.4 788.3L682.4 784.4L682.5 781.8L682.6 778.6L682.7 779.0L682.8 779.3L682.8 780.9L682.9 779.3L683.0 774.0L683.1 774.4L683.2 777.3L683.2 777.0L683.3 776.0L683.4 777.3L683.5 780.5L683.6 779.6L683.6 775.9L683.7 774.1L683.8 773.3L683.9 769.4L684.0 773.2" stroke="#e8403a"/>
</g>
<path d="M89.60 663.50H684.00V909.35H89.60Z" stroke="#000" stroke-width="1.20" fill="none"/>
<text x="69.6" y="915.8" font-size="20.5" text-anchor="end">0</text>
<text x="69.6" y="866.6" font-size="20.5" text-anchor="end">100</text>
<text x="69.6" y="817.4" font-size="20.5" text-anchor="end">200</text>
<text x="69.6" y="768.2" font-size="20.5" text-anchor="end">300</text>
<text x="69.6" y="719.1" font-size="20.5" text-anchor="end">400</text>
<text x="69.6" y="669.9" font-size="20.5" text-anchor="end">500</text>
<text x="89.8" y="945.1" font-size="20.5" text-anchor="middle">10</text>
<text x="363.2" y="945.1" font-size="20.5" text-anchor="middle">100</text>
<text x="636.5" y="945.1" font-size="20.5" text-anchor="middle">1000</text>
<text transform="translate(17.2 786.4) rotate(-90)" font-size="20.5" text-anchor="middle">Population</text>
<text x="-1.0" y="662.1" font-size="29.5" font-weight="bold" fill="#000">c</text>
<text x="669" y="892.1" font-size="20.6" text-anchor="end">21 Configurations</text>
<path d="M521.5 686.6H562.8" stroke="#111" stroke-width="1.6"/>
<path d="M521.5 717.4H562.8" stroke="#e8403a" stroke-width="1.6"/>
<text transform="translate(572.6 692.4) scale(1.18 1.03)" font-size="20.5" font-family="'Liberation Serif', 'DejaVu Serif', serif">Σ</text><text x="590.3" y="692.4" font-size="17.5">eclipsed</text>
<text transform="translate(572.6 723.4) scale(1.18 1.03)" font-size="20.5" font-family="'Liberation Serif', 'DejaVu Serif', serif">Σ</text><text x="590.3" y="723.4" font-size="17.5">staggered</text>
<polygon points="133.10,729.00 151.89,739.85 151.89,761.55 133.10,772.40 114.31,761.55 114.31,739.85" fill="none" stroke="#111" stroke-width="1.20" stroke-linejoin="miter"/><line x1="134.97" y1="734.01" x2="146.62" y2="740.73" stroke="#111" stroke-width="1.20"/><line x1="146.62" y1="760.67" x2="134.97" y2="767.39" stroke="#111" stroke-width="1.20"/><line x1="117.71" y1="757.43" x2="117.71" y2="743.97" stroke="#111" stroke-width="1.20"/>
<path d="M163.20 756.60H172.60M167.90 751.90V761.30" stroke="#111" stroke-width="1.20" fill="none"/>
<polygon points="203.80,729.00 222.59,739.85 222.59,761.55 203.80,772.40 185.01,761.55 185.01,739.85" fill="none" stroke="#111" stroke-width="1.20" stroke-linejoin="miter"/><line x1="219.19" y1="743.97" x2="219.19" y2="757.43" stroke="#111" stroke-width="1.20"/><line x1="201.93" y1="767.39" x2="190.28" y2="760.67" stroke="#111" stroke-width="1.20"/><line x1="190.28" y1="740.73" x2="201.93" y2="734.01" stroke="#111" stroke-width="1.20"/>
<polygon points="133.10,798.70 151.89,809.55 151.89,831.25 133.10,842.10 114.31,831.25 114.31,809.55" fill="none" stroke="#e8403a" stroke-width="1.25" stroke-linejoin="miter"/><circle cx="140.90" cy="806.89" r="1.85" fill="none" stroke="#e8403a" stroke-width="1.1"/><path d="M147.25 818.95L150.15 821.85M147.25 821.85L150.15 818.95" stroke="#e8403a" stroke-width="1.1" fill="none"/><circle cx="140.90" cy="833.91" r="1.85" fill="none" stroke="#e8403a" stroke-width="1.1"/><path d="M123.85 832.46L126.75 835.36M123.85 835.36L126.75 832.46" stroke="#e8403a" stroke-width="1.1" fill="none"/><circle cx="117.50" cy="820.40" r="1.85" fill="none" stroke="#e8403a" stroke-width="1.1"/><path d="M123.85 805.44L126.75 808.34M123.85 808.34L126.75 805.44" stroke="#e8403a" stroke-width="1.1" fill="none"/>
<path d="M164.00 826.90H173.40M168.70 822.20V831.60" stroke="#e8403a" stroke-width="1.20" fill="none"/>
<polygon points="203.80,798.70 222.59,809.55 222.59,831.25 203.80,842.10 185.01,831.25 185.01,809.55" fill="none" stroke="#e8403a" stroke-width="1.25" stroke-linejoin="miter"/><path d="M210.98 808.79L212.22 804.99M209.70 806.27L213.50 807.51" stroke="#e8403a" stroke-width="1.1" fill="none"/><circle cx="219.40" cy="820.40" r="1.85" fill="none" stroke="#e8403a" stroke-width="1.1"/><path d="M210.98 835.81L212.22 832.01M209.70 833.29L213.50 834.53" stroke="#e8403a" stroke-width="1.1" fill="none"/><circle cx="196.00" cy="833.91" r="1.85" fill="none" stroke="#e8403a" stroke-width="1.1"/><path d="M187.58 822.30L188.82 818.50M186.30 819.78L190.10 821.02" stroke="#e8403a" stroke-width="1.1" fill="none"/><circle cx="196.00" cy="806.89" r="1.85" fill="none" stroke="#e8403a" stroke-width="1.1"/>
</g>
<text x="387.4" y="974.3" font-family="'Liberation Sans', Arial, Helvetica, sans-serif" font-size="20.5" font-style="italic" text-anchor="middle" fill="#111">k</text>
</svg>
</body></html>
